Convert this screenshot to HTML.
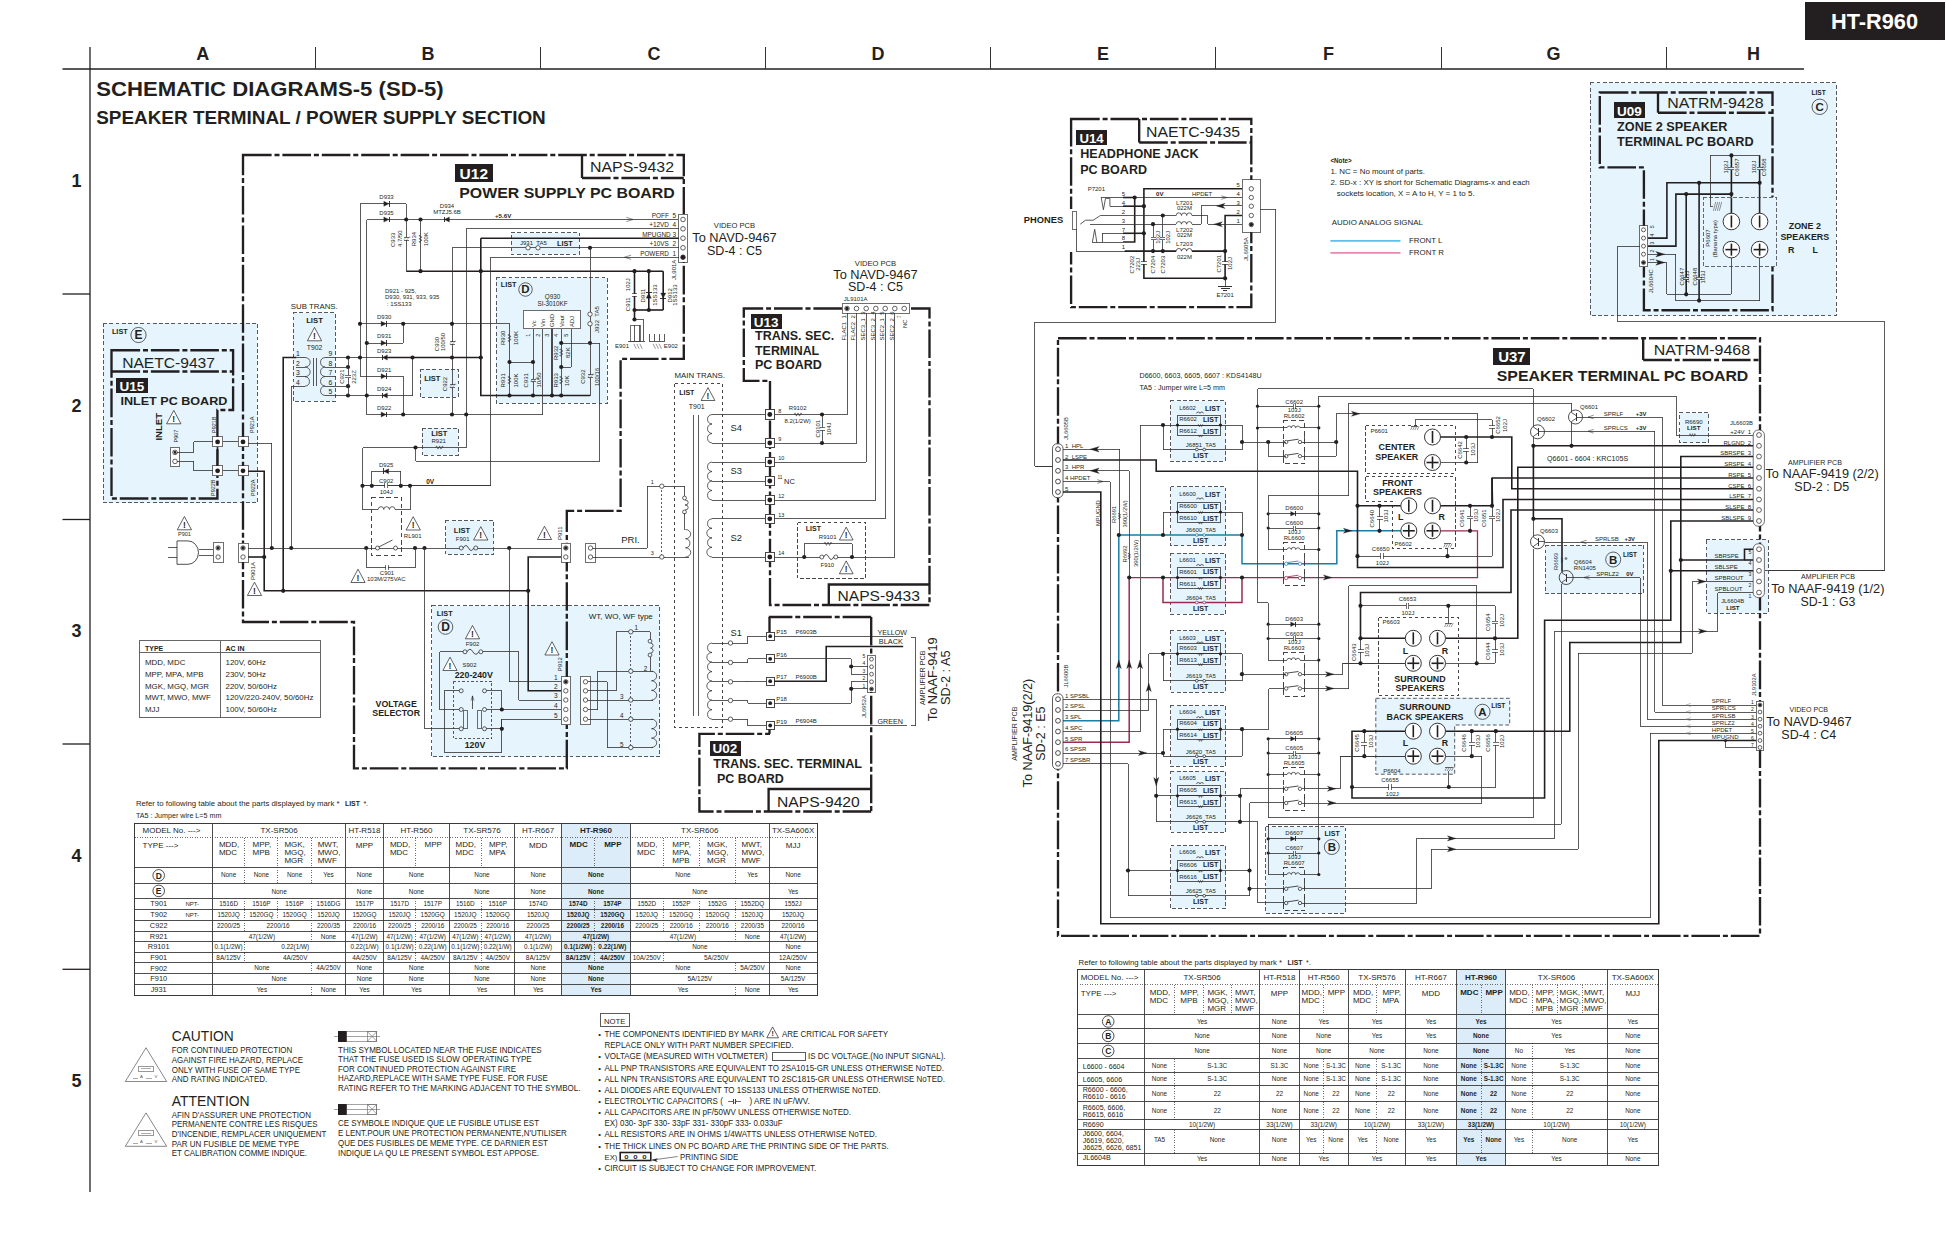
<!DOCTYPE html>
<html><head><meta charset="utf-8"><title>HT-R960 Schematic Diagrams-5</title>
<style>
html,body{margin:0;padding:0;background:#fff}
body{width:1946px;height:1260px;overflow:hidden}
svg{display:block;font-family:"Liberation Sans",Arial,Helvetica,sans-serif;fill:#231f20}
svg path{fill:none}
svg text{white-space:pre}
</style></head><body>
<svg width="1946" height="1260" viewBox="0 0 1946 1260">
<rect x="293.2" y="312.5" width="42.2" height="88.8" fill="#e5f4fd" stroke="#55595e" stroke-width="1" stroke-dasharray="3.8 2.4" shape-rendering="crispEdges"/>
<rect x="496.2" y="277.5" width="111.2" height="125.5" fill="#e5f4fd" stroke="#55595e" stroke-width="1" stroke-dasharray="3.8 2.4" shape-rendering="crispEdges"/>
<rect x="511.2" y="232.5" width="68.2" height="21.8" fill="#e5f4fd" stroke="#55595e" stroke-width="1" stroke-dasharray="3.8 2.4" shape-rendering="crispEdges"/>
<rect x="420" y="369.2" width="38.2" height="28.2" fill="#e5f4fd" stroke="#55595e" stroke-width="1" stroke-dasharray="3.8 2.4" shape-rendering="crispEdges"/>
<rect x="422" y="428.2" width="36" height="27.2" fill="#e5f4fd" stroke="#55595e" stroke-width="1" stroke-dasharray="3.8 2.4" shape-rendering="crispEdges"/>
<rect x="445.5" y="520.5" width="48.2" height="33.8" fill="#e5f4fd" stroke="#55595e" stroke-width="1" stroke-dasharray="3.8 2.4" shape-rendering="crispEdges"/>
<rect x="431.8" y="605.8" width="227.8" height="151" fill="#e5f4fd" stroke="#55595e" stroke-width="1" stroke-dasharray="3.8 2.4" shape-rendering="crispEdges"/>
<rect x="103.1" y="323.4" width="154.2" height="179.1" fill="#e5f4fd" stroke="#55595e" stroke-width="1" stroke-dasharray="3.8 2.4" shape-rendering="crispEdges"/>
<rect x="1590.3" y="82.5" width="245.7" height="233.2" fill="#e5f4fd" stroke="#55595e" stroke-width="1" stroke-dasharray="3.8 2.4" shape-rendering="crispEdges"/>
<rect x="1170.5" y="400.8" width="55" height="60.5" fill="#e5f4fd" stroke="#55595e" stroke-width="1" stroke-dasharray="3.8 2.4" shape-rendering="crispEdges"/>
<rect x="1170.5" y="486.8" width="55" height="58.8" fill="#e5f4fd" stroke="#55595e" stroke-width="1" stroke-dasharray="3.8 2.4" shape-rendering="crispEdges"/>
<rect x="1170.5" y="553.2" width="55" height="61" fill="#e5f4fd" stroke="#55595e" stroke-width="1" stroke-dasharray="3.8 2.4" shape-rendering="crispEdges"/>
<rect x="1170.5" y="630.8" width="55" height="61.2" fill="#e5f4fd" stroke="#55595e" stroke-width="1" stroke-dasharray="3.8 2.4" shape-rendering="crispEdges"/>
<rect x="1170.5" y="705.5" width="55" height="60.8" fill="#e5f4fd" stroke="#55595e" stroke-width="1" stroke-dasharray="3.8 2.4" shape-rendering="crispEdges"/>
<rect x="1170.5" y="771.2" width="55" height="61.2" fill="#e5f4fd" stroke="#55595e" stroke-width="1" stroke-dasharray="3.8 2.4" shape-rendering="crispEdges"/>
<rect x="1170.5" y="845.5" width="55" height="62.8" fill="#e5f4fd" stroke="#55595e" stroke-width="1" stroke-dasharray="3.8 2.4" shape-rendering="crispEdges"/>
<rect x="1265.5" y="826.5" width="79.5" height="86.8" fill="#e5f4fd" stroke="#55595e" stroke-width="1" stroke-dasharray="3.8 2.4" shape-rendering="crispEdges"/>
<rect x="1679.5" y="412.5" width="29.2" height="30" fill="#e5f4fd" stroke="#55595e" stroke-width="1" stroke-dasharray="3.8 2.4" shape-rendering="crispEdges"/>
<rect x="1545" y="545" width="98.8" height="48" fill="#e5f4fd" stroke="#55595e" stroke-width="1" stroke-dasharray="3.8 2.4" shape-rendering="crispEdges"/>
<rect x="1706.2" y="539.5" width="61.8" height="73.8" fill="#e5f4fd" stroke="#55595e" stroke-width="1" stroke-dasharray="3.8 2.4" shape-rendering="crispEdges"/>
<path d="M1375.8 698.3H1509.7V725H1454.7V774.2H1375.8Z" stroke="#55595e" stroke-width="1" stroke-dasharray="3.8 2.4" style="fill:#e5f4fd"/>
<path d="M62.5 69L1804 69" stroke="#231f20" stroke-width="1.3"/>
<path d="M90 47L90 1192" stroke="#231f20" stroke-width="1.3"/>
<path d="M315 47L315 69" stroke="#343132" stroke-width="1.0" shape-rendering="crispEdges"/>
<path d="M540 47L540 69" stroke="#343132" stroke-width="1.0" shape-rendering="crispEdges"/>
<path d="M765.3 47L765.3 69" stroke="#343132" stroke-width="1.0" shape-rendering="crispEdges"/>
<path d="M990.6 47L990.6 69" stroke="#343132" stroke-width="1.0" shape-rendering="crispEdges"/>
<path d="M1215.8 47L1215.8 69" stroke="#343132" stroke-width="1.0" shape-rendering="crispEdges"/>
<path d="M1441 47L1441 69" stroke="#343132" stroke-width="1.0" shape-rendering="crispEdges"/>
<path d="M1666.4 47L1666.4 69" stroke="#343132" stroke-width="1.0" shape-rendering="crispEdges"/>
<path d="M62.5 294L90 294" stroke="#231f20" stroke-width="1.3"/>
<path d="M62.5 519.5L90 519.5" stroke="#231f20" stroke-width="1.3"/>
<path d="M62.5 744L90 744" stroke="#231f20" stroke-width="1.3"/>
<path d="M62.5 969.3L90 969.3" stroke="#231f20" stroke-width="1.3"/>
<text x="202.7" y="59.8" font-size="18" font-weight="bold" text-anchor="middle">A</text>
<text x="428" y="59.8" font-size="18" font-weight="bold" text-anchor="middle">B</text>
<text x="654" y="59.8" font-size="18" font-weight="bold" text-anchor="middle">C</text>
<text x="878" y="59.8" font-size="18" font-weight="bold" text-anchor="middle">D</text>
<text x="1103" y="59.8" font-size="18" font-weight="bold" text-anchor="middle">E</text>
<text x="1328.4" y="59.8" font-size="18" font-weight="bold" text-anchor="middle">F</text>
<text x="1553.5" y="59.8" font-size="18" font-weight="bold" text-anchor="middle">G</text>
<text x="1753.6" y="59.8" font-size="18" font-weight="bold" text-anchor="middle">H</text>
<text x="76.5" y="186.5" font-size="18" font-weight="bold" text-anchor="middle">1</text>
<text x="76.5" y="411.5" font-size="18" font-weight="bold" text-anchor="middle">2</text>
<text x="76.5" y="636.9" font-size="18" font-weight="bold" text-anchor="middle">3</text>
<text x="76.5" y="862.2" font-size="18" font-weight="bold" text-anchor="middle">4</text>
<text x="76.5" y="1087" font-size="18" font-weight="bold" text-anchor="middle">5</text>
<rect x="1805" y="1.5" width="139.5" height="38.5" fill="#231f20" stroke="none" stroke-width="0.7" shape-rendering="crispEdges"/>
<text x="1874.5" y="29.4" font-size="21.5" font-weight="bold" text-anchor="middle" textLength="87" lengthAdjust="spacingAndGlyphs" fill="#fff">HT-R960</text>
<text x="96.2" y="95.9" font-size="20.5" font-weight="bold" textLength="347.5" lengthAdjust="spacingAndGlyphs">SCHEMATIC DIAGRAMS-5 (SD-5)</text>
<text x="96.2" y="123.6" font-size="18.6" font-weight="bold" textLength="449.6" lengthAdjust="spacingAndGlyphs">SPEAKER TERMINAL / POWER SUPPLY SECTION</text>
<path d="M243 155L683.8 155L683.8 358.8L620.6 358.8L620.6 510.8L566.8 510.8L566.8 768.4L354 768.4L354 622L243 622Z" stroke="#231f20" stroke-width="2.35" stroke-dasharray="28.6 2.9 5 2.9"/>
<path d="M582 155L582 178" stroke="#231f20" stroke-width="2.35"/>
<path d="M582 178L683.8 178" stroke="#231f20" stroke-width="2.35" stroke-dasharray="28.6 2.9 5 2.9"/>
<text x="590" y="172" font-size="15" textLength="84" lengthAdjust="spacingAndGlyphs">NAPS-9432</text>
<rect x="455" y="164.2" width="37.5" height="18.2" fill="#231f20" stroke="none" stroke-width="0.7" shape-rendering="crispEdges"/>
<text x="473.8" y="179.4" font-size="15.5" font-weight="bold" text-anchor="middle" fill="#fff">U12</text>
<text x="459.2" y="197.5" font-size="14.7" font-weight="bold" textLength="215.5" lengthAdjust="spacingAndGlyphs">POWER SUPPLY PC BOARD</text>
<path d="M360 376.2L360 203.8L406.2 203.8L406.2 271.2" stroke="#343132" stroke-width="0.8" shape-rendering="crispEdges"/>
<path d="M383.8 201.2L388.9 203.8L383.8 206.3Z" stroke="#231f20" stroke-width="0.3" style="fill:#231f20"/>
<path d="M389.2 200.9L389.2 206.6" stroke="#231f20" stroke-width="0.9" shape-rendering="crispEdges"/>
<text x="386.5" y="199.2" font-size="6" text-anchor="middle">D933</text>
<path d="M366.8 414.5L366.8 219.5L677.5 219.5" stroke="#343132" stroke-width="0.8" shape-rendering="crispEdges"/>
<path d="M383.8 216.9L388.9 219.5L383.8 222.1Z" stroke="#231f20" stroke-width="0.3" style="fill:#231f20"/>
<path d="M389.2 216.6L389.2 222.4" stroke="#231f20" stroke-width="0.9" shape-rendering="crispEdges"/>
<text x="386.5" y="215" font-size="6" text-anchor="middle">D935</text>
<path d="M449.4 216.9L444.3 219.5L449.4 222.1Z" stroke="#231f20" stroke-width="0.3" style="fill:#231f20"/>
<path d="M444 216.6L444 222.4" stroke="#231f20" stroke-width="0.9" shape-rendering="crispEdges"/>
<text x="447" y="208" font-size="6" text-anchor="middle">D934</text>
<text x="447" y="214.2" font-size="6" text-anchor="middle">MTZJ5.6B</text>
<text x="495" y="217.5" font-size="6.2" font-weight="bold">+5.6V</text>
<path d="M626.4 217.4L633 219.5L626.4 221.6" stroke="#231f20" stroke-width="0.5"/>
<circle cx="406.2" cy="219.5" r="2.1" fill="#231f20"/>
<circle cx="420.5" cy="219.5" r="2.1" fill="#231f20"/>
<path d="M420.5 219.5L420.5 271.2" stroke="#343132" stroke-width="0.8" shape-rendering="crispEdges"/>
<path d="M420.5 235L418.9 235.8L422.1 237.2L418.9 238.8L422.1 240.2L418.9 241.8L420.5 242.5" stroke="#343132" stroke-width="0.6"/>
<rect x="404.9" y="237.4" width="2.8" height="2.6" fill="#fff" stroke="none" stroke-width="0.7" shape-rendering="crispEdges"/>
<path d="M403.8 237.4L408.8 237.4" stroke="#343132" stroke-width="0.7" shape-rendering="crispEdges"/>
<path d="M403.8 240.1L408.8 240.1" stroke="#343132" stroke-width="0.7" shape-rendering="crispEdges"/>
<path d="M403.8 239.9L406.8 236.6" stroke="#343132" stroke-width="0.4"/>
<path d="M405.8 240.9L408.8 237.6" stroke="#343132" stroke-width="0.4"/>
<text x="408.4" y="237.6" font-size="3.5">+</text>
<text x="395" y="247" font-size="6" transform="rotate(-90 395 247)">C933</text>
<text x="401.5" y="247" font-size="6" transform="rotate(-90 401.5 247)">4.7/50</text>
<text x="416.2" y="246.2" font-size="6" transform="rotate(-90 416.2 246.2)">R934</text>
<text x="428" y="246.2" font-size="6" transform="rotate(-90 428 246.2)">100K</text>
<path d="M406.2 271.2L663.2 271.2" stroke="#231f20" stroke-width="1.6"/>
<circle cx="420.5" cy="271.2" r="2.1" fill="#231f20"/>
<circle cx="480.8" cy="271.2" r="2.1" fill="#231f20"/>
<circle cx="634.5" cy="271.2" r="2.1" fill="#231f20"/>
<circle cx="648.8" cy="271.2" r="2.1" fill="#231f20"/>
<path d="M634.5 310L663.2 310" stroke="#231f20" stroke-width="1.6"/>
<path d="M634.5 271.2L634.5 319.5" stroke="#231f20" stroke-width="1.6"/>
<path d="M648.8 271.2L648.8 310" stroke="#231f20" stroke-width="1.6"/>
<path d="M663.2 271.2L663.2 310" stroke="#231f20" stroke-width="1.6"/>
<rect x="633.1" y="293.7" width="2.8" height="2.6" fill="#fff" stroke="none" stroke-width="0.7" shape-rendering="crispEdges"/>
<path d="M632 293.7L637 293.7" stroke="#343132" stroke-width="0.7" shape-rendering="crispEdges"/>
<path d="M632 296.3L637 296.3" stroke="#343132" stroke-width="0.7" shape-rendering="crispEdges"/>
<path d="M646.2 298.2L648.8 293.1L651.3 298.2Z" stroke="#231f20" stroke-width="0.3" style="fill:#231f20"/>
<path d="M645.9 292.8L651.6 292.8" stroke="#231f20" stroke-width="0.9" shape-rendering="crispEdges"/>
<path d="M660.7 293.1L663.2 298.2L665.8 293.1Z" stroke="#231f20" stroke-width="0.3" style="fill:#231f20"/>
<path d="M660.4 298.5L666.1 298.5" stroke="#231f20" stroke-width="0.9" shape-rendering="crispEdges"/>
<circle cx="634.5" cy="310" r="2.1" fill="#231f20"/>
<circle cx="648.8" cy="310" r="2.1" fill="#231f20"/>
<circle cx="634.5" cy="319.5" r="2.1" fill="#231f20"/>
<text x="630.5" y="311.2" font-size="6" transform="rotate(-90 630.5 311.2)">C911</text>
<text x="630.5" y="291.2" font-size="6" transform="rotate(-90 630.5 291.2)">102J</text>
<text x="645" y="302.5" font-size="6" transform="rotate(-90 645 302.5)">D911</text>
<text x="657" y="305.8" font-size="6" transform="rotate(-90 657 305.8)">1SS133</text>
<text x="672" y="302.5" font-size="6" transform="rotate(-90 672 302.5)">D912</text>
<text x="677.5" y="305.8" font-size="6" transform="rotate(-90 677.5 305.8)">1SS133</text>
<text x="675.5" y="280" font-size="6" transform="rotate(-90 675.5 280)">JL901A</text>
<path d="M634.5 319.5L643.8 319.5L643.8 341.2" stroke="#343132" stroke-width="0.8" shape-rendering="crispEdges"/>
<rect x="630" y="325" width="10" height="16.2" fill="#fff" stroke="#343132" stroke-width="0.7" shape-rendering="crispEdges"/>
<path d="M634.5 325L634.5 341.2" stroke="#343132" stroke-width="0.8" shape-rendering="crispEdges"/>
<path d="M639 325L639 341.2" stroke="#343132" stroke-width="0.8" shape-rendering="crispEdges"/>
<path d="M627.5 341.2L645 341.2" stroke="#343132" stroke-width="0.8" shape-rendering="crispEdges"/>
<path d="M633.8 343.8L636.2 348.8" stroke="#343132" stroke-width="0.5"/>
<path d="M636.8 343.8L639.2 348.8" stroke="#343132" stroke-width="0.5"/>
<path d="M639.8 343.8L642.2 348.8" stroke="#343132" stroke-width="0.5"/>
<text x="615" y="348" font-size="6">E901</text>
<path d="M648.8 341.2L665 341.2" stroke="#343132" stroke-width="0.8" shape-rendering="crispEdges"/>
<path d="M649.5 333.8L649.5 341.2" stroke="#343132" stroke-width="0.8" shape-rendering="crispEdges"/>
<path d="M654.5 333.8L654.5 341.2" stroke="#343132" stroke-width="0.8" shape-rendering="crispEdges"/>
<path d="M659.5 333.8L659.5 341.2" stroke="#343132" stroke-width="0.8" shape-rendering="crispEdges"/>
<path d="M664.5 333.8L664.5 341.2" stroke="#343132" stroke-width="0.8" shape-rendering="crispEdges"/>
<path d="M653 343.8L655.5 348.8" stroke="#343132" stroke-width="0.5"/>
<path d="M656 343.8L658.5 348.8" stroke="#343132" stroke-width="0.5"/>
<path d="M659 343.8L661.5 348.8" stroke="#343132" stroke-width="0.5"/>
<text x="663.8" y="348" font-size="6">E902</text>
<rect x="678.8" y="214.2" width="8.8" height="47.8" fill="#fff" stroke="#343132" stroke-width="0.7" shape-rendering="crispEdges"/>
<circle cx="683" cy="219.5" r="2.3" fill="#fff" stroke="#231f20" stroke-width="0.7"/>
<circle cx="683" cy="228.8" r="2.3" fill="#fff" stroke="#231f20" stroke-width="0.7"/>
<circle cx="683" cy="238.2" r="2.3" fill="#fff" stroke="#231f20" stroke-width="0.7"/>
<circle cx="683" cy="247.8" r="2.3" fill="#fff" stroke="#231f20" stroke-width="0.7"/>
<circle cx="683" cy="257.2" r="2.3" fill="#fff" stroke="#231f20" stroke-width="0.7"/>
<circle cx="683" cy="257.2" r="2.2" fill="#231f20"/>
<text x="676" y="217.5" font-size="6.4" text-anchor="end">POFF  5</text>
<text x="676" y="227" font-size="6.4" text-anchor="end">+12VD  4</text>
<text x="676" y="236.5" font-size="6.4" text-anchor="end">MPUGND 3</text>
<text x="676" y="246" font-size="6.4" text-anchor="end">+10VS  2</text>
<text x="676" y="255.5" font-size="6.4" text-anchor="end">POWERD  1</text>
<path d="M678.8 228.8L466.2 228.8L466.2 447.5L362.5 447.5L362.5 485.8" stroke="#343132" stroke-width="0.8" shape-rendering="crispEdges"/>
<path d="M480.8 238.2L678.8 238.2" stroke="#231f20" stroke-width="1.6"/>
<path d="M480.8 238.2L480.8 395.5L590 395.5" stroke="#231f20" stroke-width="1.6"/>
<path d="M678.8 247.8L452 247.8L452 414.5" stroke="#343132" stroke-width="0.8" shape-rendering="crispEdges"/>
<path d="M678.8 257.2L490.8 257.2L490.8 485.8L362.5 485.8" stroke="#343132" stroke-width="0.8" shape-rendering="crispEdges"/>
<path d="M631.1 255.2L624.5 257.2L631.1 259.4" stroke="#231f20" stroke-width="0.5"/>
<circle cx="528" cy="247.8" r="2.2" fill="#fff" stroke="#231f20" stroke-width="0.7"/>
<circle cx="538" cy="247.8" r="2.2" fill="#fff" stroke="#231f20" stroke-width="0.7"/>
<text x="520" y="244.5" font-size="6">J931  TA5</text>
<text x="557" y="246" font-size="7.3" font-weight="bold">LIST</text>
<circle cx="590" cy="247.8" r="2.1" fill="#231f20"/>
<path d="M590 247.8L590 395.5" stroke="#343132" stroke-width="0.8" shape-rendering="crispEdges"/>
<circle cx="590" cy="314.2" r="2.2" fill="#fff" stroke="#231f20" stroke-width="0.7"/>
<circle cx="590" cy="323.8" r="2.2" fill="#fff" stroke="#231f20" stroke-width="0.7"/>
<circle cx="590" cy="343" r="2.1" fill="#231f20"/>
<text x="598.8" y="333" font-size="6" transform="rotate(-90 598.8 333)">J932  TA5</text>
<path d="M561.2 343L599.5 343L599.5 461.2L415.5 461.2L415.5 447.5" stroke="#343132" stroke-width="0.8" shape-rendering="crispEdges"/>
<rect x="523.2" y="310.5" width="57.2" height="18.2" fill="#fff" stroke="#343132" stroke-width="0.7" shape-rendering="crispEdges"/>
<text x="552.5" y="299.2" font-size="6.3" text-anchor="middle">Q930</text>
<text x="552.5" y="306.2" font-size="6.3" text-anchor="middle">SI-3010KF</text>
<text x="535.5" y="327" font-size="5.8" transform="rotate(-90 535.5 327)">Vc</text>
<text x="544.8" y="327" font-size="5.8" transform="rotate(-90 544.8 327)">Vin</text>
<text x="554.2" y="327" font-size="5.8" transform="rotate(-90 554.2 327)">GND</text>
<text x="563.5" y="327" font-size="5.8" transform="rotate(-90 563.5 327)">Vout</text>
<text x="573.5" y="327" font-size="5.8" transform="rotate(-90 573.5 327)">ADJ</text>
<text x="530" y="336.8" font-size="5.5" transform="rotate(-90 530 336.8)">1</text>
<text x="540" y="336.8" font-size="5.5" transform="rotate(-90 540 336.8)">2</text>
<text x="549.5" y="336.8" font-size="5.5" transform="rotate(-90 549.5 336.8)">3</text>
<text x="558.2" y="336.8" font-size="5.5" transform="rotate(-90 558.2 336.8)">4</text>
<text x="568" y="336.8" font-size="5.5" transform="rotate(-90 568 336.8)">5</text>
<text x="500.8" y="286.8" font-size="7.2" font-weight="bold">LIST</text>
<circle cx="525.5" cy="289.5" r="6.75" fill="none" stroke="#231f20" stroke-width="0.7"/>
<text x="525.5" y="293.2" font-size="11.5" font-weight="bold" text-anchor="middle">D</text>
<path d="M533 328.8L533 395.5" stroke="#343132" stroke-width="0.8" shape-rendering="crispEdges"/>
<path d="M542.5 328.8L542.5 414.5" stroke="#343132" stroke-width="0.8" shape-rendering="crispEdges"/>
<path d="M552 328.8L552 395.5" stroke="#231f20" stroke-width="1.6"/>
<path d="M561.2 328.8L561.2 395.5" stroke="#343132" stroke-width="0.8" shape-rendering="crispEdges"/>
<path d="M571.2 328.8L571.2 367L561.2 367" stroke="#343132" stroke-width="0.8" shape-rendering="crispEdges"/>
<circle cx="561.2" cy="343" r="2.1" fill="#231f20"/>
<circle cx="561.2" cy="367" r="2.1" fill="#231f20"/>
<path d="M561.2 348.8L559.6 349.5L562.9 351L559.6 352.5L562.9 354L559.6 355.5L561.2 356.2" stroke="#343132" stroke-width="0.6"/>
<path d="M561.2 376.2L559.6 377L562.9 378.5L559.6 380L562.9 381.5L559.6 383L561.2 383.8" stroke="#343132" stroke-width="0.6"/>
<text x="557.5" y="360" font-size="6" transform="rotate(-90 557.5 360)">R932</text>
<text x="569.5" y="358" font-size="6" transform="rotate(-90 569.5 358)">82K</text>
<text x="557.5" y="387.5" font-size="6" transform="rotate(-90 557.5 387.5)">R933</text>
<text x="569.5" y="386.2" font-size="6" transform="rotate(-90 569.5 386.2)">10K</text>
<text x="585" y="383.8" font-size="6" transform="rotate(-90 585 383.8)">C932</text>
<text x="598.8" y="386.2" font-size="6" transform="rotate(-90 598.8 386.2)">100/16</text>
<rect x="588.6" y="374.9" width="2.8" height="2.6" fill="#e5f4fd" stroke="none" stroke-width="0.7" shape-rendering="crispEdges"/>
<path d="M587.5 374.9L592.5 374.9" stroke="#343132" stroke-width="0.7" shape-rendering="crispEdges"/>
<path d="M587.5 377.6L592.5 377.6" stroke="#343132" stroke-width="0.7" shape-rendering="crispEdges"/>
<path d="M587.5 377.4L590.5 374.1" stroke="#343132" stroke-width="0.4"/>
<path d="M589.5 378.4L592.5 375.1" stroke="#343132" stroke-width="0.4"/>
<text x="592.2" y="375.1" font-size="3.5">+</text>
<path d="M403.2 323.8L509.5 323.8L509.5 395.5" stroke="#343132" stroke-width="0.8" shape-rendering="crispEdges"/>
<path d="M509.5 362L533 362" stroke="#343132" stroke-width="0.8" shape-rendering="crispEdges"/>
<circle cx="509.5" cy="362" r="2.1" fill="#231f20"/>
<circle cx="533" cy="362" r="2.1" fill="#231f20"/>
<path d="M509.5 334.2L507.9 335L511.1 336.5L507.9 338L511.1 339.5L507.9 341L509.5 341.8" stroke="#343132" stroke-width="0.6"/>
<path d="M509.5 376.2L507.9 377L511.1 378.5L507.9 380L511.1 381.5L507.9 383L509.5 383.8" stroke="#343132" stroke-width="0.6"/>
<rect x="531.6" y="379.2" width="2.8" height="2.6" fill="#e5f4fd" stroke="none" stroke-width="0.7" shape-rendering="crispEdges"/>
<path d="M530.5 379.2L535.5 379.2" stroke="#343132" stroke-width="0.7" shape-rendering="crispEdges"/>
<path d="M530.5 381.8L535.5 381.8" stroke="#343132" stroke-width="0.7" shape-rendering="crispEdges"/>
<path d="M530.5 381.7L533.5 378.3" stroke="#343132" stroke-width="0.4"/>
<path d="M532.5 382.7L535.5 379.3" stroke="#343132" stroke-width="0.4"/>
<text x="535.2" y="379.3" font-size="3.5">+</text>
<text x="505" y="345" font-size="6" transform="rotate(-90 505 345)">R930</text>
<text x="517.5" y="345" font-size="6" transform="rotate(-90 517.5 345)">100K</text>
<text x="505" y="387.5" font-size="6" transform="rotate(-90 505 387.5)">R931</text>
<text x="517.5" y="387.5" font-size="6" transform="rotate(-90 517.5 387.5)">100K</text>
<text x="528.2" y="387.5" font-size="6" transform="rotate(-90 528.2 387.5)">C931</text>
<text x="541.2" y="387.5" font-size="6" transform="rotate(-90 541.2 387.5)">10/50</text>
<circle cx="509.5" cy="395.5" r="2.1" fill="#231f20"/>
<circle cx="533" cy="395.5" r="2.1" fill="#231f20"/>
<circle cx="552" cy="395.5" r="2.1" fill="#231f20"/>
<circle cx="561.2" cy="395.5" r="2.1" fill="#231f20"/>
<circle cx="480.8" cy="357.5" r="2.1" fill="#231f20"/>
<path d="M360 323.8L403.2 323.8" stroke="#343132" stroke-width="0.8" shape-rendering="crispEdges"/>
<path d="M381.1 321.2L386.2 323.8L381.1 326.3Z" stroke="#231f20" stroke-width="0.3" style="fill:#231f20"/>
<path d="M386.5 320.9L386.5 326.6" stroke="#231f20" stroke-width="0.9" shape-rendering="crispEdges"/>
<text x="384.2" y="319.2" font-size="6" text-anchor="middle">D930</text>
<path d="M366.8 343L403.2 343L403.2 323.8" stroke="#343132" stroke-width="0.8" shape-rendering="crispEdges"/>
<path d="M381.1 340.4L386.2 343L381.1 345.6Z" stroke="#231f20" stroke-width="0.3" style="fill:#231f20"/>
<path d="M386.5 340.1L386.5 345.9" stroke="#231f20" stroke-width="0.9" shape-rendering="crispEdges"/>
<text x="384.2" y="338.2" font-size="6" text-anchor="middle">D931</text>
<path d="M336.2 357.5L387.5 357.5" stroke="#343132" stroke-width="0.8" shape-rendering="crispEdges"/>
<path d="M387.5 357.5L480.8 357.5" stroke="#231f20" stroke-width="1.6"/>
<path d="M387.4 354.9L382.3 357.5L387.4 360.1Z" stroke="#231f20" stroke-width="0.3" style="fill:#231f20"/>
<path d="M382 354.6L382 360.4" stroke="#231f20" stroke-width="0.9" shape-rendering="crispEdges"/>
<text x="384.2" y="352.8" font-size="6" text-anchor="middle">D923</text>
<path d="M360 376.2L403.2 376.2L403.2 414.5" stroke="#343132" stroke-width="0.8" shape-rendering="crispEdges"/>
<path d="M381.1 373.7L386.2 376.2L381.1 378.8Z" stroke="#231f20" stroke-width="0.3" style="fill:#231f20"/>
<path d="M386.5 373.4L386.5 379.1" stroke="#231f20" stroke-width="0.9" shape-rendering="crispEdges"/>
<text x="384.2" y="371.8" font-size="6" text-anchor="middle">D921</text>
<path d="M336.2 395.5L412.5 395.5L412.5 357.5" stroke="#343132" stroke-width="0.8" shape-rendering="crispEdges"/>
<path d="M387.4 392.9L382.3 395.5L387.4 398.1Z" stroke="#231f20" stroke-width="0.3" style="fill:#231f20"/>
<path d="M382 392.6L382 398.4" stroke="#231f20" stroke-width="0.9" shape-rendering="crispEdges"/>
<text x="384.2" y="390.8" font-size="6" text-anchor="middle">D924</text>
<path d="M366.8 414.5L542.5 414.5" stroke="#343132" stroke-width="0.8" shape-rendering="crispEdges"/>
<path d="M381.1 411.9L386.2 414.5L381.1 417.1Z" stroke="#231f20" stroke-width="0.3" style="fill:#231f20"/>
<path d="M386.5 411.6L386.5 417.4" stroke="#231f20" stroke-width="0.9" shape-rendering="crispEdges"/>
<text x="384.2" y="410" font-size="6" text-anchor="middle">D922</text>
<circle cx="360" cy="323.8" r="2.1" fill="#231f20"/>
<circle cx="403.2" cy="323.8" r="2.1" fill="#231f20"/>
<circle cx="452" cy="323.8" r="2.1" fill="#231f20"/>
<circle cx="366.8" cy="343" r="2.1" fill="#231f20"/>
<circle cx="348" cy="357.5" r="2.1" fill="#231f20"/>
<circle cx="360" cy="357.5" r="2.1" fill="#231f20"/>
<circle cx="412.5" cy="357.5" r="2.1" fill="#231f20"/>
<circle cx="452" cy="357.5" r="2.1" fill="#231f20"/>
<circle cx="348" cy="395.5" r="2.1" fill="#231f20"/>
<circle cx="366.8" cy="395.5" r="2.1" fill="#231f20"/>
<circle cx="403.2" cy="414.5" r="2.1" fill="#231f20"/>
<circle cx="452" cy="414.5" r="2.1" fill="#231f20"/>
<circle cx="466.2" cy="414.5" r="2.1" fill="#231f20"/>
<circle cx="348" cy="367" r="2.1" fill="#231f20"/>
<circle cx="348" cy="386.2" r="2.1" fill="#231f20"/>
<path d="M348 357.5L348 395.5" stroke="#343132" stroke-width="0.8" shape-rendering="crispEdges"/>
<rect x="346.6" y="375.2" width="2.8" height="2.6" fill="#fff" stroke="none" stroke-width="0.7" shape-rendering="crispEdges"/>
<path d="M345 375.2L351 375.2" stroke="#343132" stroke-width="0.7" shape-rendering="crispEdges"/>
<path d="M345 377.8L351 377.8" stroke="#343132" stroke-width="0.7" shape-rendering="crispEdges"/>
<text x="344.5" y="383.8" font-size="6" transform="rotate(-90 344.5 383.8)">C921</text>
<text x="356.2" y="383.8" font-size="6" transform="rotate(-90 356.2 383.8)">223Z</text>
<rect x="450.6" y="341.7" width="2.8" height="2.6" fill="#fff" stroke="none" stroke-width="0.7" shape-rendering="crispEdges"/>
<path d="M449.5 341.7L454.5 341.7" stroke="#343132" stroke-width="0.7" shape-rendering="crispEdges"/>
<path d="M449.5 344.3L454.5 344.3" stroke="#343132" stroke-width="0.7" shape-rendering="crispEdges"/>
<path d="M449.5 344.2L452.5 340.8" stroke="#343132" stroke-width="0.4"/>
<path d="M451.5 345.2L454.5 341.8" stroke="#343132" stroke-width="0.4"/>
<text x="454.2" y="341.8" font-size="3.5">+</text>
<text x="438.8" y="351.2" font-size="6" transform="rotate(-90 438.8 351.2)">C930</text>
<text x="445.5" y="351.2" font-size="6" transform="rotate(-90 445.5 351.2)">100/50</text>
<text x="385" y="292.8" font-size="6">D921 - 925,</text>
<text x="385" y="299.2" font-size="6">D930, 931, 933, 935</text>
<text x="386.8" y="305.5" font-size="6">: 1SS133</text>
<text x="424.2" y="380.8" font-size="7.5" font-weight="bold">LIST</text>
<rect x="450.6" y="384.9" width="2.8" height="2.6" fill="#e5f4fd" stroke="none" stroke-width="0.7" shape-rendering="crispEdges"/>
<path d="M449.5 384.9L454.5 384.9" stroke="#343132" stroke-width="0.7" shape-rendering="crispEdges"/>
<path d="M449.5 387.6L454.5 387.6" stroke="#343132" stroke-width="0.7" shape-rendering="crispEdges"/>
<path d="M449.5 387.4L452.5 384.1" stroke="#343132" stroke-width="0.4"/>
<path d="M451.5 388.4L454.5 385.1" stroke="#343132" stroke-width="0.4"/>
<text x="454.2" y="385.1" font-size="3.5">+</text>
<text x="447" y="391.2" font-size="6" transform="rotate(-90 447 391.2)">C922</text>
<text x="431.2" y="436.2" font-size="7.5" font-weight="bold">LIST</text>
<text x="431.5" y="442.5" font-size="6">R921</text>
<path d="M435.8 447.5L436.5 445.9L438 449.1L439.5 445.9L441 449.1L442.5 445.9L443.2 447.5" stroke="#343132" stroke-width="0.6"/>
<circle cx="415.5" cy="447.5" r="2.1" fill="#231f20"/>
<text x="290.8" y="308.8" font-size="7.6" textLength="47" lengthAdjust="spacingAndGlyphs">SUB TRANS.</text>
<text x="314.5" y="322.5" font-size="7.7" font-weight="bold" text-anchor="middle">LIST</text>
<path d="M314.5 327.4L321.6 340.8L307.4 340.8Z" stroke="#231f20" stroke-width="0.7" style="fill:#fff"/>
<text x="314.5" y="338.9" font-size="8.549999999999999" font-weight="bold" text-anchor="middle">!</text>
<text x="314.5" y="349.5" font-size="6.8" text-anchor="middle">T902</text>
<text x="296" y="356.3" font-size="6.8">1</text>
<text x="296" y="365.8" font-size="6.8">2</text>
<text x="296" y="375.1" font-size="6.8">3</text>
<text x="296" y="385.1" font-size="6.8">4</text>
<text x="328.5" y="356.3" font-size="6.8">9</text>
<text x="328.5" y="365.8" font-size="6.8">8</text>
<text x="328.5" y="375.1" font-size="6.8">7</text>
<text x="328.5" y="385.1" font-size="6.8">6</text>
<text x="328.5" y="394.3" font-size="6.8">5</text>
<path d="M305 357.5A5.2 4.8 0 0 1 305 367.1A5.2 4.8 0 0 1 305 376.7A5.2 4.8 0 0 1 305 386.2" stroke="#231f20" stroke-width="0.7"/>
<path d="M296.2 357.5L305 357.5" stroke="#343132" stroke-width="0.8" shape-rendering="crispEdges"/>
<path d="M296.2 386.2L305 386.2" stroke="#343132" stroke-width="0.8" shape-rendering="crispEdges"/>
<path d="M296.2 367L305 367" stroke="#343132" stroke-width="0.8" shape-rendering="crispEdges"/>
<path d="M296.2 376.2L305 376.2" stroke="#343132" stroke-width="0.8" shape-rendering="crispEdges"/>
<path d="M325 357.5A5.2 4.8 0 0 0 325 367A5.2 4.8 0 0 0 325 376.5A5.2 4.8 0 0 0 325 386A5.2 4.8 0 0 0 325 395.5" stroke="#231f20" stroke-width="0.7"/>
<path d="M325 357.5L336.2 357.5" stroke="#343132" stroke-width="0.8" shape-rendering="crispEdges"/>
<path d="M325 367L348 367" stroke="#343132" stroke-width="0.8" shape-rendering="crispEdges"/>
<path d="M325 376.2L336.2 376.2" stroke="#343132" stroke-width="0.8" shape-rendering="crispEdges"/>
<path d="M325 386.2L348 386.2" stroke="#343132" stroke-width="0.8" shape-rendering="crispEdges"/>
<path d="M325 395.5L336.2 395.5" stroke="#343132" stroke-width="0.8" shape-rendering="crispEdges"/>
<path d="M313.8 357.5L313.8 386.2" stroke="#343132" stroke-width="0.8" shape-rendering="crispEdges"/>
<path d="M316.2 357.5L316.2 386.2" stroke="#343132" stroke-width="0.8" shape-rendering="crispEdges"/>
<path d="M296.2 357.5L283.2 357.5L283.2 590.8" stroke="#231f20" stroke-width="1.6"/>
<path d="M296.2 386.2L291.2 386.2L291.2 548" stroke="#343132" stroke-width="0.8" shape-rendering="crispEdges"/>
<path d="M243 471.2L264.2 471.2L264.2 590.8L528.2 590.8L528.2 557L565 557" stroke="#231f20" stroke-width="1.6"/>
<path d="M528.2 590.8L528.2 690.8L565 690.8" stroke="#231f20" stroke-width="1.6"/>
<circle cx="283.2" cy="590.8" r="2.1" fill="#231f20"/>
<circle cx="528.2" cy="590.8" r="2.1" fill="#231f20"/>
<circle cx="264.2" cy="557" r="2.1" fill="#231f20"/>
<path d="M243 557L264.2 557" stroke="#231f20" stroke-width="1.6"/>
<path d="M243 443.1L271.8 443.1L271.8 548" stroke="#343132" stroke-width="0.8" shape-rendering="crispEdges"/>
<path d="M243 548L565 548" stroke="#343132" stroke-width="0.8" shape-rendering="crispEdges"/>
<circle cx="271.8" cy="548" r="2.1" fill="#231f20"/>
<circle cx="291.2" cy="548" r="2.1" fill="#231f20"/>
<circle cx="366.2" cy="548" r="2.1" fill="#231f20"/>
<circle cx="415" cy="548" r="2.1" fill="#231f20"/>
<circle cx="424.5" cy="548" r="2.1" fill="#231f20"/>
<circle cx="509.2" cy="548" r="2.1" fill="#231f20"/>
<rect x="238.8" y="543.2" width="9.2" height="18.8" fill="#fff" stroke="#343132" stroke-width="0.7" shape-rendering="crispEdges"/>
<circle cx="243" cy="548" r="2.2" fill="#fff" stroke="#231f20" stroke-width="0.7"/>
<circle cx="243" cy="548" r="1.7" fill="#231f20"/>
<circle cx="243" cy="557" r="2.2" fill="#fff" stroke="#231f20" stroke-width="0.7"/>
<text x="254.5" y="580" font-size="6" transform="rotate(-90 254.5 580)">P901A</text>
<path d="M254.5 582.2L261.6 595.5L247.4 595.5Z" stroke="#231f20" stroke-width="0.7" style="fill:#fff"/>
<text x="254.5" y="593.6" font-size="8.549999999999999" font-weight="bold" text-anchor="middle">!</text>
<path d="M362.5 485.8L490.8 485.8" stroke="#343132" stroke-width="0.8" shape-rendering="crispEdges"/>
<circle cx="362.5" cy="485.8" r="2.1" fill="#231f20"/>
<circle cx="371.8" cy="485.8" r="2.1" fill="#231f20"/>
<circle cx="400.8" cy="485.8" r="2.1" fill="#231f20"/>
<circle cx="410" cy="485.8" r="2.1" fill="#231f20"/>
<text x="426.2" y="483.8" font-size="6.5" font-weight="bold">0V</text>
<path d="M371.8 485.8L371.8 471.2L400.8 471.2L400.8 485.8" stroke="#343132" stroke-width="0.8" shape-rendering="crispEdges"/>
<path d="M388.7 468.7L383.6 471.2L388.7 473.8Z" stroke="#231f20" stroke-width="0.3" style="fill:#231f20"/>
<path d="M383.3 468.4L383.3 474.1" stroke="#231f20" stroke-width="0.9" shape-rendering="crispEdges"/>
<text x="386.2" y="466.8" font-size="6" text-anchor="middle">D925</text>
<text x="386.2" y="482.5" font-size="6" text-anchor="middle">C902</text>
<text x="386.2" y="493.8" font-size="6" text-anchor="middle">104J</text>
<rect x="384.9" y="484.4" width="2.6" height="2.8" fill="#fff" stroke="none" stroke-width="0.7" shape-rendering="crispEdges"/>
<path d="M384.9 483.2L384.9 488.2" stroke="#343132" stroke-width="0.7" shape-rendering="crispEdges"/>
<path d="M387.6 483.2L387.6 488.2" stroke="#343132" stroke-width="0.7" shape-rendering="crispEdges"/>
<path d="M362.5 485.8L362.5 509.5L378.2 509.5" stroke="#343132" stroke-width="0.8" shape-rendering="crispEdges"/>
<path d="M395 509.5L410 509.5L410 485.8" stroke="#343132" stroke-width="0.8" shape-rendering="crispEdges"/>
<path d="M378.2 509.5A2.8 2.8 0 0 1 383.8 509.5A2.8 2.8 0 0 1 389.4 509.5A2.8 2.8 0 0 1 395 509.5" stroke="#231f20" stroke-width="0.7"/>
<rect x="371.8" y="497" width="30" height="58.5" fill="none" stroke="#343132" stroke-width="0.9" stroke-dasharray="4.5 2.8" shape-rendering="crispEdges"/>
<circle cx="377.5" cy="548" r="2" fill="#fff" stroke="#231f20" stroke-width="0.7"/>
<circle cx="395.5" cy="548" r="2" fill="#fff" stroke="#231f20" stroke-width="0.7"/>
<path d="M378.8 547L392.5 540" stroke="#343132" stroke-width="0.8"/>
<path d="M413.2 516.7L420.4 530L406.1 530Z" stroke="#231f20" stroke-width="0.7" style="fill:#fff"/>
<text x="413.2" y="528.1" font-size="8.549999999999999" font-weight="bold" text-anchor="middle">!</text>
<text x="403.8" y="537.5" font-size="6">RL901</text>
<path d="M366.2 548L366.2 567L415.5 567L415.5 548" stroke="#343132" stroke-width="0.8" shape-rendering="crispEdges"/>
<rect x="385.7" y="565.6" width="2.6" height="2.8" fill="#fff" stroke="none" stroke-width="0.7" shape-rendering="crispEdges"/>
<path d="M385.7 564.5L385.7 569.5" stroke="#343132" stroke-width="0.7" shape-rendering="crispEdges"/>
<path d="M388.3 564.5L388.3 569.5" stroke="#343132" stroke-width="0.7" shape-rendering="crispEdges"/>
<text x="387" y="575" font-size="6" text-anchor="middle">C901</text>
<text x="367" y="581.2" font-size="6">103M/275VAC</text>
<path d="M358 569.2L365.1 582.5L350.9 582.5Z" stroke="#231f20" stroke-width="0.7" style="fill:#fff"/>
<text x="358" y="580.6" font-size="8.549999999999999" font-weight="bold" text-anchor="middle">!</text>
<text x="453.8" y="532.5" font-size="7.5" font-weight="bold">LIST</text>
<text x="455.8" y="540.8" font-size="6">F901</text>
<path d="M480.8 526.7L487.9 540L473.6 540Z" stroke="#231f20" stroke-width="0.7" style="fill:#fff"/>
<text x="480.8" y="538.1" font-size="8.549999999999999" font-weight="bold" text-anchor="middle">!</text>
<rect x="461.2" y="547" width="14.5" height="2" fill="#e5f4fd" stroke="none" stroke-width="0.7" shape-rendering="crispEdges"/>
<circle cx="461.2" cy="548" r="2" fill="#e5f4fd" stroke="#231f20" stroke-width="0.7"/>
<circle cx="475.8" cy="548" r="2" fill="#e5f4fd" stroke="#231f20" stroke-width="0.7"/>
<path d="M463.2 548Q465.9 543 468.5 548T473.8 548" stroke="#231f20" stroke-width="0.8"/>
<path d="M424.5 548L424.5 728.8L461.2 728.8" stroke="#343132" stroke-width="0.8" shape-rendering="crispEdges"/>
<path d="M509.2 548L509.2 681.8L565 681.8" stroke="#343132" stroke-width="0.8" shape-rendering="crispEdges"/>
<rect x="561.2" y="543.2" width="9.2" height="18.8" fill="#fff" stroke="#343132" stroke-width="0.7" shape-rendering="crispEdges"/>
<circle cx="565.8" cy="548" r="2.2" fill="#fff" stroke="#231f20" stroke-width="0.7"/>
<circle cx="565.8" cy="548" r="1.7" fill="#231f20"/>
<circle cx="565.8" cy="557" r="2.2" fill="#fff" stroke="#231f20" stroke-width="0.7"/>
<path d="M544.5 526.2L551.6 539.5L537.4 539.5Z" stroke="#231f20" stroke-width="0.7" style="fill:#fff"/>
<text x="544.5" y="537.6" font-size="8.549999999999999" font-weight="bold" text-anchor="middle">!</text>
<text x="561.8" y="540" font-size="6" transform="rotate(-90 561.8 540)">P911</text>
<rect x="585.5" y="543.2" width="10" height="18.8" fill="#fff" stroke="#343132" stroke-width="0.7" shape-rendering="crispEdges"/>
<circle cx="590.5" cy="548" r="2.2" fill="#fff" stroke="#231f20" stroke-width="0.7"/>
<circle cx="590.5" cy="557" r="2.2" fill="#fff" stroke="#231f20" stroke-width="0.7"/>
<path d="M592.5 548L647 548L647 486.2L684.5 486.2L684.5 496.2" stroke="#343132" stroke-width="0.8" shape-rendering="crispEdges"/>
<path d="M592.5 557L688.8 557" stroke="#343132" stroke-width="0.8" shape-rendering="crispEdges"/>
<text x="621.2" y="543" font-size="9.5">PRI.</text>
<path d="M661.8 486.2L661.8 557" stroke="#343132" stroke-width="0.8" stroke-dasharray="2 2" shape-rendering="crispEdges"/>
<circle cx="661.8" cy="486.2" r="2.2" fill="#fff" stroke="#231f20" stroke-width="0.7"/>
<circle cx="661.8" cy="557" r="2.2" fill="#fff" stroke="#231f20" stroke-width="0.7"/>
<text x="650.8" y="483.8" font-size="5.5">1</text>
<text x="650.8" y="555" font-size="5.5">3</text>
<path d="M685 500A3.2 2.5 0 0 1 685 505A3.2 2.5 0 0 1 685 510" stroke="#231f20" stroke-width="0.7"/>
<circle cx="684.5" cy="498" r="1.9" fill="#fff" stroke="#231f20" stroke-width="0.7"/>
<circle cx="684.5" cy="512" r="1.9" fill="#fff" stroke="#231f20" stroke-width="0.7"/>
<path d="M685.5 529.5A5.2 4.6 0 0 1 685.5 538.7A5.2 4.6 0 0 1 685.5 547.8A5.2 4.6 0 0 1 685.5 557" stroke="#231f20" stroke-width="0.7"/>
<path d="M684.5 513L684.5 529.5" stroke="#343132" stroke-width="0.8" shape-rendering="crispEdges"/>
<text x="436.8" y="616.2" font-size="7.3" font-weight="bold">LIST</text>
<circle cx="445.5" cy="627" r="7.3" fill="none" stroke="#231f20" stroke-width="0.7"/>
<text x="445.5" y="631.2" font-size="12" font-weight="bold" text-anchor="middle">D</text>
<text x="588.8" y="618.8" font-size="7.5" textLength="64" lengthAdjust="spacingAndGlyphs">WT, WO, WF type</text>
<path d="M472.5 625.5L479.6 638.8L465.4 638.8Z" stroke="#231f20" stroke-width="0.7" style="fill:#fff"/>
<text x="472.5" y="636.9" font-size="8.549999999999999" font-weight="bold" text-anchor="middle">!</text>
<text x="472.5" y="646.2" font-size="6" text-anchor="middle">F902</text>
<path d="M465 651.8L439.5 651.8L439.5 709.5L461.2 709.5" stroke="#343132" stroke-width="0.8" shape-rendering="crispEdges"/>
<path d="M480.8 651.8L518.8 651.8L518.8 700L565 700" stroke="#343132" stroke-width="0.8" shape-rendering="crispEdges"/>
<rect x="465" y="650.8" width="15.8" height="2" fill="#e5f4fd" stroke="none" stroke-width="0.7" shape-rendering="crispEdges"/>
<circle cx="465" cy="651.8" r="2" fill="#e5f4fd" stroke="#231f20" stroke-width="0.7"/>
<circle cx="480.8" cy="651.8" r="2" fill="#e5f4fd" stroke="#231f20" stroke-width="0.7"/>
<path d="M467 651.8Q469.9 646.8 472.9 651.8T478.8 651.8" stroke="#231f20" stroke-width="0.8"/>
<path d="M450 657.2L457.1 670.5L442.9 670.5Z" stroke="#231f20" stroke-width="0.7" style="fill:#fff"/>
<text x="450" y="668.6" font-size="8.549999999999999" font-weight="bold" text-anchor="middle">!</text>
<text x="462.5" y="667" font-size="6">S902</text>
<text x="473.8" y="678.2" font-size="8.8" font-weight="bold" text-anchor="middle">220-240V</text>
<text x="475" y="747.5" font-size="8.8" font-weight="bold" text-anchor="middle">120V</text>
<rect x="453.2" y="681.2" width="38.5" height="57.5" fill="none" stroke="#343132" stroke-width="0.8" stroke-dasharray="2.5 2" shape-rendering="crispEdges"/>
<path d="M461.2 690.8L444.2 690.8L444.2 752L501.8 752L501.8 719.2L565 719.2" stroke="#343132" stroke-width="0.8" shape-rendering="crispEdges"/>
<path d="M484.5 690.8L501.8 690.8L501.8 709.5L565 709.5" stroke="#343132" stroke-width="0.8" shape-rendering="crispEdges"/>
<path d="M484.5 709.5L501.8 709.5" stroke="#343132" stroke-width="0.8" shape-rendering="crispEdges"/>
<path d="M484.5 728.8L501.8 728.8" stroke="#343132" stroke-width="0.8" shape-rendering="crispEdges"/>
<path d="M501.8 728.8L501.8 719.2" stroke="#343132" stroke-width="0.8" shape-rendering="crispEdges"/>
<circle cx="501.8" cy="709.5" r="2.1" fill="#231f20"/>
<circle cx="501.8" cy="728.8" r="2.1" fill="#231f20"/>
<circle cx="461.2" cy="690.8" r="2" fill="#e5f4fd" stroke="#231f20" stroke-width="0.7"/>
<circle cx="461.2" cy="709.5" r="2" fill="#e5f4fd" stroke="#231f20" stroke-width="0.7"/>
<circle cx="461.2" cy="728.8" r="2" fill="#e5f4fd" stroke="#231f20" stroke-width="0.7"/>
<circle cx="484.5" cy="690.8" r="2" fill="#e5f4fd" stroke="#231f20" stroke-width="0.7"/>
<circle cx="484.5" cy="709.5" r="2" fill="#e5f4fd" stroke="#231f20" stroke-width="0.7"/>
<circle cx="484.5" cy="728.8" r="2" fill="#e5f4fd" stroke="#231f20" stroke-width="0.7"/>
<path d="M472.5 708.8L472.5 696.2" stroke="#343132" stroke-width="0.8" shape-rendering="crispEdges"/>
<path d="M471 700.6L472.5 695.8L474 700.6" stroke="#231f20" stroke-width="0.5"/>
<rect x="463.8" y="710.5" width="3.8" height="17.8" fill="#e5f4fd" stroke="#343132" stroke-width="0.7" shape-rendering="crispEdges"/>
<rect x="477.5" y="710.5" width="3.8" height="17.8" fill="#e5f4fd" stroke="#343132" stroke-width="0.7" shape-rendering="crispEdges"/>
<rect x="561.2" y="676.8" width="9.2" height="47.8" fill="#fff" stroke="#343132" stroke-width="0.7" shape-rendering="crispEdges"/>
<rect x="580.8" y="676.8" width="9.2" height="47.8" fill="#fff" stroke="#343132" stroke-width="0.7" shape-rendering="crispEdges"/>
<circle cx="565.8" cy="681.8" r="2.2" fill="#fff" stroke="#231f20" stroke-width="0.7"/>
<circle cx="585.5" cy="681.8" r="2.2" fill="#fff" stroke="#231f20" stroke-width="0.7"/>
<text x="554" y="680" font-size="6.5">1</text>
<circle cx="565.8" cy="690.8" r="2.2" fill="#fff" stroke="#231f20" stroke-width="0.7"/>
<circle cx="585.5" cy="690.8" r="2.2" fill="#fff" stroke="#231f20" stroke-width="0.7"/>
<text x="554" y="689" font-size="6.5">2</text>
<circle cx="565.8" cy="700" r="2.2" fill="#fff" stroke="#231f20" stroke-width="0.7"/>
<circle cx="585.5" cy="700" r="2.2" fill="#fff" stroke="#231f20" stroke-width="0.7"/>
<text x="554" y="698.2" font-size="6.5">3</text>
<circle cx="565.8" cy="709.5" r="2.2" fill="#fff" stroke="#231f20" stroke-width="0.7"/>
<circle cx="585.5" cy="709.5" r="2.2" fill="#fff" stroke="#231f20" stroke-width="0.7"/>
<text x="554" y="707.8" font-size="6.5">4</text>
<circle cx="565.8" cy="719.2" r="2.2" fill="#fff" stroke="#231f20" stroke-width="0.7"/>
<circle cx="585.5" cy="719.2" r="2.2" fill="#fff" stroke="#231f20" stroke-width="0.7"/>
<text x="554" y="717.5" font-size="6.5">5</text>
<circle cx="565.8" cy="681.8" r="1.7" fill="#231f20"/>
<text x="561.8" y="671.2" font-size="6" transform="rotate(-90 561.8 671.2)">P912</text>
<path d="M552 641.7L559.1 655L544.9 655Z" stroke="#231f20" stroke-width="0.7" style="fill:#fff"/>
<text x="552" y="653.1" font-size="8.549999999999999" font-weight="bold" text-anchor="middle">!</text>
<path d="M587.5 681.8L607 681.8L607 747.5L630.8 747.5" stroke="#343132" stroke-width="0.8" shape-rendering="crispEdges"/>
<path d="M587.5 690.8L616.2 690.8L616.2 631.8L650 631.8L650 640" stroke="#343132" stroke-width="0.8" shape-rendering="crispEdges"/>
<path d="M587.5 700L652.5 700" stroke="#343132" stroke-width="0.8" shape-rendering="crispEdges"/>
<path d="M587.5 709.5L597.5 709.5L597.5 671.2L652.5 671.2" stroke="#343132" stroke-width="0.8" shape-rendering="crispEdges"/>
<path d="M587.5 719.2L652.5 719.2" stroke="#343132" stroke-width="0.8" shape-rendering="crispEdges"/>
<path d="M630.8 747.5L652.5 747.5" stroke="#343132" stroke-width="0.8" shape-rendering="crispEdges"/>
<path d="M630.8 631.8L630.8 747.5" stroke="#343132" stroke-width="0.8" stroke-dasharray="2 2" shape-rendering="crispEdges"/>
<circle cx="630.8" cy="631.8" r="2.2" fill="#e5f4fd" stroke="#231f20" stroke-width="0.7"/>
<circle cx="630.8" cy="671.2" r="2.2" fill="#e5f4fd" stroke="#231f20" stroke-width="0.7"/>
<circle cx="630.8" cy="700" r="2.2" fill="#e5f4fd" stroke="#231f20" stroke-width="0.7"/>
<circle cx="630.8" cy="719.2" r="2.2" fill="#e5f4fd" stroke="#231f20" stroke-width="0.7"/>
<circle cx="630.8" cy="747.5" r="2.2" fill="#e5f4fd" stroke="#231f20" stroke-width="0.7"/>
<path d="M650.5 643A3.3 2.6 0 0 1 650.5 648.1A3.3 2.6 0 0 1 650.5 653.2" stroke="#231f20" stroke-width="0.7"/>
<path d="M650 656.5L650 671.2" stroke="#343132" stroke-width="0.8" shape-rendering="crispEdges"/>
<circle cx="650" cy="641.2" r="1.9" fill="#e5f4fd" stroke="#231f20" stroke-width="0.7"/>
<circle cx="650" cy="655" r="1.9" fill="#e5f4fd" stroke="#231f20" stroke-width="0.7"/>
<path d="M651.5 671.2A5.2 4.8 0 0 1 651.5 680.8A5.2 4.8 0 0 1 651.5 690.4A5.2 4.8 0 0 1 651.5 700" stroke="#231f20" stroke-width="0.7"/>
<path d="M651.5 719.2A5.2 4.7 0 0 1 651.5 728.7A5.2 4.7 0 0 1 651.5 738.1A5.2 4.7 0 0 1 651.5 747.5" stroke="#231f20" stroke-width="0.7"/>
<text x="634.5" y="630" font-size="6.3">1</text>
<text x="643.8" y="670.5" font-size="6.3">2</text>
<text x="620" y="698.8" font-size="6.3">3</text>
<text x="620" y="718" font-size="6.3">4</text>
<text x="620" y="746.8" font-size="6.3">5</text>
<text x="396.2" y="706.8" font-size="8.8" font-weight="bold" text-anchor="middle">VOLTAGE</text>
<text x="396.2" y="716.2" font-size="8.8" font-weight="bold" text-anchor="middle">SELECTOR</text>
<text x="111.9" y="334" font-size="7.3" font-weight="bold">LIST</text>
<circle cx="138.5" cy="335" r="7.6" fill="none" stroke="#231f20" stroke-width="0.7"/>
<text x="138.5" y="339.3" font-size="12" font-weight="bold" text-anchor="middle">E</text>
<path d="M111.5 350.2L233.1 350.2L233.1 410L217.4 410L217.4 498.5L111.5 498.5Z" stroke="#231f20" stroke-width="2.35" stroke-dasharray="28.6 2.9 5 2.9"/>
<path d="M111.5 371.5L233.1 371.5" stroke="#231f20" stroke-width="2.35" stroke-dasharray="28.6 2.9 5 2.9"/>
<text x="122.2" y="367.5" font-size="14.8" textLength="92.8" lengthAdjust="spacingAndGlyphs">NAETC-9437</text>
<rect x="116" y="377.8" width="31.8" height="15.4" fill="#231f20" stroke="none" stroke-width="0.7" shape-rendering="crispEdges"/>
<text x="131.9" y="390.5" font-size="13.5" font-weight="bold" text-anchor="middle" fill="#fff">U15</text>
<text x="120.4" y="405.2" font-size="11.7" font-weight="bold" textLength="107" lengthAdjust="spacingAndGlyphs">INLET PC BOARD</text>
<text x="162.5" y="440.6" font-size="9.6" font-weight="bold" transform="rotate(-90 162.5 440.6)">INLET</text>
<path d="M173.8 410.4L180.9 423.8L166.6 423.8Z" stroke="#231f20" stroke-width="0.7" style="fill:#fff"/>
<text x="173.8" y="421.9" font-size="8.549999999999999" font-weight="bold" text-anchor="middle">!</text>
<text x="177.5" y="442.5" font-size="5.5" transform="rotate(-90 177.5 442.5)">P907</text>
<text x="215.5" y="433" font-size="5.5" transform="rotate(-90 215.5 433)">P921B</text>
<text x="253.5" y="433" font-size="5.5" transform="rotate(-90 253.5 433)">P921A</text>
<text x="214.5" y="496" font-size="5.5" transform="rotate(-90 214.5 496)">P922B</text>
<text x="254.5" y="496" font-size="5.5" transform="rotate(-90 254.5 496)">P922A</text>
<rect x="170.3" y="447.7" width="9.4" height="18.3" fill="#fff" stroke="#343132" stroke-width="0.7" shape-rendering="crispEdges"/>
<circle cx="175" cy="452.4" r="2.3" fill="#fff" stroke="#231f20" stroke-width="0.7"/>
<path d="M173.4 450.8L176.6 454" stroke="#343132" stroke-width="0.8"/>
<circle cx="175" cy="452.4" r="1.3" fill="#231f20"/>
<circle cx="175" cy="461.4" r="2.3" fill="#fff" stroke="#231f20" stroke-width="0.7"/>
<path d="M177.3 452.4L193.8 452.4L193.8 441.9L243 441.9" stroke="#343132" stroke-width="0.8" shape-rendering="crispEdges"/>
<path d="M177.3 461.4L193.8 461.4L193.8 470.8L243 470.8" stroke="#343132" stroke-width="0.8" shape-rendering="crispEdges"/>
<path d="M217.5 446L217.5 466" stroke="#231f20" stroke-width="1.6"/>
<rect x="212.6" y="436.9" width="10" height="10" fill="#fff" stroke="#343132" stroke-width="0.7" shape-rendering="crispEdges"/>
<circle cx="217.6" cy="441.9" r="2.4" fill="#231f20"/>
<rect x="238" y="436.9" width="10" height="10" fill="#fff" stroke="#343132" stroke-width="0.7" shape-rendering="crispEdges"/>
<circle cx="243" cy="441.9" r="2.4" fill="#231f20"/>
<rect x="212.6" y="465.8" width="10" height="10" fill="#fff" stroke="#343132" stroke-width="0.7" shape-rendering="crispEdges"/>
<circle cx="217.6" cy="470.8" r="2.4" fill="#231f20"/>
<rect x="238" y="465.8" width="10" height="10" fill="#fff" stroke="#343132" stroke-width="0.7" shape-rendering="crispEdges"/>
<circle cx="243" cy="470.8" r="2.4" fill="#231f20"/>
<path d="M184.4 516.5L191.5 529.8L177.3 529.8Z" stroke="#231f20" stroke-width="0.7" style="fill:#fff"/>
<text x="184.4" y="527.9" font-size="8.549999999999999" font-weight="bold" text-anchor="middle">!</text>
<text x="184.4" y="536.2" font-size="5.5" text-anchor="middle">P901</text>
<path d="M168 547.9L177 547.9" stroke="#343132" stroke-width="0.8" shape-rendering="crispEdges"/>
<path d="M168 557L177 557" stroke="#343132" stroke-width="0.8" shape-rendering="crispEdges"/>
<path d="M177 540.9H188A10.5 11.7 0 0 1 188 564.3H177Z" stroke="#231f20" stroke-width="0.8" style="fill:#fff"/>
<path d="M198.5 549.5L213 549.5" stroke="#343132" stroke-width="0.8" shape-rendering="crispEdges"/>
<path d="M198.5 555.5L213 555.5" stroke="#343132" stroke-width="0.8" shape-rendering="crispEdges"/>
<rect x="213.1" y="542.9" width="10" height="19.7" fill="#fff" stroke="#343132" stroke-width="0.7" shape-rendering="crispEdges"/>
<circle cx="218.1" cy="547.9" r="2.2" fill="#fff" stroke="#231f20" stroke-width="0.7"/>
<circle cx="218.1" cy="547.9" r="1.6" fill="#231f20"/>
<circle cx="218.1" cy="557" r="2.2" fill="#fff" stroke="#231f20" stroke-width="0.7"/>
<text x="734.5" y="227.5" font-size="7.6" text-anchor="middle">VIDEO PCB</text>
<text x="734.5" y="242" font-size="12.5" text-anchor="middle" textLength="84.5" lengthAdjust="spacingAndGlyphs">To NAVD-9467</text>
<text x="734.5" y="254.5" font-size="12.5" text-anchor="middle" textLength="55" lengthAdjust="spacingAndGlyphs">SD-4 : C5</text>
<text x="875.5" y="266.2" font-size="7.6" text-anchor="middle">VIDEO PCB</text>
<text x="875.5" y="278.8" font-size="12.5" text-anchor="middle" textLength="84.5" lengthAdjust="spacingAndGlyphs">To NAVD-9467</text>
<text x="875.5" y="291.2" font-size="12.5" text-anchor="middle" textLength="55" lengthAdjust="spacingAndGlyphs">SD-4 : C5</text>
<text x="843.8" y="300.8" font-size="6">JL9101A</text>
<path d="M842 308.5L743.8 308.5L743.8 380.8L770 380.8L770 605L929.5 605L929.5 308.5L909.5 308.5" stroke="#231f20" stroke-width="2.35" stroke-dasharray="28.6 2.9 5 2.9"/>
<path d="M828.8 605L828.8 584.5L929.5 584.5" stroke="#231f20" stroke-width="2.35"/>
<text x="837.5" y="600.5" font-size="15" textLength="82.5" lengthAdjust="spacingAndGlyphs">NAPS-9433</text>
<rect x="750.8" y="313.8" width="31" height="15.5" fill="#231f20" stroke="none" stroke-width="0.7" shape-rendering="crispEdges"/>
<text x="766.2" y="326.6" font-size="13.5" font-weight="bold" text-anchor="middle" fill="#fff">U13</text>
<text x="755" y="340" font-size="12.9" font-weight="bold" textLength="79.2" lengthAdjust="spacingAndGlyphs">TRANS. SEC.</text>
<text x="755" y="354.5" font-size="12.9" font-weight="bold" textLength="64.2" lengthAdjust="spacingAndGlyphs">TERMINAL</text>
<text x="755" y="368.8" font-size="12.9" font-weight="bold" textLength="66.8" lengthAdjust="spacingAndGlyphs">PC BOARD</text>
<rect x="842" y="303.8" width="67.5" height="9.2" fill="#fff" stroke="#343132" stroke-width="0.7" shape-rendering="crispEdges"/>
<circle cx="847" cy="308.5" r="2.3" fill="#fff" stroke="#231f20" stroke-width="0.7"/>
<circle cx="856.5" cy="308.5" r="2.3" fill="#fff" stroke="#231f20" stroke-width="0.7"/>
<circle cx="866.2" cy="308.5" r="2.3" fill="#fff" stroke="#231f20" stroke-width="0.7"/>
<circle cx="875.8" cy="308.5" r="2.3" fill="#fff" stroke="#231f20" stroke-width="0.7"/>
<circle cx="885.2" cy="308.5" r="2.3" fill="#fff" stroke="#231f20" stroke-width="0.7"/>
<circle cx="894.8" cy="308.5" r="2.3" fill="#fff" stroke="#231f20" stroke-width="0.7"/>
<circle cx="904.2" cy="308.5" r="2.3" fill="#fff" stroke="#231f20" stroke-width="0.7"/>
<circle cx="847" cy="308.5" r="1.7" fill="#231f20"/>
<text x="845.8" y="340.5" font-size="6" transform="rotate(-90 845.8 340.5)">FLAC1  1</text>
<text x="855.3" y="340.5" font-size="6" transform="rotate(-90 855.3 340.5)">FLAC2  2</text>
<text x="865" y="340.5" font-size="6" transform="rotate(-90 865 340.5)">SEC3_1  3</text>
<text x="874.5" y="340.5" font-size="6" transform="rotate(-90 874.5 340.5)">SEC3_2  4</text>
<text x="884" y="340.5" font-size="6" transform="rotate(-90 884 340.5)">SEC2_1  5</text>
<text x="893.5" y="340.5" font-size="6" transform="rotate(-90 893.5 340.5)">SEC2_2  6</text>
<text x="907" y="328" font-size="6" transform="rotate(-90 907 328)">NC</text>
<text x="901" y="318" font-size="4.5" transform="rotate(-90 901 318)">7</text>
<path d="M847 313L847 414.5L774.5 414.5" stroke="#343132" stroke-width="0.8" shape-rendering="crispEdges"/>
<path d="M856.5 313L856.5 443L774.5 443" stroke="#343132" stroke-width="0.8" shape-rendering="crispEdges"/>
<path d="M866.2 313L866.2 462L774.5 462" stroke="#343132" stroke-width="0.8" shape-rendering="crispEdges"/>
<path d="M875.8 313L875.8 500L774.5 500" stroke="#343132" stroke-width="0.8" shape-rendering="crispEdges"/>
<path d="M885.2 313L885.2 518.8L774.5 518.8" stroke="#343132" stroke-width="0.8" shape-rendering="crispEdges"/>
<path d="M894.8 313L894.8 557L774.5 557" stroke="#343132" stroke-width="0.8" shape-rendering="crispEdges"/>
<rect x="765" y="409.8" width="9.5" height="9.5" fill="#fff" stroke="#343132" stroke-width="0.9" shape-rendering="crispEdges"/>
<circle cx="769.8" cy="414.5" r="2.4" fill="#231f20"/>
<text x="778.2" y="412.5" font-size="5.5">8</text>
<rect x="765" y="438.2" width="9.5" height="9.5" fill="#fff" stroke="#343132" stroke-width="0.9" shape-rendering="crispEdges"/>
<circle cx="769.8" cy="443" r="2.4" fill="#231f20"/>
<text x="778.2" y="441" font-size="5.5">9</text>
<rect x="765" y="457.2" width="9.5" height="9.5" fill="#fff" stroke="#343132" stroke-width="0.9" shape-rendering="crispEdges"/>
<circle cx="769.8" cy="462" r="2.4" fill="#231f20"/>
<text x="778.2" y="460" font-size="5.5">10</text>
<rect x="765" y="476.2" width="9.5" height="9.5" fill="#fff" stroke="#343132" stroke-width="0.9" shape-rendering="crispEdges"/>
<circle cx="769.8" cy="481" r="2.4" fill="#231f20"/>
<rect x="765" y="495.2" width="9.5" height="9.5" fill="#fff" stroke="#343132" stroke-width="0.9" shape-rendering="crispEdges"/>
<circle cx="769.8" cy="500" r="2.4" fill="#231f20"/>
<text x="778.2" y="498" font-size="5.5">12</text>
<rect x="765" y="514" width="9.5" height="9.5" fill="#fff" stroke="#343132" stroke-width="0.9" shape-rendering="crispEdges"/>
<circle cx="769.8" cy="518.8" r="2.4" fill="#231f20"/>
<text x="778.2" y="516.8" font-size="5.5">13</text>
<rect x="765" y="552.2" width="9.5" height="9.5" fill="#fff" stroke="#343132" stroke-width="0.9" shape-rendering="crispEdges"/>
<circle cx="769.8" cy="557" r="2.4" fill="#231f20"/>
<text x="778.2" y="555" font-size="5.5">14</text>
<text x="777.5" y="479" font-size="4.8">11</text>
<text x="784" y="483.5" font-size="7.5">NC</text>
<path d="M794.2 414.5L795 412.9L796.5 416.1L798 412.9L799.5 416.1L801 412.9L801.8 414.5" stroke="#343132" stroke-width="0.6"/>
<text x="788.8" y="410" font-size="6">R9102</text>
<text x="784.5" y="423" font-size="6">8.2(1/2W)</text>
<path d="M822 414.5L822 443" stroke="#343132" stroke-width="0.8" shape-rendering="crispEdges"/>
<circle cx="822" cy="414.5" r="2.1" fill="#231f20"/>
<circle cx="822" cy="443" r="2.1" fill="#231f20"/>
<rect x="820.6" y="427.4" width="2.8" height="2.6" fill="#fff" stroke="none" stroke-width="0.7" shape-rendering="crispEdges"/>
<path d="M819.5 427.4L824.5 427.4" stroke="#343132" stroke-width="0.7" shape-rendering="crispEdges"/>
<path d="M819.5 430.1L824.5 430.1" stroke="#343132" stroke-width="0.7" shape-rendering="crispEdges"/>
<text x="819.5" y="437.5" font-size="6" transform="rotate(-90 819.5 437.5)">C9101</text>
<text x="831" y="435.5" font-size="6" transform="rotate(-90 831 435.5)">104J</text>
<rect x="797.5" y="522.5" width="68.2" height="55.8" fill="none" stroke="#343132" stroke-width="0.9" stroke-dasharray="3.6 2.4" shape-rendering="crispEdges"/>
<text x="805.8" y="530.8" font-size="7" font-weight="bold">LIST</text>
<text x="818.8" y="538.8" font-size="6">R9101</text>
<path d="M846.2 527.1L853.1 540L839.4 540Z" stroke="#231f20" stroke-width="0.7" style="fill:#fff"/>
<text x="846.2" y="538.2" font-size="8.280000000000001" font-weight="bold" text-anchor="middle">!</text>
<path d="M846.2 560.9L853.1 573.8L839.4 573.8Z" stroke="#231f20" stroke-width="0.7" style="fill:#fff"/>
<text x="846.2" y="571.9" font-size="8.280000000000001" font-weight="bold" text-anchor="middle">!</text>
<path d="M804.2 557L804.2 543.8L852 543.8L852 557" stroke="#343132" stroke-width="0.8" shape-rendering="crispEdges"/>
<path d="M824.2 543.8L825 542.1L826.5 545.4L828 542.1L829.5 545.4L831 542.1L831.8 543.8" stroke="#343132" stroke-width="0.6"/>
<circle cx="804.2" cy="557" r="2.1" fill="#231f20"/>
<circle cx="852" cy="557" r="2.1" fill="#231f20"/>
<rect x="821.8" y="556" width="14" height="2" fill="#fff" stroke="none" stroke-width="0.7" shape-rendering="crispEdges"/>
<circle cx="821.8" cy="557" r="2" fill="#fff" stroke="#231f20" stroke-width="0.7"/>
<circle cx="835.8" cy="557" r="2" fill="#fff" stroke="#231f20" stroke-width="0.7"/>
<path d="M823.7 557Q826.2 552 828.7 557T833.7 557" stroke="#231f20" stroke-width="0.8"/>
<text x="820.5" y="567" font-size="6">F910</text>
<text x="674.5" y="378" font-size="7.2" textLength="50.5" lengthAdjust="spacingAndGlyphs">MAIN TRANS.</text>
<rect x="674.5" y="383.8" width="48" height="343.8" fill="none" stroke="#343132" stroke-width="0.9" stroke-dasharray="3.6 2.4" shape-rendering="crispEdges"/>
<text x="679.2" y="394.5" font-size="7" font-weight="bold">LIST</text>
<path d="M708 387.6L714.9 400.5L701.1 400.5Z" stroke="#231f20" stroke-width="0.7" style="fill:#fff"/>
<text x="708" y="398.7" font-size="8.280000000000001" font-weight="bold" text-anchor="middle">!</text>
<text x="688.8" y="408.8" font-size="7">T901</text>
<path d="M693.8 415L693.8 716.2" stroke="#343132" stroke-width="0.8" shape-rendering="crispEdges"/>
<path d="M698 415L698 716.2" stroke="#343132" stroke-width="0.8" shape-rendering="crispEdges"/>
<path d="M712 414.5A5.2 4.8 0 0 0 712 424A5.2 4.8 0 0 0 712 433.5A5.2 4.8 0 0 0 712 443" stroke="#231f20" stroke-width="0.7"/>
<path d="M712 414.5L765 414.5" stroke="#343132" stroke-width="0.8" shape-rendering="crispEdges"/>
<path d="M712 443L765 443" stroke="#343132" stroke-width="0.8" shape-rendering="crispEdges"/>
<path d="M712 462A5.2 4.8 0 0 0 712 471.5A5.2 4.8 0 0 0 712 481A5.2 4.8 0 0 0 712 490.5A5.2 4.8 0 0 0 712 500" stroke="#231f20" stroke-width="0.7"/>
<path d="M712 462L765 462" stroke="#343132" stroke-width="0.8" shape-rendering="crispEdges"/>
<path d="M712 481L765 481" stroke="#343132" stroke-width="0.8" shape-rendering="crispEdges"/>
<path d="M712 500L765 500" stroke="#343132" stroke-width="0.8" shape-rendering="crispEdges"/>
<path d="M712 518.8A5.2 4.8 0 0 0 712 528.3A5.2 4.8 0 0 0 712 537.9A5.2 4.8 0 0 0 712 547.4A5.2 4.8 0 0 0 712 557" stroke="#231f20" stroke-width="0.7"/>
<path d="M712 518.8L765 518.8" stroke="#343132" stroke-width="0.8" shape-rendering="crispEdges"/>
<path d="M712 557L765 557" stroke="#343132" stroke-width="0.8" shape-rendering="crispEdges"/>
<text x="730.5" y="430.8" font-size="9.3">S4</text>
<text x="730.5" y="473.8" font-size="9.3">S3</text>
<text x="730.5" y="541" font-size="9.3">S2</text>
<text x="730.5" y="636.2" font-size="9.3">S1</text>
<path d="M712 643A5.2 4.8 0 0 0 712 652.5A5.2 4.8 0 0 0 712 662.1A5.2 4.8 0 0 0 712 671.6A5.2 4.8 0 0 0 712 681.1A5.2 4.8 0 0 0 712 690.7A5.2 4.8 0 0 0 712 700.2A5.2 4.8 0 0 0 712 709.7A5.2 4.8 0 0 0 712 719.2" stroke="#231f20" stroke-width="0.7"/>
<path d="M712 643L747.5 643L747.5 636.2L766.5 636.2" stroke="#343132" stroke-width="0.8" shape-rendering="crispEdges"/>
<circle cx="730.5" cy="643" r="2.2" fill="#fff" stroke="#231f20" stroke-width="0.7"/>
<path d="M712 662.5L747.5 662.5L747.5 658.8L766.5 658.8" stroke="#343132" stroke-width="0.8" shape-rendering="crispEdges"/>
<circle cx="730.5" cy="662.5" r="2.2" fill="#fff" stroke="#231f20" stroke-width="0.7"/>
<path d="M712 681.8L747.5 681.8L747.5 681.2L766.5 681.2" stroke="#343132" stroke-width="0.8" shape-rendering="crispEdges"/>
<circle cx="730.5" cy="681.8" r="2.2" fill="#fff" stroke="#231f20" stroke-width="0.7"/>
<path d="M712 700.5L747.5 700.5L747.5 703.2L766.5 703.2" stroke="#343132" stroke-width="0.8" shape-rendering="crispEdges"/>
<circle cx="730.5" cy="700.5" r="2.2" fill="#fff" stroke="#231f20" stroke-width="0.7"/>
<path d="M712 719.2L747.5 719.2L747.5 725.5L766.5 725.5" stroke="#343132" stroke-width="0.8" shape-rendering="crispEdges"/>
<circle cx="730.5" cy="719.2" r="2.2" fill="#fff" stroke="#231f20" stroke-width="0.7"/>
<rect x="766.2" y="632.2" width="8" height="8" fill="#fff" stroke="#343132" stroke-width="0.9" shape-rendering="crispEdges"/>
<circle cx="770.2" cy="636.2" r="1.9" fill="#231f20"/>
<text x="776.2" y="634.4" font-size="6">P15</text>
<rect x="766.2" y="654.8" width="8" height="8" fill="#fff" stroke="#343132" stroke-width="0.9" shape-rendering="crispEdges"/>
<circle cx="770.2" cy="658.8" r="1.9" fill="#231f20"/>
<text x="776.2" y="656.9" font-size="6">P16</text>
<rect x="766.2" y="677.2" width="8" height="8" fill="#fff" stroke="#343132" stroke-width="0.9" shape-rendering="crispEdges"/>
<circle cx="770.2" cy="681.2" r="1.9" fill="#231f20"/>
<text x="776.2" y="679.4" font-size="6">P17</text>
<rect x="766.2" y="699.2" width="8" height="8" fill="#fff" stroke="#343132" stroke-width="0.9" shape-rendering="crispEdges"/>
<circle cx="770.2" cy="703.2" r="1.9" fill="#231f20"/>
<text x="776.2" y="701.4" font-size="6">P18</text>
<rect x="766.2" y="721.5" width="8" height="8" fill="#fff" stroke="#343132" stroke-width="0.9" shape-rendering="crispEdges"/>
<circle cx="770.2" cy="725.5" r="1.9" fill="#231f20"/>
<text x="776.2" y="723.6" font-size="6">P19</text>
<text x="795.5" y="634.4" font-size="6">P6903B</text>
<text x="795.5" y="678.9" font-size="6">P6900B</text>
<text x="795.5" y="723.1" font-size="6">P6904B</text>
<path d="M774.2 636.2L903.2 636.2" stroke="#343132" stroke-width="0.8" shape-rendering="crispEdges"/>
<path d="M774.2 725.5L906.5 725.5" stroke="#343132" stroke-width="0.8" shape-rendering="crispEdges"/>
<path d="M774.2 681.2L826.2 681.2L826.2 646.5L903.2 646.5" stroke="#231f20" stroke-width="1.6"/>
<path d="M774.2 658.8L851.2 658.8L851.2 674.2L868 674.2" stroke="#343132" stroke-width="0.8" shape-rendering="crispEdges"/>
<path d="M851.2 666.5L868 666.5" stroke="#343132" stroke-width="0.8" shape-rendering="crispEdges"/>
<circle cx="851.2" cy="666.5" r="2.1" fill="#231f20"/>
<path d="M774.2 703.2L851.2 703.2L851.2 681.8L868 681.8" stroke="#343132" stroke-width="0.8" shape-rendering="crispEdges"/>
<path d="M851.2 688.8L868 688.8" stroke="#343132" stroke-width="0.8" shape-rendering="crispEdges"/>
<circle cx="851.2" cy="688.8" r="2.1" fill="#231f20"/>
<path d="M871.2 617L768.8 617" stroke="#231f20" stroke-width="2.35" stroke-dasharray="28.6 2.9 5 2.9"/>
<path d="M871.2 617L871.2 811.5" stroke="#231f20" stroke-width="2.35" stroke-dasharray="28.6 2.9 5 2.9"/>
<path d="M871.2 811.5L699.4 811.5L699.4 733.8L770 733.8" stroke="#231f20" stroke-width="2.35" stroke-dasharray="28.6 2.9 5 2.9"/>
<path d="M769.5 617L769.5 632" stroke="#231f20" stroke-width="2.35"/>
<path d="M769.5 729.5L769.5 733.8" stroke="#231f20" stroke-width="2.35"/>
<path d="M768.6 811.5L768.6 789L871.2 789" stroke="#231f20" stroke-width="2.35"/>
<text x="777" y="806.8" font-size="15" textLength="82.8" lengthAdjust="spacingAndGlyphs">NAPS-9420</text>
<rect x="709.5" y="740.5" width="31" height="15.2" fill="#231f20" stroke="none" stroke-width="0.7" shape-rendering="crispEdges"/>
<text x="725" y="753.2" font-size="13.5" font-weight="bold" text-anchor="middle" fill="#fff">U02</text>
<text x="713.2" y="768" font-size="12.9" font-weight="bold" textLength="148.8" lengthAdjust="spacingAndGlyphs">TRANS. SEC. TERMINAL</text>
<text x="717" y="783.4" font-size="12.9" font-weight="bold" textLength="66.8" lengthAdjust="spacingAndGlyphs">PC BOARD</text>
<rect x="867.5" y="655.5" width="7.5" height="36.5" fill="#fff" stroke="#343132" stroke-width="0.7" shape-rendering="crispEdges"/>
<circle cx="871.5" cy="659.2" r="1.9" fill="#fff" stroke="#231f20" stroke-width="0.7"/>
<text x="862.5" y="657.8" font-size="5">5</text>
<circle cx="871.5" cy="666.8" r="1.9" fill="#fff" stroke="#231f20" stroke-width="0.7"/>
<text x="862.5" y="665.2" font-size="5">4</text>
<circle cx="871.5" cy="674.2" r="1.9" fill="#fff" stroke="#231f20" stroke-width="0.7"/>
<text x="862.5" y="672.8" font-size="5">3</text>
<circle cx="871.5" cy="681.8" r="1.9" fill="#fff" stroke="#231f20" stroke-width="0.7"/>
<text x="862.5" y="680.2" font-size="5">2</text>
<circle cx="871.5" cy="689" r="1.9" fill="#fff" stroke="#231f20" stroke-width="0.7"/>
<text x="862.5" y="687.5" font-size="5">1</text>
<circle cx="871.5" cy="689" r="1.5" fill="#231f20"/>
<text x="866" y="718" font-size="5.8" transform="rotate(-90 866 718)">JL6952A</text>
<text x="877.5" y="635" font-size="7.2" textLength="29.5" lengthAdjust="spacingAndGlyphs">YELLOW</text>
<text x="878.8" y="643.9" font-size="7.2" textLength="24" lengthAdjust="spacingAndGlyphs">BLACK</text>
<text x="877.5" y="723.8" font-size="7.2" textLength="25.5" lengthAdjust="spacingAndGlyphs">GREEN</text>
<path d="M911.2 637.5L915.8 637.5L915.8 725.5L911.2 725.5" stroke="#343132" stroke-width="0.8" shape-rendering="crispEdges"/>
<text x="925" y="705" font-size="7.1" transform="rotate(-90 925 705)" textLength="54.5" lengthAdjust="spacingAndGlyphs">AMPLIFIER PCB</text>
<text x="937.5" y="721.2" font-size="12.5" transform="rotate(-90 937.5 721.2)" textLength="83.8" lengthAdjust="spacingAndGlyphs">To NAAF-9419</text>
<text x="950" y="705" font-size="12.5" transform="rotate(-90 950 705)" textLength="54.5" lengthAdjust="spacingAndGlyphs">SD-2 : A5</text>
<path d="M1071.1 119L1251.3 119L1251.3 307.1L1071.1 307.1Z" stroke="#231f20" stroke-width="2.35" stroke-dasharray="28.6 2.9 5 2.9"/>
<rect x="1069" y="209" width="4.4" height="43" fill="#fff" stroke="none" stroke-width="0.7" shape-rendering="crispEdges"/>
<path d="M1139.2 119L1139.2 142.5" stroke="#231f20" stroke-width="2.35"/>
<path d="M1139.2 142.5L1251.3 142.5" stroke="#231f20" stroke-width="2.35" stroke-dasharray="28.6 2.9 5 2.9"/>
<text x="1146" y="137" font-size="14.8" textLength="94" lengthAdjust="spacingAndGlyphs">NAETC-9435</text>
<rect x="1076.2" y="130" width="30.5" height="15.1" fill="#231f20" stroke="none" stroke-width="0.7" shape-rendering="crispEdges"/>
<text x="1091.5" y="142.5" font-size="13.2" font-weight="bold" text-anchor="middle" fill="#fff">U14</text>
<text x="1080.2" y="157.9" font-size="12.2" font-weight="bold" textLength="118.4" lengthAdjust="spacingAndGlyphs">HEADPHONE JACK</text>
<text x="1080.2" y="173.6" font-size="12.2" font-weight="bold" textLength="66.8" lengthAdjust="spacingAndGlyphs">PC BOARD</text>
<text x="1023.8" y="223.3" font-size="9" font-weight="bold" textLength="39.3" lengthAdjust="spacingAndGlyphs">PHONES</text>
<rect x="1072.4" y="211" width="3.8" height="18.3" fill="#fff" stroke="#343132" stroke-width="0.7" shape-rendering="crispEdges"/>
<text x="1087.7" y="191.4" font-size="6">P7201</text>
<path d="M1251.3 188.8L1143.9 188.8L1143.9 278.3L1225.1 278.3" stroke="#231f20" stroke-width="1.6"/>
<path d="M1251.3 215.5L1225.1 215.5L1225.1 278.3" stroke="#231f20" stroke-width="1.6"/>
<path d="M1225.1 278.3L1225.1 286.5" stroke="#343132" stroke-width="0.8" shape-rendering="crispEdges"/>
<path d="M1218.1 286.5L1232.1 286.5" stroke="#343132" stroke-width="1" shape-rendering="crispEdges"/>
<path d="M1220.6 288.3L1229.6 288.3" stroke="#343132" stroke-width="1" shape-rendering="crispEdges"/>
<path d="M1222.8 290.1L1227.3 290.1" stroke="#343132" stroke-width="1" shape-rendering="crispEdges"/>
<text x="1225.1" y="297" font-size="6" text-anchor="middle">E7201</text>
<path d="M1101.2 197.5L1123 197.5" stroke="#343132" stroke-width="0.8" shape-rendering="crispEdges"/>
<path d="M1123 197.5L1134.7 197.5" stroke="#231f20" stroke-width="1.6"/>
<path d="M1134.7 197.5L1251.3 197.5" stroke="#343132" stroke-width="0.8" shape-rendering="crispEdges"/>
<path d="M1134.7 197.5L1134.7 242L1123 242" stroke="#231f20" stroke-width="1.6"/>
<path d="M1123 242L1092.4 242" stroke="#343132" stroke-width="0.8" shape-rendering="crispEdges"/>
<path d="M1109.9 206.2L1123 206.2" stroke="#343132" stroke-width="0.8" shape-rendering="crispEdges"/>
<path d="M1123 206.2L1143.9 206.2" stroke="#231f20" stroke-width="1.6"/>
<path d="M1102 233.3L1123 233.3" stroke="#343132" stroke-width="0.8" shape-rendering="crispEdges"/>
<path d="M1123 233.3L1143.9 233.3" stroke="#231f20" stroke-width="1.6"/>
<path d="M1101.2 197.5L1103.4 209.7L1105.5 198.4L1109.9 198.4L1109.9 206.2" stroke="#343132" stroke-width="0.8"/>
<path d="M1092.4 242L1094.7 229.3L1096.8 242" stroke="#343132" stroke-width="0.8"/>
<path d="M1102 233.3L1102 242" stroke="#343132" stroke-width="0.8" shape-rendering="crispEdges"/>
<path d="M1080.2 224.2L1085.5 220.2L1093.3 220.2L1100.3 215.5L1176.2 215.5" stroke="#343132" stroke-width="0.8"/>
<path d="M1089.8 224.2L1176.2 224.2" stroke="#343132" stroke-width="0.8" shape-rendering="crispEdges"/>
<path d="M1076.2 229.3L1076.2 251.1L1124.7 251.1" stroke="#343132" stroke-width="0.8" shape-rendering="crispEdges"/>
<path d="M1124.7 251.1L1176.2 251.1" stroke="#231f20" stroke-width="1.6"/>
<path d="M1191.9 251.1L1225.1 251.1" stroke="#231f20" stroke-width="1.6"/>
<path d="M1176.2 215.5A2.6 2.6 0 0 1 1181.5 215.5A2.6 2.6 0 0 1 1186.7 215.5A2.6 2.6 0 0 1 1191.9 215.5" stroke="#231f20" stroke-width="0.7"/>
<path d="M1176.2 224.2A2.6 2.6 0 0 1 1181.5 224.2A2.6 2.6 0 0 1 1186.7 224.2A2.6 2.6 0 0 1 1191.9 224.2" stroke="#231f20" stroke-width="0.7"/>
<path d="M1176.2 251.1A2.6 2.6 0 0 1 1181.5 251.1A2.6 2.6 0 0 1 1186.7 251.1A2.6 2.6 0 0 1 1191.9 251.1" stroke="#231f20" stroke-width="0.7"/>
<path d="M1191.9 215.5L1207.6 215.5L1207.6 224.2L1251.3 224.2" stroke="#343132" stroke-width="0.8" shape-rendering="crispEdges"/>
<path d="M1191.9 224.2L1201 224.2L1201 205.9L1251.3 205.9" stroke="#343132" stroke-width="0.8" shape-rendering="crispEdges"/>
<path d="M1216.4 205.9L1225 203.3L1222.8 205.9L1225 208.5Z" stroke="#231f20" stroke-width="0.3" style="fill:#231f20"/>
<path d="M1213.8 224.2L1222.4 221.7L1220.2 224.2L1222.4 226.8Z" stroke="#231f20" stroke-width="0.3" style="fill:#231f20"/>
<path d="M1221.3 195.8L1226.8 197.5L1221.3 199.3" stroke="#231f20" stroke-width="0.5"/>
<path d="M1153 224.2L1153 251.1" stroke="#343132" stroke-width="0.8" shape-rendering="crispEdges"/>
<path d="M1162.8 215.5L1162.8 251.1" stroke="#343132" stroke-width="0.8" shape-rendering="crispEdges"/>
<rect x="1151.6" y="237.2" width="2.8" height="2.6" fill="#fff" stroke="none" stroke-width="0.7" shape-rendering="crispEdges"/>
<path d="M1150.5 237.2L1155.5 237.2" stroke="#343132" stroke-width="0.7" shape-rendering="crispEdges"/>
<path d="M1150.5 239.8L1155.5 239.8" stroke="#343132" stroke-width="0.7" shape-rendering="crispEdges"/>
<rect x="1161.4" y="237.2" width="2.8" height="2.6" fill="#fff" stroke="none" stroke-width="0.7" shape-rendering="crispEdges"/>
<path d="M1160.3 237.2L1165.3 237.2" stroke="#343132" stroke-width="0.7" shape-rendering="crispEdges"/>
<path d="M1160.3 239.8L1165.3 239.8" stroke="#343132" stroke-width="0.7" shape-rendering="crispEdges"/>
<rect x="1142.5" y="261.7" width="2.8" height="2.6" fill="#fff" stroke="none" stroke-width="0.7" shape-rendering="crispEdges"/>
<path d="M1140.9 261.7L1146.9 261.7" stroke="#343132" stroke-width="0.7" shape-rendering="crispEdges"/>
<path d="M1140.9 264.3L1146.9 264.3" stroke="#343132" stroke-width="0.7" shape-rendering="crispEdges"/>
<rect x="1223.7" y="261.7" width="2.8" height="2.6" fill="#fff" stroke="none" stroke-width="0.7" shape-rendering="crispEdges"/>
<path d="M1222.1 261.7L1228.1 261.7" stroke="#343132" stroke-width="0.7" shape-rendering="crispEdges"/>
<path d="M1222.1 264.3L1228.1 264.3" stroke="#343132" stroke-width="0.7" shape-rendering="crispEdges"/>
<circle cx="1134.7" cy="197.5" r="2.1" fill="#231f20"/>
<circle cx="1143.9" cy="206.2" r="2.1" fill="#231f20"/>
<circle cx="1143.9" cy="233.3" r="2.1" fill="#231f20"/>
<circle cx="1162.8" cy="215.5" r="2.1" fill="#231f20"/>
<circle cx="1153" cy="224.2" r="2.1" fill="#231f20"/>
<circle cx="1153" cy="251.1" r="2.1" fill="#231f20"/>
<circle cx="1162.8" cy="251.1" r="2.1" fill="#231f20"/>
<circle cx="1225.1" cy="251.1" r="2.1" fill="#231f20"/>
<circle cx="1225.1" cy="278.3" r="2.1" fill="#231f20"/>
<text x="1121.8" y="195.8" font-size="6">5</text>
<text x="1121.8" y="204.5" font-size="6">4</text>
<text x="1121.8" y="213.7" font-size="6">2</text>
<text x="1121.8" y="222.5" font-size="6">3</text>
<text x="1121.8" y="231.5" font-size="6">7</text>
<text x="1121.8" y="240.3" font-size="6">8</text>
<text x="1121.8" y="249.4" font-size="6">1</text>
<text x="1156.1" y="196.1" font-size="6" font-weight="bold">0V</text>
<text x="1191.9" y="196.1" font-size="6">HPDET</text>
<text x="1184.4" y="205.4" font-size="6" text-anchor="middle">L7201</text>
<text x="1184.4" y="210.3" font-size="6" text-anchor="middle">022M</text>
<text x="1184.4" y="231.5" font-size="6" text-anchor="middle">L7202</text>
<text x="1184.4" y="236.8" font-size="6" text-anchor="middle">022M</text>
<text x="1184.4" y="246.4" font-size="6" text-anchor="middle">L7203</text>
<text x="1184.4" y="258.6" font-size="6" text-anchor="middle">022M</text>
<text x="1133.8" y="273.4" font-size="6" transform="rotate(-90 1133.8 273.4)">C7202</text>
<text x="1140.4" y="270.8" font-size="6" transform="rotate(-90 1140.4 270.8)">223J</text>
<text x="1155.3" y="273.4" font-size="6" transform="rotate(-90 1155.3 273.4)">C7204</text>
<text x="1165.4" y="273.4" font-size="6" transform="rotate(-90 1165.4 273.4)">C7203</text>
<text x="1159.6" y="243.8" font-size="6" transform="rotate(-90 1159.6 243.8)">102J</text>
<text x="1169.6" y="243.8" font-size="6" transform="rotate(-90 1169.6 243.8)">102J</text>
<text x="1221.1" y="272.6" font-size="6" transform="rotate(-90 1221.1 272.6)">C7201</text>
<text x="1231.7" y="270" font-size="6" transform="rotate(-90 1231.7 270)">102J</text>
<text x="1247.8" y="260.9" font-size="6" transform="rotate(-90 1247.8 260.9)">JL6605A</text>
<rect x="1242.2" y="179.7" width="18.2" height="52.7" fill="#fff" stroke="#343132" stroke-width="0.7" shape-rendering="crispEdges"/>
<circle cx="1251.3" cy="188.8" r="2.2" fill="#fff" stroke="#231f20" stroke-width="0.7"/>
<text x="1236.4" y="187" font-size="6">5</text>
<circle cx="1251.3" cy="197.5" r="2.2" fill="#fff" stroke="#231f20" stroke-width="0.7"/>
<text x="1236.4" y="195.8" font-size="6">4</text>
<circle cx="1251.3" cy="206.2" r="2.2" fill="#fff" stroke="#231f20" stroke-width="0.7"/>
<text x="1236.4" y="204.5" font-size="6">3</text>
<circle cx="1251.3" cy="215.5" r="2.2" fill="#fff" stroke="#231f20" stroke-width="0.7"/>
<text x="1236.4" y="213.7" font-size="6">2</text>
<circle cx="1251.3" cy="224.6" r="2.2" fill="#fff" stroke="#231f20" stroke-width="0.7"/>
<text x="1236.4" y="222.8" font-size="6">1</text>
<circle cx="1251.3" cy="224.6" r="1.8" fill="#231f20"/>
<path d="M1260.4 209.4L1275.7 209.4L1275.7 322.4L1034.5 322.4L1034.5 466.2L1055 466.2" stroke="#343132" stroke-width="0.8" shape-rendering="crispEdges"/>
<path d="M1599.8 92.5L1772.5 92.5L1772.5 310.2L1643.9 310.2L1643.9 167.3L1599.8 167.3Z" stroke="#231f20" stroke-width="2.35" stroke-dasharray="28.6 2.9 5 2.9"/>
<path d="M1658 92.5L1658 112.7" stroke="#231f20" stroke-width="2.35" stroke-dasharray="28.6 2.9 5 2.9"/>
<path d="M1658 112.7L1772.5 112.7" stroke="#231f20" stroke-width="2.35" stroke-dasharray="28.6 2.9 5 2.9"/>
<text x="1667.3" y="107.7" font-size="14.8" textLength="96.3" lengthAdjust="spacingAndGlyphs">NATRM-9428</text>
<rect x="1613.7" y="102.2" width="31.2" height="16.1" fill="#231f20" stroke="none" stroke-width="0.7" shape-rendering="crispEdges"/>
<text x="1629.3" y="115.6" font-size="13.5" font-weight="bold" text-anchor="middle" fill="#fff">U09</text>
<text x="1617.1" y="130.6" font-size="11.9" font-weight="bold" textLength="110.3" lengthAdjust="spacingAndGlyphs">ZONE 2 SPEAKER</text>
<text x="1617.1" y="146.4" font-size="11.9" font-weight="bold" textLength="136.5" lengthAdjust="spacingAndGlyphs">TERMINAL PC BOARD</text>
<text x="1811.5" y="95.4" font-size="6.6" font-weight="bold">LIST</text>
<circle cx="1819.7" cy="106.8" r="7.7" fill="none" stroke="#231f20" stroke-width="0.7"/>
<text x="1819.7" y="110.8" font-size="11.5" font-weight="bold" text-anchor="middle">C</text>
<text x="1804.8" y="228.8" font-size="8.9" font-weight="bold" text-anchor="middle">ZONE 2</text>
<text x="1804.8" y="239.7" font-size="8.9" font-weight="bold" text-anchor="middle">SPEAKERS</text>
<text x="1791.3" y="253" font-size="8.9" font-weight="bold" text-anchor="middle">R</text>
<text x="1815.2" y="253" font-size="8.9" font-weight="bold" text-anchor="middle">L</text>
<path d="M1647.5 238.1L1666.9 238.1L1666.9 182.8L1759.6 182.8L1759.6 221.5" stroke="#231f20" stroke-width="1.6"/>
<path d="M1647.5 246.1L1675.9 246.1L1675.9 194.1L1731.4 194.1L1731.4 221.5" stroke="#231f20" stroke-width="1.6"/>
<path d="M1731.4 155.4L1731.4 194.1" stroke="#231f20" stroke-width="1.6"/>
<path d="M1759.6 155.4L1759.6 182.8" stroke="#231f20" stroke-width="1.6"/>
<path d="M1759.6 155.4L1710.4 155.4L1710.4 206" stroke="#343132" stroke-width="0.8" shape-rendering="crispEdges"/>
<path d="M1686.2 194.1L1686.2 294.3" stroke="#231f20" stroke-width="1.6"/>
<path d="M1699.1 182.8L1699.1 300.6" stroke="#231f20" stroke-width="1.6"/>
<path d="M1647.5 254.2L1675.9 254.2L1675.9 300.6L1759.6 300.6L1759.6 249.6" stroke="#343132" stroke-width="0.8" shape-rendering="crispEdges"/>
<path d="M1647.5 262.5L1666.9 262.5L1666.9 294.3L1731.4 294.3L1731.4 249.6" stroke="#343132" stroke-width="0.8" shape-rendering="crispEdges"/>
<path d="M1664.9 254.2L1655.8 251.5L1658.1 254.2L1655.8 256.9Z" stroke="#231f20" stroke-width="0.3" style="fill:#231f20"/>
<path d="M1664.9 262.5L1655.8 259.8L1658.1 262.5L1655.8 265.3Z" stroke="#231f20" stroke-width="0.3" style="fill:#231f20"/>
<rect x="1730" y="167" width="2.8" height="2.6" fill="#e5f4fd" stroke="none" stroke-width="0.7" shape-rendering="crispEdges"/>
<path d="M1728.4 167L1734.4 167" stroke="#343132" stroke-width="0.7" shape-rendering="crispEdges"/>
<path d="M1728.4 169.6L1734.4 169.6" stroke="#343132" stroke-width="0.7" shape-rendering="crispEdges"/>
<rect x="1758.2" y="167" width="2.8" height="2.6" fill="#e5f4fd" stroke="none" stroke-width="0.7" shape-rendering="crispEdges"/>
<path d="M1756.6 167L1762.6 167" stroke="#343132" stroke-width="0.7" shape-rendering="crispEdges"/>
<path d="M1756.6 169.6L1762.6 169.6" stroke="#343132" stroke-width="0.7" shape-rendering="crispEdges"/>
<rect x="1684.8" y="277.1" width="2.8" height="2.6" fill="#e5f4fd" stroke="none" stroke-width="0.7" shape-rendering="crispEdges"/>
<path d="M1683.2 277.1L1689.2 277.1" stroke="#343132" stroke-width="0.7" shape-rendering="crispEdges"/>
<path d="M1683.2 279.7L1689.2 279.7" stroke="#343132" stroke-width="0.7" shape-rendering="crispEdges"/>
<rect x="1697.7" y="277.1" width="2.8" height="2.6" fill="#e5f4fd" stroke="none" stroke-width="0.7" shape-rendering="crispEdges"/>
<path d="M1696.1 277.1L1702.1 277.1" stroke="#343132" stroke-width="0.7" shape-rendering="crispEdges"/>
<path d="M1696.1 279.7L1702.1 279.7" stroke="#343132" stroke-width="0.7" shape-rendering="crispEdges"/>
<circle cx="1731.4" cy="155.4" r="2.1" fill="#231f20"/>
<circle cx="1699.1" cy="182.8" r="2.1" fill="#231f20"/>
<circle cx="1759.6" cy="182.8" r="2.1" fill="#231f20"/>
<circle cx="1686.2" cy="194.1" r="2.1" fill="#231f20"/>
<circle cx="1731.4" cy="194.1" r="2.1" fill="#231f20"/>
<circle cx="1686.2" cy="294.3" r="2.1" fill="#231f20"/>
<circle cx="1699.1" cy="300.6" r="2.1" fill="#231f20"/>
<rect x="1703.4" y="197.4" width="73.1" height="69.1" fill="#e5f4fd" stroke="#55595e" stroke-width="0.9" stroke-dasharray="3.6 2.4" shape-rendering="crispEdges"/>
<path d="M1710.4 194.1L1710.4 206" stroke="#343132" stroke-width="0.8" shape-rendering="crispEdges"/>
<path d="M1710.4 206L1713.4 206" stroke="#343132" stroke-width="0.8" shape-rendering="crispEdges"/>
<path d="M1713.4 210.9L1715.7 202" stroke="#343132" stroke-width="0.5"/>
<path d="M1715.3 210.9L1717.7 202" stroke="#343132" stroke-width="0.5"/>
<path d="M1717.3 210.9L1719.7 202" stroke="#343132" stroke-width="0.5"/>
<path d="M1719.3 210.9L1721.7 202" stroke="#343132" stroke-width="0.5"/>
<path d="M1731.4 197.4L1731.4 213.9" stroke="#231f20" stroke-width="1.6"/>
<path d="M1759.6 197.4L1759.6 213.9" stroke="#231f20" stroke-width="1.6"/>
<path d="M1731.4 257.6L1731.4 266.5" stroke="#343132" stroke-width="0.8" shape-rendering="crispEdges"/>
<path d="M1759.6 257.6L1759.6 266.5" stroke="#343132" stroke-width="0.8" shape-rendering="crispEdges"/>
<circle cx="1731.4" cy="221.5" r="8.3" fill="#fff" stroke="#231f20" stroke-width="0.9"/>
<path d="M1731.4 215.5L1731.4 227.5" stroke="#231f20" stroke-width="1.6"/>
<circle cx="1731.4" cy="249.6" r="8.3" fill="#fff" stroke="#231f20" stroke-width="0.9"/>
<path d="M1731.4 243.6L1731.4 255.6" stroke="#231f20" stroke-width="1.6"/>
<path d="M1725.4 249.6L1737.4 249.6" stroke="#231f20" stroke-width="1.6"/>
<circle cx="1759.6" cy="221.5" r="8.3" fill="#fff" stroke="#231f20" stroke-width="0.9"/>
<path d="M1759.6 215.5L1759.6 227.5" stroke="#231f20" stroke-width="1.6"/>
<circle cx="1759.6" cy="249.6" r="8.3" fill="#fff" stroke="#231f20" stroke-width="0.9"/>
<path d="M1759.6 243.6L1759.6 255.6" stroke="#231f20" stroke-width="1.6"/>
<path d="M1753.6 249.6L1765.6 249.6" stroke="#231f20" stroke-width="1.6"/>
<rect x="1639.5" y="225.8" width="8" height="40.7" fill="#fff" stroke="#343132" stroke-width="0.7" shape-rendering="crispEdges"/>
<circle cx="1643.5" cy="229.8" r="2" fill="#fff" stroke="#231f20" stroke-width="0.7"/>
<text x="1653.8" y="228.2" font-size="5.2" transform="rotate(-90 1653.8 228.2)">5</text>
<circle cx="1643.5" cy="238.1" r="2" fill="#fff" stroke="#231f20" stroke-width="0.7"/>
<text x="1653.8" y="236.5" font-size="5.2" transform="rotate(-90 1653.8 236.5)">4</text>
<circle cx="1643.5" cy="246.1" r="2" fill="#fff" stroke="#231f20" stroke-width="0.7"/>
<text x="1653.8" y="244.5" font-size="5.2" transform="rotate(-90 1653.8 244.5)">3</text>
<circle cx="1643.5" cy="254.2" r="2" fill="#fff" stroke="#231f20" stroke-width="0.7"/>
<text x="1653.8" y="252.6" font-size="5.2" transform="rotate(-90 1653.8 252.6)">2</text>
<circle cx="1643.5" cy="262.5" r="2" fill="#fff" stroke="#231f20" stroke-width="0.7"/>
<text x="1653.8" y="260.9" font-size="5.2" transform="rotate(-90 1653.8 260.9)">1</text>
<circle cx="1643.5" cy="262.5" r="1.6" fill="#231f20"/>
<text x="1727.8" y="173.6" font-size="6" transform="rotate(-90 1727.8 173.6)">102J</text>
<text x="1738.8" y="176.2" font-size="6" transform="rotate(-90 1738.8 176.2)">C6657</text>
<text x="1755.6" y="173.6" font-size="6" transform="rotate(-90 1755.6 173.6)">102J</text>
<text x="1766.5" y="176.2" font-size="6" transform="rotate(-90 1766.5 176.2)">C6658</text>
<text x="1710.4" y="246.7" font-size="6" transform="rotate(-90 1710.4 246.7)">P6607</text>
<text x="1717.3" y="257.6" font-size="6" transform="rotate(-90 1717.3 257.6)">(Banana type)</text>
<text x="1683.6" y="285.4" font-size="6" transform="rotate(-90 1683.6 285.4)">C6647</text>
<text x="1689.1" y="283.4" font-size="6" transform="rotate(-90 1689.1 283.4)">103J</text>
<text x="1697.1" y="285.4" font-size="6" transform="rotate(-90 1697.1 285.4)">C6648</text>
<text x="1705" y="283.4" font-size="6" transform="rotate(-90 1705 283.4)">103J</text>
<text x="1653.4" y="293.3" font-size="6" transform="rotate(-90 1653.4 293.3)">JL6604C</text>
<path d="M1639.5 246.1L1617.7 246.1L1617.7 321.7L1884.5 321.7L1884.5 570.3L1768 570.3" stroke="#343132" stroke-width="0.8" shape-rendering="crispEdges"/>
<path d="M1058 338.2L1760 338.2L1760 935.8L1058 935.8Z" stroke="#231f20" stroke-width="2.35" stroke-dasharray="28.6 2.9 5 2.9"/>
<path d="M1643.2 338.2L1643.2 360" stroke="#231f20" stroke-width="2.35"/>
<path d="M1643.2 360L1760 360" stroke="#231f20" stroke-width="2.35" stroke-dasharray="28.6 2.9 5 2.9"/>
<text x="1653.8" y="355" font-size="14.8" textLength="96.2" lengthAdjust="spacingAndGlyphs">NATRM-9468</text>
<rect x="1493.2" y="348" width="37.2" height="17" fill="#231f20" stroke="none" stroke-width="0.7" shape-rendering="crispEdges"/>
<text x="1511.9" y="362.1" font-size="15" font-weight="bold" text-anchor="middle" fill="#fff">U37</text>
<text x="1496.8" y="381.2" font-size="14.7" font-weight="bold" textLength="251.5" lengthAdjust="spacingAndGlyphs">SPEAKER TERMINAL PC BOARD</text>
<text x="1139.5" y="378" font-size="6.3" textLength="122.2" lengthAdjust="spacingAndGlyphs">D6600, 6603, 6605, 6607 : KDS4148U</text>
<text x="1139.5" y="389.5" font-size="6.3" textLength="85.5" lengthAdjust="spacingAndGlyphs">TA5 : Jumper wire L=5 mm</text>
<path d="M1140 731.5L1140 425L1242 425L1242 449.5L1163 449.5L1163 425" stroke="#343132" stroke-width="0.8" shape-rendering="crispEdges"/>
<circle cx="1163" cy="425" r="2.1" fill="#231f20"/>
<circle cx="1242" cy="442" r="2.1" fill="#231f20"/>
<path d="M1163 535L1163 512L1242 512L1242 535" stroke="#343132" stroke-width="0.8" shape-rendering="crispEdges"/>
<path d="M1058 720.8L1118.8 720.8L1118.8 535L1242 535L1242 563.8L1336.8 563.8L1336.8 530.8L1400.8 530.8" stroke="#1b7ea8" stroke-width="1.5"/>
<path d="M1119.5 449.2L1119.5 535" stroke="#343132" stroke-width="0.8" shape-rendering="crispEdges"/>
<circle cx="1118.8" cy="535" r="2.1" fill="#231f20"/>
<circle cx="1163" cy="535" r="2.1" fill="#231f20"/>
<circle cx="1242" cy="535" r="2.1" fill="#231f20"/>
<path d="M1058 742.2L1129.2 742.2L1129.2 577.5" stroke="#9c2a52" stroke-width="1.5"/>
<path d="M1129.2 577.5L1477.5 577.5L1477.5 530.8L1440.5 530.8" stroke="#9c2a52" stroke-width="1.25"/>
<path d="M1163 577.5L1163 602.5L1242 602.5L1242 577.5" stroke="#9c2a52" stroke-width="1.5"/>
<path d="M1129.2 470.8L1129.2 577.5" stroke="#343132" stroke-width="0.8" shape-rendering="crispEdges"/>
<circle cx="1129.2" cy="577.5" r="2.1" fill="#231f20"/>
<circle cx="1163" cy="577.5" r="2.1" fill="#231f20"/>
<circle cx="1242" cy="577.5" r="2.1" fill="#231f20"/>
<path d="M1058 710L1148.8 710L1148.8 653.8L1242 653.8L1242 680.8L1163 680.8L1163 653.8" stroke="#343132" stroke-width="0.8" shape-rendering="crispEdges"/>
<circle cx="1163" cy="653.8" r="2.1" fill="#231f20"/>
<circle cx="1242" cy="674.2" r="2.1" fill="#231f20"/>
<path d="M1058 753L1163 753" stroke="#343132" stroke-width="0.8" shape-rendering="crispEdges"/>
<path d="M1163 756.2L1163 729.2L1268.8 729.2L1268.8 688.8L1286 688.8" stroke="#343132" stroke-width="0.8" shape-rendering="crispEdges"/>
<path d="M1163 756.2L1242 756.2L1242 729.2" stroke="#343132" stroke-width="0.8" shape-rendering="crispEdges"/>
<circle cx="1163" cy="753" r="2.1" fill="#231f20"/>
<circle cx="1242" cy="729.2" r="2.1" fill="#231f20"/>
<path d="M1058 699.2L1156.2 699.2L1156.2 821.8L1257.5 821.8L1257.5 902.5L1286 902.5" stroke="#343132" stroke-width="0.8" shape-rendering="crispEdges"/>
<path d="M1156.2 795.8L1240 795.8L1240 788.6L1286 788.6" stroke="#343132" stroke-width="0.8" shape-rendering="crispEdges"/>
<path d="M1240 795.8L1240 821.8" stroke="#343132" stroke-width="0.8" shape-rendering="crispEdges"/>
<circle cx="1156.2" cy="795.8" r="2.1" fill="#231f20"/>
<circle cx="1240" cy="795.8" r="2.1" fill="#231f20"/>
<circle cx="1240" cy="821.8" r="2.1" fill="#231f20"/>
<path d="M1058 763.8L1128 763.8L1128 895.8L1249.5 895.8L1249.5 802.8L1286 802.8" stroke="#343132" stroke-width="0.8" shape-rendering="crispEdges"/>
<path d="M1128 870.5L1249.5 870.5" stroke="#343132" stroke-width="0.8" shape-rendering="crispEdges"/>
<circle cx="1128" cy="870.5" r="2.1" fill="#231f20"/>
<circle cx="1249.5" cy="870.5" r="2.1" fill="#231f20"/>
<circle cx="1249.5" cy="888.8" r="2.1" fill="#231f20"/>
<path d="M1249.5 888.8L1286 888.8" stroke="#343132" stroke-width="0.8" shape-rendering="crispEdges"/>
<text x="1179.2" y="409.6" font-size="6">L6602</text>
<text x="1205" y="410.5" font-size="7" font-weight="bold">LIST</text>
<path d="M1196.5 413.4A1.8 1.8 0 0 1 1200 413.4A1.8 1.8 0 0 1 1203.5 413.4" stroke="#231f20" stroke-width="0.7"/>
<rect x="1177.5" y="415" width="43" height="10" fill="none" stroke="#343132" stroke-width="0.8" shape-rendering="crispEdges"/>
<rect x="1177.5" y="425" width="43" height="10.5" fill="none" stroke="#343132" stroke-width="0.8" shape-rendering="crispEdges"/>
<text x="1179.2" y="421.1" font-size="6">R6602</text>
<text x="1203" y="421.9" font-size="7" font-weight="bold">LIST</text>
<text x="1179.2" y="433" font-size="6">R6612</text>
<text x="1203" y="433.7" font-size="7" font-weight="bold">LIST</text>
<path d="M1197.9 425.6L1198.4 424.5L1199.5 426.7L1200.5 424.5L1201.5 426.7L1202.6 424.5L1203.1 425.6" stroke="#343132" stroke-width="0.6"/>
<path d="M1197.9 436L1198.4 434.9L1199.5 437.1L1200.5 434.9L1201.5 437.1L1202.6 434.9L1203.1 436" stroke="#343132" stroke-width="0.6"/>
<text x="1185.8" y="446.9" font-size="6">J6851  TA5</text>
<text x="1193" y="457.5" font-size="7" font-weight="bold">LIST</text>
<circle cx="1177.5" cy="425" r="1.6" fill="#231f20"/>
<circle cx="1220.5" cy="425" r="1.6" fill="#231f20"/>
<text x="1179.2" y="495.6" font-size="6">L6600</text>
<text x="1205" y="496.5" font-size="7" font-weight="bold">LIST</text>
<path d="M1196.5 499.4A1.8 1.8 0 0 1 1200 499.4A1.8 1.8 0 0 1 1203.5 499.4" stroke="#231f20" stroke-width="0.7"/>
<rect x="1177.5" y="502" width="43" height="10" fill="none" stroke="#343132" stroke-width="0.8" shape-rendering="crispEdges"/>
<rect x="1177.5" y="512" width="43" height="10.5" fill="none" stroke="#343132" stroke-width="0.8" shape-rendering="crispEdges"/>
<text x="1179.2" y="508.1" font-size="6">R6600</text>
<text x="1203" y="508.9" font-size="7" font-weight="bold">LIST</text>
<text x="1179.2" y="520" font-size="6">R6610</text>
<text x="1203" y="520.7" font-size="7" font-weight="bold">LIST</text>
<path d="M1197.9 512.6L1198.4 511.5L1199.5 513.7L1200.5 511.5L1201.5 513.7L1202.6 511.5L1203.1 512.6" stroke="#343132" stroke-width="0.6"/>
<path d="M1197.9 523L1198.4 521.9L1199.5 524.1L1200.5 521.9L1201.5 524.1L1202.6 521.9L1203.1 523" stroke="#343132" stroke-width="0.6"/>
<text x="1185.8" y="532.4" font-size="6">J6600  TA5</text>
<text x="1193" y="543" font-size="7" font-weight="bold">LIST</text>
<circle cx="1177.5" cy="512" r="1.6" fill="#231f20"/>
<circle cx="1220.5" cy="512" r="1.6" fill="#231f20"/>
<text x="1179.2" y="562.1" font-size="6">L6601</text>
<text x="1205" y="563" font-size="7" font-weight="bold">LIST</text>
<path d="M1196.5 565.9A1.8 1.8 0 0 1 1200 565.9A1.8 1.8 0 0 1 1203.5 565.9" stroke="#231f20" stroke-width="0.7"/>
<rect x="1177.5" y="567.5" width="43" height="10" fill="none" stroke="#343132" stroke-width="0.8" shape-rendering="crispEdges"/>
<rect x="1177.5" y="577.5" width="43" height="10.5" fill="none" stroke="#343132" stroke-width="0.8" shape-rendering="crispEdges"/>
<text x="1179.2" y="573.6" font-size="6">R6601</text>
<text x="1203" y="574.4" font-size="7" font-weight="bold">LIST</text>
<text x="1179.2" y="585.5" font-size="6">R6611</text>
<text x="1203" y="586.2" font-size="7" font-weight="bold">LIST</text>
<path d="M1197.9 578.1L1198.4 577L1199.5 579.2L1200.5 577L1201.5 579.2L1202.6 577L1203.1 578.1" stroke="#343132" stroke-width="0.6"/>
<path d="M1197.9 588.5L1198.4 587.4L1199.5 589.6L1200.5 587.4L1201.5 589.6L1202.6 587.4L1203.1 588.5" stroke="#343132" stroke-width="0.6"/>
<text x="1185.8" y="599.9" font-size="6">J6604  TA5</text>
<text x="1193" y="610.5" font-size="7" font-weight="bold">LIST</text>
<circle cx="1177.5" cy="577.5" r="1.6" fill="#231f20"/>
<circle cx="1220.5" cy="577.5" r="1.6" fill="#231f20"/>
<text x="1179.2" y="639.6" font-size="6">L6603</text>
<text x="1205" y="640.5" font-size="7" font-weight="bold">LIST</text>
<path d="M1196.5 643.4A1.8 1.8 0 0 1 1200 643.4A1.8 1.8 0 0 1 1203.5 643.4" stroke="#231f20" stroke-width="0.7"/>
<rect x="1177.5" y="643.8" width="43" height="10" fill="none" stroke="#343132" stroke-width="0.8" shape-rendering="crispEdges"/>
<rect x="1177.5" y="653.8" width="43" height="10.5" fill="none" stroke="#343132" stroke-width="0.8" shape-rendering="crispEdges"/>
<text x="1179.2" y="649.9" font-size="6">R6603</text>
<text x="1203" y="650.6" font-size="7" font-weight="bold">LIST</text>
<text x="1179.2" y="661.8" font-size="6">R6613</text>
<text x="1203" y="662.5" font-size="7" font-weight="bold">LIST</text>
<path d="M1197.9 654.4L1198.4 653.2L1199.5 655.5L1200.5 653.2L1201.5 655.5L1202.6 653.2L1203.1 654.4" stroke="#343132" stroke-width="0.6"/>
<path d="M1197.9 664.8L1198.4 663.6L1199.5 665.9L1200.5 663.6L1201.5 665.9L1202.6 663.6L1203.1 664.8" stroke="#343132" stroke-width="0.6"/>
<text x="1185.8" y="678.1" font-size="6">J6619  TA5</text>
<text x="1193" y="688.8" font-size="7" font-weight="bold">LIST</text>
<circle cx="1177.5" cy="653.8" r="1.6" fill="#231f20"/>
<circle cx="1220.5" cy="653.8" r="1.6" fill="#231f20"/>
<text x="1179.2" y="714.4" font-size="6">L6604</text>
<text x="1205" y="715.2" font-size="7" font-weight="bold">LIST</text>
<path d="M1196.5 718.1A1.8 1.8 0 0 1 1200 718.1A1.8 1.8 0 0 1 1203.5 718.1" stroke="#231f20" stroke-width="0.7"/>
<rect x="1177.5" y="719.2" width="43" height="10" fill="none" stroke="#343132" stroke-width="0.8" shape-rendering="crispEdges"/>
<rect x="1177.5" y="729.2" width="43" height="10.5" fill="none" stroke="#343132" stroke-width="0.8" shape-rendering="crispEdges"/>
<text x="1179.2" y="725.4" font-size="6">R6604</text>
<text x="1203" y="726.1" font-size="7" font-weight="bold">LIST</text>
<text x="1179.2" y="737.2" font-size="6">R6614</text>
<text x="1203" y="738" font-size="7" font-weight="bold">LIST</text>
<path d="M1197.9 729.9L1198.4 728.7L1199.5 731L1200.5 728.7L1201.5 731L1202.6 728.7L1203.1 729.9" stroke="#343132" stroke-width="0.6"/>
<path d="M1197.9 740.2L1198.4 739.1L1199.5 741.4L1200.5 739.1L1201.5 741.4L1202.6 739.1L1203.1 740.2" stroke="#343132" stroke-width="0.6"/>
<text x="1185.8" y="753.6" font-size="6">J6620  TA5</text>
<text x="1193" y="764.2" font-size="7" font-weight="bold">LIST</text>
<circle cx="1177.5" cy="729.2" r="1.6" fill="#231f20"/>
<circle cx="1220.5" cy="729.2" r="1.6" fill="#231f20"/>
<text x="1179.2" y="780.1" font-size="6">L6605</text>
<text x="1205" y="781" font-size="7" font-weight="bold">LIST</text>
<path d="M1196.5 783.9A1.8 1.8 0 0 1 1200 783.9A1.8 1.8 0 0 1 1203.5 783.9" stroke="#231f20" stroke-width="0.7"/>
<rect x="1177.5" y="785.8" width="43" height="10" fill="none" stroke="#343132" stroke-width="0.8" shape-rendering="crispEdges"/>
<rect x="1177.5" y="795.8" width="43" height="10.5" fill="none" stroke="#343132" stroke-width="0.8" shape-rendering="crispEdges"/>
<text x="1179.2" y="791.9" font-size="6">R6605</text>
<text x="1203" y="792.6" font-size="7" font-weight="bold">LIST</text>
<text x="1179.2" y="803.8" font-size="6">R6615</text>
<text x="1203" y="804.5" font-size="7" font-weight="bold">LIST</text>
<path d="M1197.9 796.4L1198.4 795.2L1199.5 797.5L1200.5 795.2L1201.5 797.5L1202.6 795.2L1203.1 796.4" stroke="#343132" stroke-width="0.6"/>
<path d="M1197.9 806.8L1198.4 805.6L1199.5 807.9L1200.5 805.6L1201.5 807.9L1202.6 805.6L1203.1 806.8" stroke="#343132" stroke-width="0.6"/>
<text x="1185.8" y="819.1" font-size="6">J6626  TA5</text>
<text x="1193" y="829.8" font-size="7" font-weight="bold">LIST</text>
<circle cx="1177.5" cy="795.8" r="1.6" fill="#231f20"/>
<circle cx="1220.5" cy="795.8" r="1.6" fill="#231f20"/>
<text x="1179.2" y="854.4" font-size="6">L6606</text>
<text x="1205" y="855.2" font-size="7" font-weight="bold">LIST</text>
<path d="M1196.5 858.1A1.8 1.8 0 0 1 1200 858.1A1.8 1.8 0 0 1 1203.5 858.1" stroke="#231f20" stroke-width="0.7"/>
<rect x="1177.5" y="860.5" width="43" height="10" fill="none" stroke="#343132" stroke-width="0.8" shape-rendering="crispEdges"/>
<rect x="1177.5" y="870.5" width="43" height="10.5" fill="none" stroke="#343132" stroke-width="0.8" shape-rendering="crispEdges"/>
<text x="1179.2" y="866.6" font-size="6">R6606</text>
<text x="1203" y="867.4" font-size="7" font-weight="bold">LIST</text>
<text x="1179.2" y="878.5" font-size="6">R6616</text>
<text x="1203" y="879.2" font-size="7" font-weight="bold">LIST</text>
<path d="M1197.9 871.1L1198.4 870L1199.5 872.2L1200.5 870L1201.5 872.2L1202.6 870L1203.1 871.1" stroke="#343132" stroke-width="0.6"/>
<path d="M1197.9 881.5L1198.4 880.4L1199.5 882.6L1200.5 880.4L1201.5 882.6L1202.6 880.4L1203.1 881.5" stroke="#343132" stroke-width="0.6"/>
<text x="1185.8" y="893.1" font-size="6">J6625  TA5</text>
<text x="1193" y="903.8" font-size="7" font-weight="bold">LIST</text>
<circle cx="1177.5" cy="870.5" r="1.6" fill="#231f20"/>
<circle cx="1220.5" cy="870.5" r="1.6" fill="#231f20"/>
<circle cx="1196.8" cy="449.5" r="1.4" fill="#e5f4fd" stroke="#231f20" stroke-width="0.7"/>
<circle cx="1204.2" cy="449.5" r="1.4" fill="#e5f4fd" stroke="#231f20" stroke-width="0.7"/>
<circle cx="1196.8" cy="535" r="1.4" fill="#e5f4fd" stroke="#1b7ea8" stroke-width="0.7"/>
<circle cx="1204.2" cy="535" r="1.4" fill="#e5f4fd" stroke="#1b7ea8" stroke-width="0.7"/>
<circle cx="1196.8" cy="602.5" r="1.4" fill="#e5f4fd" stroke="#9c2a52" stroke-width="0.7"/>
<circle cx="1204.2" cy="602.5" r="1.4" fill="#e5f4fd" stroke="#9c2a52" stroke-width="0.7"/>
<circle cx="1196.8" cy="680.8" r="1.4" fill="#e5f4fd" stroke="#231f20" stroke-width="0.7"/>
<circle cx="1204.2" cy="680.8" r="1.4" fill="#e5f4fd" stroke="#231f20" stroke-width="0.7"/>
<circle cx="1196.8" cy="756.2" r="1.4" fill="#e5f4fd" stroke="#231f20" stroke-width="0.7"/>
<circle cx="1204.2" cy="756.2" r="1.4" fill="#e5f4fd" stroke="#231f20" stroke-width="0.7"/>
<circle cx="1196.8" cy="821.8" r="1.4" fill="#e5f4fd" stroke="#231f20" stroke-width="0.7"/>
<circle cx="1204.2" cy="821.8" r="1.4" fill="#e5f4fd" stroke="#231f20" stroke-width="0.7"/>
<circle cx="1196.8" cy="895.8" r="1.4" fill="#e5f4fd" stroke="#231f20" stroke-width="0.7"/>
<circle cx="1204.2" cy="895.8" r="1.4" fill="#e5f4fd" stroke="#231f20" stroke-width="0.7"/>
<path d="M1118.8 660L1116.2 668.6L1118.8 666.4L1121.3 668.6Z" stroke="#231f20" stroke-width="0.3" style="fill:#231f20"/>
<path d="M1129.2 660L1126.7 668.6L1129.2 666.4L1131.8 668.6Z" stroke="#231f20" stroke-width="0.3" style="fill:#231f20"/>
<path d="M1140 660L1137.4 668.6L1140 666.4L1142.6 668.6Z" stroke="#231f20" stroke-width="0.3" style="fill:#231f20"/>
<path d="M1148.8 683L1146.2 691.6L1148.8 689.4L1151.3 691.6Z" stroke="#231f20" stroke-width="0.3" style="fill:#231f20"/>
<path d="M1156.2 786L1153.7 777.4L1156.2 779.6L1158.8 777.4Z" stroke="#231f20" stroke-width="0.3" style="fill:#231f20"/>
<path d="M1147 753L1138.4 750.4L1140.6 753L1138.4 755.6Z" stroke="#231f20" stroke-width="0.3" style="fill:#231f20"/>
<path d="M1034.5 466.2L1053 466.2" stroke="#343132" stroke-width="0.8" shape-rendering="crispEdges"/>
<rect x="1052.5" y="443.8" width="10.5" height="53.8" fill="#fff" stroke="#343132" stroke-width="0.8" rx="4.5"/>
<circle cx="1058" cy="449.2" r="2.4" fill="#fff" stroke="#231f20" stroke-width="0.8"/>
<circle cx="1058" cy="460" r="2.4" fill="#fff" stroke="#231f20" stroke-width="0.8"/>
<circle cx="1058" cy="470.8" r="2.4" fill="#fff" stroke="#231f20" stroke-width="0.8"/>
<circle cx="1058" cy="481.5" r="2.4" fill="#fff" stroke="#231f20" stroke-width="0.8"/>
<circle cx="1058" cy="492" r="2.4" fill="#fff" stroke="#231f20" stroke-width="0.8"/>
<text x="1065" y="447.9" font-size="6">1  HPL</text>
<text x="1065" y="458.6" font-size="6">2  LSPE</text>
<text x="1065" y="469.4" font-size="6">3  HPR</text>
<text x="1065" y="480.1" font-size="6">4 HPDET</text>
<text x="1065" y="490.6" font-size="6">5</text>
<text x="1067.5" y="440" font-size="5.8" transform="rotate(-90 1067.5 440)">JL6605B</text>
<path d="M1063 449.2L1119.5 449.2" stroke="#343132" stroke-width="0.8" shape-rendering="crispEdges"/>
<path d="M1090 449.2L1099.2 446.5L1096.8 449.2L1099.2 452Z" stroke="#231f20" stroke-width="0.3" style="fill:#231f20"/>
<path d="M1063 470.8L1129.2 470.8" stroke="#343132" stroke-width="0.8" shape-rendering="crispEdges"/>
<path d="M1090 470.8L1099.2 468L1096.8 470.8L1099.2 473.5Z" stroke="#231f20" stroke-width="0.3" style="fill:#231f20"/>
<path d="M1063 481.5L1110 481.5L1110 917.5L1650 917.5L1650 733.2L1756 733.2" stroke="#343132" stroke-width="0.8" shape-rendering="crispEdges"/>
<path d="M1097.3 479.7L1103 481.5L1097.3 483.3" stroke="#231f20" stroke-width="0.5"/>
<path d="M1063 492L1100.8 492L1100.8 923.8L1658.8 923.8L1658.8 740.5L1756 740.5" stroke="#231f20" stroke-width="1.6"/>
<path d="M1063 460L1156.2 460L1156.2 471.2L1357.5 471.2L1357.5 567.5L1503 567.5L1503 499.5L1756 499.5" stroke="#231f20" stroke-width="1.6"/>
<path d="M1119.5 513L1118.2 513.6L1120.8 514.8L1118.2 516L1120.8 517.2L1118.2 518.4L1119.5 519" stroke="#343132" stroke-width="0.6"/>
<path d="M1129.2 553L1128 553.6L1130.5 554.8L1128 556L1130.5 557.2L1128 558.4L1129.2 559" stroke="#343132" stroke-width="0.6"/>
<text x="1100" y="526" font-size="5.8" transform="rotate(-90 1100 526)">MPUGND</text>
<text x="1116" y="523" font-size="5.8" transform="rotate(-90 1116 523)">R6691</text>
<text x="1126.6" y="527.5" font-size="5.8" transform="rotate(-90 1126.6 527.5)">390(1/2W)</text>
<text x="1127" y="562.5" font-size="5.8" transform="rotate(-90 1127 562.5)">R6692</text>
<text x="1138.3" y="567" font-size="5.8" transform="rotate(-90 1138.3 567)">390(1/2W)</text>
<rect x="1052.5" y="693.8" width="10.5" height="75.5" fill="#fff" stroke="#343132" stroke-width="0.8" rx="4.5"/>
<circle cx="1058" cy="699.2" r="2.4" fill="#fff" stroke="#231f20" stroke-width="0.8"/>
<circle cx="1058" cy="710" r="2.4" fill="#fff" stroke="#231f20" stroke-width="0.8"/>
<circle cx="1058" cy="720.8" r="2.4" fill="#fff" stroke="#231f20" stroke-width="0.8"/>
<circle cx="1058" cy="731.5" r="2.4" fill="#fff" stroke="#231f20" stroke-width="0.8"/>
<circle cx="1058" cy="742.2" r="2.4" fill="#fff" stroke="#231f20" stroke-width="0.8"/>
<circle cx="1058" cy="753" r="2.4" fill="#fff" stroke="#231f20" stroke-width="0.8"/>
<circle cx="1058" cy="763.8" r="2.4" fill="#fff" stroke="#231f20" stroke-width="0.8"/>
<text x="1065" y="697.6" font-size="6">1 SPSBL</text>
<text x="1065" y="708.4" font-size="6">2 SPSL</text>
<text x="1065" y="719.1" font-size="6">3 SPL</text>
<text x="1065" y="729.9" font-size="6">4 SPC</text>
<text x="1065" y="740.6" font-size="6">5 SPR</text>
<text x="1065" y="751.4" font-size="6">6 SPSR</text>
<text x="1065" y="762.1" font-size="6">7 SPSBR</text>
<text x="1067.5" y="687.5" font-size="5.8" transform="rotate(-90 1067.5 687.5)">JL6600B</text>
<path d="M1063 731.5L1140 731.5" stroke="#343132" stroke-width="0.8" shape-rendering="crispEdges"/>
<text x="1016.7" y="760.7" font-size="7.1" transform="rotate(-90 1016.7 760.7)" textLength="54.1" lengthAdjust="spacingAndGlyphs">AMPLIFIER PCB</text>
<text x="1031.8" y="787.4" font-size="12.5" transform="rotate(-90 1031.8 787.4)" textLength="108.5" lengthAdjust="spacingAndGlyphs">To NAAF-9419(2/2)</text>
<text x="1044.8" y="760.7" font-size="12.5" transform="rotate(-90 1044.8 760.7)" textLength="54.1" lengthAdjust="spacingAndGlyphs">SD-2 : E5</text>
<path d="M1257.5 388.8L1257.5 602.5" stroke="#343132" stroke-width="0.8" shape-rendering="crispEdges"/>
<path d="M1257.5 602.5L1268.2 602.5" stroke="#343132" stroke-width="0.8" shape-rendering="crispEdges"/>
<path d="M1318.8 396.2L1318.8 874.5" stroke="#343132" stroke-width="0.8" shape-rendering="crispEdges"/>
<path d="M1257.5 406.2L1318.8 406.2" stroke="#343132" stroke-width="0.8" shape-rendering="crispEdges"/>
<rect x="1293" y="404.9" width="2.6" height="2.8" fill="#fff" stroke="none" stroke-width="0.7" shape-rendering="crispEdges"/>
<path d="M1293 403.8L1293 408.8" stroke="#343132" stroke-width="0.7" shape-rendering="crispEdges"/>
<path d="M1295.5 403.8L1295.5 408.8" stroke="#343132" stroke-width="0.7" shape-rendering="crispEdges"/>
<circle cx="1257.5" cy="406.2" r="1.6" fill="#231f20"/>
<circle cx="1318.8" cy="406.2" r="1.6" fill="#231f20"/>
<text x="1294.2" y="403.6" font-size="6" text-anchor="middle">C6602</text>
<text x="1294.2" y="412.1" font-size="6" text-anchor="middle">103J</text>
<text x="1294.2" y="418.1" font-size="6" text-anchor="middle">RL6602</text>
<path d="M1257.5 427.8L1287 427.8" stroke="#343132" stroke-width="0.8" shape-rendering="crispEdges"/>
<path d="M1300 427.8L1318.8 427.8" stroke="#343132" stroke-width="0.8" shape-rendering="crispEdges"/>
<path d="M1287 427.8A2.2 2.2 0 0 1 1291.3 427.8A2.2 2.2 0 0 1 1295.7 427.8A2.2 2.2 0 0 1 1300 427.8" stroke="#231f20" stroke-width="0.7"/>
<circle cx="1318.8" cy="427.8" r="1.6" fill="#231f20"/>
<rect x="1283" y="420.2" width="21.5" height="43.7" fill="none" stroke="#343132" stroke-width="0.9" stroke-dasharray="5 3" shape-rendering="crispEdges"/>
<circle cx="1286.2" cy="442" r="1.7" fill="#fff" stroke="#231f20" stroke-width="0.7"/>
<circle cx="1300" cy="442" r="1.7" fill="#fff" stroke="#231f20" stroke-width="0.7"/>
<path d="M1287.5 440.8L1298.5 439.2" stroke="#231f20" stroke-width="0.8"/>
<path d="M1283 439.5L1283 444.5" stroke="#343132" stroke-width="0.8" shape-rendering="crispEdges"/>
<path d="M1304.5 436L1304.5 441" stroke="#343132" stroke-width="0.8" shape-rendering="crispEdges"/>
<circle cx="1286.2" cy="456.2" r="1.7" fill="#fff" stroke="#231f20" stroke-width="0.7"/>
<circle cx="1300" cy="456.2" r="1.7" fill="#fff" stroke="#231f20" stroke-width="0.7"/>
<path d="M1287.5 455L1298.5 453.4" stroke="#231f20" stroke-width="0.8"/>
<path d="M1283 453.7L1283 458.7" stroke="#343132" stroke-width="0.8" shape-rendering="crispEdges"/>
<path d="M1304.5 450.2L1304.5 455.2" stroke="#343132" stroke-width="0.8" shape-rendering="crispEdges"/>
<circle cx="1257.5" cy="428" r="1.6" fill="#231f20"/>
<path d="M1242 442L1286 442" stroke="#343132" stroke-width="0.8" shape-rendering="crispEdges"/>
<circle cx="1268.2" cy="442" r="2.1" fill="#231f20"/>
<path d="M1268.2 442L1268.2 456.2L1286 456.2" stroke="#343132" stroke-width="0.8" shape-rendering="crispEdges"/>
<path d="M1301.5 442L1336.2 442L1336.2 413.8L1477.5 413.8L1477.5 462.5L1440.5 462.5" stroke="#343132" stroke-width="0.8" shape-rendering="crispEdges"/>
<path d="M1301.5 456.2L1336.2 456.2L1336.2 442" stroke="#343132" stroke-width="0.8" shape-rendering="crispEdges"/>
<circle cx="1336.2" cy="442" r="2.1" fill="#231f20"/>
<path d="M1360 413.8L1351.4 411.2L1353.6 413.8L1351.4 416.3Z" stroke="#231f20" stroke-width="0.3" style="fill:#231f20"/>
<path d="M1268.2 513.8L1318.8 513.8" stroke="#343132" stroke-width="0.8" shape-rendering="crispEdges"/>
<path d="M1290.7 511.5L1295.2 513.8L1290.7 516Z" stroke="#231f20" stroke-width="0.3" style="fill:#231f20"/>
<path d="M1295.5 511.2L1295.5 516.3" stroke="#231f20" stroke-width="0.9" shape-rendering="crispEdges"/>
<text x="1294.2" y="510" font-size="6" text-anchor="middle">D6600</text>
<circle cx="1268.2" cy="513.8" r="1.6" fill="#231f20"/>
<circle cx="1318.8" cy="513.8" r="1.6" fill="#231f20"/>
<path d="M1268.2 528L1318.8 528" stroke="#343132" stroke-width="0.8" shape-rendering="crispEdges"/>
<rect x="1293" y="526.6" width="2.6" height="2.8" fill="#fff" stroke="none" stroke-width="0.7" shape-rendering="crispEdges"/>
<path d="M1293 525.5L1293 530.5" stroke="#343132" stroke-width="0.7" shape-rendering="crispEdges"/>
<path d="M1295.5 525.5L1295.5 530.5" stroke="#343132" stroke-width="0.7" shape-rendering="crispEdges"/>
<circle cx="1268.2" cy="528" r="1.6" fill="#231f20"/>
<circle cx="1318.8" cy="528" r="1.6" fill="#231f20"/>
<text x="1294.2" y="525.3" font-size="6" text-anchor="middle">C6600</text>
<text x="1294.2" y="533.8" font-size="6" text-anchor="middle">103J</text>
<text x="1294.2" y="539.9" font-size="6" text-anchor="middle">RL6600</text>
<path d="M1268.2 549.5L1287 549.5" stroke="#343132" stroke-width="0.8" shape-rendering="crispEdges"/>
<path d="M1300 549.5L1318.8 549.5" stroke="#343132" stroke-width="0.8" shape-rendering="crispEdges"/>
<path d="M1287 549.5A2.2 2.2 0 0 1 1291.3 549.5A2.2 2.2 0 0 1 1295.7 549.5A2.2 2.2 0 0 1 1300 549.5" stroke="#231f20" stroke-width="0.7"/>
<circle cx="1318.8" cy="549.5" r="1.6" fill="#231f20"/>
<rect x="1283" y="542" width="21.5" height="43.7" fill="none" stroke="#343132" stroke-width="0.9" stroke-dasharray="5 3" shape-rendering="crispEdges"/>
<circle cx="1286.2" cy="563.8" r="1.7" fill="#fff" stroke="#1b7ea8" stroke-width="0.7"/>
<circle cx="1300" cy="563.8" r="1.7" fill="#fff" stroke="#1b7ea8" stroke-width="0.7"/>
<path d="M1287.5 562.5L1298.5 561" stroke="#1b7ea8" stroke-width="0.8"/>
<path d="M1283 561.2L1283 566.2" stroke="#343132" stroke-width="0.8" shape-rendering="crispEdges"/>
<path d="M1304.5 557.8L1304.5 562.8" stroke="#343132" stroke-width="0.8" shape-rendering="crispEdges"/>
<circle cx="1286.2" cy="578" r="1.7" fill="#fff" stroke="#9c2a52" stroke-width="0.7"/>
<circle cx="1300" cy="578" r="1.7" fill="#fff" stroke="#9c2a52" stroke-width="0.7"/>
<path d="M1287.5 576.8L1298.5 575.2" stroke="#9c2a52" stroke-width="0.8"/>
<path d="M1283 575.5L1283 580.5" stroke="#343132" stroke-width="0.8" shape-rendering="crispEdges"/>
<path d="M1304.5 572L1304.5 577" stroke="#343132" stroke-width="0.8" shape-rendering="crispEdges"/>
<path d="M1268.2 495.8L1268.2 549.5" stroke="#343132" stroke-width="0.8" shape-rendering="crispEdges"/>
<path d="M1268.2 495.8L1348.8 495.8L1348.8 403.2L1571.5 403.2L1571.5 411" stroke="#343132" stroke-width="0.8" shape-rendering="crispEdges"/>
<path d="M1352 530.8L1343.4 528.2L1345.6 530.8L1343.4 533.3Z" stroke="#231f20" stroke-width="0.3" style="fill:#231f20"/>
<path d="M1332 577.5L1323.4 574.9L1325.6 577.5L1323.4 580.1Z" stroke="#231f20" stroke-width="0.3" style="fill:#231f20"/>
<path d="M1268.2 624.2L1318.8 624.2" stroke="#343132" stroke-width="0.8" shape-rendering="crispEdges"/>
<path d="M1290.7 622L1295.2 624.2L1290.7 626.5Z" stroke="#231f20" stroke-width="0.3" style="fill:#231f20"/>
<path d="M1295.5 621.7L1295.5 626.8" stroke="#231f20" stroke-width="0.9" shape-rendering="crispEdges"/>
<text x="1294.2" y="620.5" font-size="6" text-anchor="middle">D6603</text>
<circle cx="1268.2" cy="624.2" r="1.6" fill="#231f20"/>
<circle cx="1318.8" cy="624.2" r="1.6" fill="#231f20"/>
<path d="M1268.2 638.5L1318.8 638.5" stroke="#343132" stroke-width="0.8" shape-rendering="crispEdges"/>
<rect x="1293" y="637.1" width="2.6" height="2.8" fill="#fff" stroke="none" stroke-width="0.7" shape-rendering="crispEdges"/>
<path d="M1293 636L1293 641" stroke="#343132" stroke-width="0.7" shape-rendering="crispEdges"/>
<path d="M1295.5 636L1295.5 641" stroke="#343132" stroke-width="0.7" shape-rendering="crispEdges"/>
<circle cx="1268.2" cy="638.5" r="1.6" fill="#231f20"/>
<circle cx="1318.8" cy="638.5" r="1.6" fill="#231f20"/>
<text x="1294.2" y="635.8" font-size="6" text-anchor="middle">C6603</text>
<text x="1294.2" y="644.3" font-size="6" text-anchor="middle">103J</text>
<text x="1294.2" y="650.4" font-size="6" text-anchor="middle">RL6603</text>
<path d="M1268.2 660L1287 660" stroke="#343132" stroke-width="0.8" shape-rendering="crispEdges"/>
<path d="M1300 660L1318.8 660" stroke="#343132" stroke-width="0.8" shape-rendering="crispEdges"/>
<path d="M1287 660A2.2 2.2 0 0 1 1291.3 660A2.2 2.2 0 0 1 1295.7 660A2.2 2.2 0 0 1 1300 660" stroke="#231f20" stroke-width="0.7"/>
<circle cx="1318.8" cy="660" r="1.6" fill="#231f20"/>
<rect x="1283" y="652.5" width="21.5" height="43.7" fill="none" stroke="#343132" stroke-width="0.9" stroke-dasharray="5 3" shape-rendering="crispEdges"/>
<circle cx="1286.2" cy="674.2" r="1.7" fill="#fff" stroke="#231f20" stroke-width="0.7"/>
<circle cx="1300" cy="674.2" r="1.7" fill="#fff" stroke="#231f20" stroke-width="0.7"/>
<path d="M1287.5 673L1298.5 671.5" stroke="#231f20" stroke-width="0.8"/>
<path d="M1283 671.8L1283 676.8" stroke="#343132" stroke-width="0.8" shape-rendering="crispEdges"/>
<path d="M1304.5 668.2L1304.5 673.2" stroke="#343132" stroke-width="0.8" shape-rendering="crispEdges"/>
<circle cx="1286.2" cy="688.5" r="1.7" fill="#fff" stroke="#231f20" stroke-width="0.7"/>
<circle cx="1300" cy="688.5" r="1.7" fill="#fff" stroke="#231f20" stroke-width="0.7"/>
<path d="M1287.5 687.2L1298.5 685.7" stroke="#231f20" stroke-width="0.8"/>
<path d="M1283 686L1283 691" stroke="#343132" stroke-width="0.8" shape-rendering="crispEdges"/>
<path d="M1304.5 682.5L1304.5 687.5" stroke="#343132" stroke-width="0.8" shape-rendering="crispEdges"/>
<path d="M1268.2 602.5L1268.2 660" stroke="#343132" stroke-width="0.8" shape-rendering="crispEdges"/>
<path d="M1242 674.2L1286 674.2" stroke="#343132" stroke-width="0.8" shape-rendering="crispEdges"/>
<path d="M1301.5 674.2L1342.5 674.2L1342.5 663.3L1405.5 663.3" stroke="#343132" stroke-width="0.8" shape-rendering="crispEdges"/>
<path d="M1334 674.2L1325.4 671.7L1327.6 674.2L1325.4 676.8Z" stroke="#231f20" stroke-width="0.3" style="fill:#231f20"/>
<path d="M1301.5 688.5L1348.8 688.5L1348.8 585.8L1476.7 585.8L1476.7 663.3" stroke="#343132" stroke-width="0.8" shape-rendering="crispEdges"/>
<path d="M1334 688.5L1325.4 685.9L1327.6 688.5L1325.4 691Z" stroke="#231f20" stroke-width="0.3" style="fill:#231f20"/>
<path d="M1268.2 738.8L1318.8 738.8" stroke="#343132" stroke-width="0.8" shape-rendering="crispEdges"/>
<path d="M1290.7 736.5L1295.2 738.8L1290.7 741Z" stroke="#231f20" stroke-width="0.3" style="fill:#231f20"/>
<path d="M1295.5 736.2L1295.5 741.3" stroke="#231f20" stroke-width="0.9" shape-rendering="crispEdges"/>
<text x="1294.2" y="735" font-size="6" text-anchor="middle">D6605</text>
<circle cx="1268.2" cy="738.8" r="1.6" fill="#231f20"/>
<circle cx="1318.8" cy="738.8" r="1.6" fill="#231f20"/>
<path d="M1268.2 753L1318.8 753" stroke="#343132" stroke-width="0.8" shape-rendering="crispEdges"/>
<rect x="1293" y="751.6" width="2.6" height="2.8" fill="#fff" stroke="none" stroke-width="0.7" shape-rendering="crispEdges"/>
<path d="M1293 750.5L1293 755.5" stroke="#343132" stroke-width="0.7" shape-rendering="crispEdges"/>
<path d="M1295.5 750.5L1295.5 755.5" stroke="#343132" stroke-width="0.7" shape-rendering="crispEdges"/>
<circle cx="1268.2" cy="753" r="1.6" fill="#231f20"/>
<circle cx="1318.8" cy="753" r="1.6" fill="#231f20"/>
<text x="1294.2" y="750.3" font-size="6" text-anchor="middle">C6605</text>
<text x="1294.2" y="758.8" font-size="6" text-anchor="middle">103J</text>
<text x="1294.2" y="764.9" font-size="6" text-anchor="middle">RL6605</text>
<path d="M1268.2 774.5L1287 774.5" stroke="#343132" stroke-width="0.8" shape-rendering="crispEdges"/>
<path d="M1300 774.5L1318.8 774.5" stroke="#343132" stroke-width="0.8" shape-rendering="crispEdges"/>
<path d="M1287 774.5A2.2 2.2 0 0 1 1291.3 774.5A2.2 2.2 0 0 1 1295.7 774.5A2.2 2.2 0 0 1 1300 774.5" stroke="#231f20" stroke-width="0.7"/>
<circle cx="1318.8" cy="774.5" r="1.6" fill="#231f20"/>
<rect x="1283" y="767" width="21.5" height="43.7" fill="none" stroke="#343132" stroke-width="0.9" stroke-dasharray="5 3" shape-rendering="crispEdges"/>
<circle cx="1286.2" cy="788.8" r="1.7" fill="#fff" stroke="#231f20" stroke-width="0.7"/>
<circle cx="1300" cy="788.8" r="1.7" fill="#fff" stroke="#231f20" stroke-width="0.7"/>
<path d="M1287.5 787.5L1298.5 786" stroke="#231f20" stroke-width="0.8"/>
<path d="M1283 786.2L1283 791.2" stroke="#343132" stroke-width="0.8" shape-rendering="crispEdges"/>
<path d="M1304.5 782.8L1304.5 787.8" stroke="#343132" stroke-width="0.8" shape-rendering="crispEdges"/>
<circle cx="1286.2" cy="803" r="1.7" fill="#fff" stroke="#231f20" stroke-width="0.7"/>
<circle cx="1300" cy="803" r="1.7" fill="#fff" stroke="#231f20" stroke-width="0.7"/>
<path d="M1287.5 801.8L1298.5 800.2" stroke="#231f20" stroke-width="0.8"/>
<path d="M1283 800.5L1283 805.5" stroke="#343132" stroke-width="0.8" shape-rendering="crispEdges"/>
<path d="M1304.5 797L1304.5 802" stroke="#343132" stroke-width="0.8" shape-rendering="crispEdges"/>
<circle cx="1268.2" cy="774.5" r="1.6" fill="#231f20"/>
<path d="M1268.2 738.8L1268.2 817.5L1533.4 817.5L1533.4 548.5" stroke="#343132" stroke-width="0.8" shape-rendering="crispEdges"/>
<path d="M1301.5 788.8L1340 788.8L1340 756.2L1405.5 756.2" stroke="#343132" stroke-width="0.8" shape-rendering="crispEdges"/>
<path d="M1336 788.8L1327.4 786.2L1329.6 788.8L1327.4 791.3Z" stroke="#231f20" stroke-width="0.3" style="fill:#231f20"/>
<path d="M1301.5 803L1481.8 803L1481.8 756.2L1445.5 756.2" stroke="#343132" stroke-width="0.8" shape-rendering="crispEdges"/>
<path d="M1336 803L1327.4 800.4L1329.6 803L1327.4 805.5Z" stroke="#231f20" stroke-width="0.3" style="fill:#231f20"/>
<path d="M1268.2 838.8L1318.8 838.8" stroke="#343132" stroke-width="0.8" shape-rendering="crispEdges"/>
<path d="M1290.7 836.5L1295.2 838.8L1290.7 841Z" stroke="#231f20" stroke-width="0.3" style="fill:#231f20"/>
<path d="M1295.5 836.2L1295.5 841.3" stroke="#231f20" stroke-width="0.9" shape-rendering="crispEdges"/>
<text x="1294.2" y="835" font-size="6" text-anchor="middle">D6607</text>
<circle cx="1268.2" cy="838.8" r="1.6" fill="#231f20"/>
<circle cx="1318.8" cy="838.8" r="1.6" fill="#231f20"/>
<path d="M1268.2 853L1318.8 853" stroke="#343132" stroke-width="0.8" shape-rendering="crispEdges"/>
<rect x="1293" y="851.6" width="2.6" height="2.8" fill="#e5f4fd" stroke="none" stroke-width="0.7" shape-rendering="crispEdges"/>
<path d="M1293 850.5L1293 855.5" stroke="#343132" stroke-width="0.7" shape-rendering="crispEdges"/>
<path d="M1295.5 850.5L1295.5 855.5" stroke="#343132" stroke-width="0.7" shape-rendering="crispEdges"/>
<circle cx="1268.2" cy="853" r="1.6" fill="#231f20"/>
<circle cx="1318.8" cy="853" r="1.6" fill="#231f20"/>
<text x="1294.2" y="850.3" font-size="6" text-anchor="middle">C6607</text>
<text x="1294.2" y="858.8" font-size="6" text-anchor="middle">103J</text>
<text x="1294.2" y="864.9" font-size="6" text-anchor="middle">RL6607</text>
<path d="M1268.2 874.5L1287 874.5" stroke="#343132" stroke-width="0.8" shape-rendering="crispEdges"/>
<path d="M1300 874.5L1318.8 874.5" stroke="#343132" stroke-width="0.8" shape-rendering="crispEdges"/>
<path d="M1287 874.5A2.2 2.2 0 0 1 1291.3 874.5A2.2 2.2 0 0 1 1295.7 874.5A2.2 2.2 0 0 1 1300 874.5" stroke="#231f20" stroke-width="0.7"/>
<circle cx="1318.8" cy="874.5" r="1.6" fill="#231f20"/>
<rect x="1283" y="867" width="21.5" height="43.7" fill="none" stroke="#343132" stroke-width="0.9" stroke-dasharray="5 3" shape-rendering="crispEdges"/>
<circle cx="1286.2" cy="888.8" r="1.7" fill="#e5f4fd" stroke="#231f20" stroke-width="0.7"/>
<circle cx="1300" cy="888.8" r="1.7" fill="#e5f4fd" stroke="#231f20" stroke-width="0.7"/>
<path d="M1287.5 887.5L1298.5 886" stroke="#231f20" stroke-width="0.8"/>
<path d="M1283 886.2L1283 891.2" stroke="#343132" stroke-width="0.8" shape-rendering="crispEdges"/>
<path d="M1304.5 882.8L1304.5 887.8" stroke="#343132" stroke-width="0.8" shape-rendering="crispEdges"/>
<circle cx="1286.2" cy="903" r="1.7" fill="#e5f4fd" stroke="#231f20" stroke-width="0.7"/>
<circle cx="1300" cy="903" r="1.7" fill="#e5f4fd" stroke="#231f20" stroke-width="0.7"/>
<path d="M1287.5 901.8L1298.5 900.2" stroke="#231f20" stroke-width="0.8"/>
<path d="M1283 900.5L1283 905.5" stroke="#343132" stroke-width="0.8" shape-rendering="crispEdges"/>
<path d="M1304.5 897L1304.5 902" stroke="#343132" stroke-width="0.8" shape-rendering="crispEdges"/>
<path d="M1268.2 874.5L1268.2 824.2L1561.4 824.2L1561.4 584.3" stroke="#343132" stroke-width="0.8" shape-rendering="crispEdges"/>
<path d="M1301.5 888.8L1431 888.8L1431 849.2L1578.2 849.2L1578.2 653.2L1692 653.2L1692 581.5L1756 581.5" stroke="#343132" stroke-width="0.8" shape-rendering="crispEdges"/>
<path d="M1456 849.2L1447.4 846.6L1449.6 849.2L1447.4 851.8Z" stroke="#231f20" stroke-width="0.3" style="fill:#231f20"/>
<path d="M1301.5 903L1416.8 903L1416.8 838.4L1554.6 838.4L1554.6 631.2L1717.5 631.2L1717.5 592.5L1756 592.5" stroke="#343132" stroke-width="0.8" shape-rendering="crispEdges"/>
<path d="M1456 838.4L1447.4 835.8L1449.6 838.4L1447.4 841Z" stroke="#231f20" stroke-width="0.3" style="fill:#231f20"/>
<path d="M1706 581.5L1697.4 578.9L1699.6 581.5L1697.4 584.1Z" stroke="#231f20" stroke-width="0.3" style="fill:#231f20"/>
<path d="M1707 631.2L1698.4 628.7L1700.6 631.2L1698.4 633.8Z" stroke="#231f20" stroke-width="0.3" style="fill:#231f20"/>
<text x="1324.5" y="836.2" font-size="7" font-weight="bold">LIST</text>
<circle cx="1331.8" cy="847" r="7.5" fill="none" stroke="#231f20" stroke-width="0.7"/>
<text x="1331.8" y="851.2" font-size="11.5" font-weight="bold" text-anchor="middle">B</text>
<rect x="1365.8" y="425" width="89.2" height="48.2" fill="none" stroke="#343132" stroke-width="0.9" stroke-dasharray="3.6 2.4" shape-rendering="crispEdges"/>
<text x="1370.5" y="432.5" font-size="6">P6601</text>
<text x="1396.8" y="450" font-size="8.9" font-weight="bold" text-anchor="middle">CENTER</text>
<text x="1396.8" y="459.5" font-size="8.9" font-weight="bold" text-anchor="middle">SPEAKER</text>
<path d="M1440.5 437L1511.8 437L1511.8 488.8L1756 488.8" stroke="#231f20" stroke-width="1.6"/>
<path d="M1415 426L1415 419.5L1492 419.5L1492 437" stroke="#343132" stroke-width="0.8" shape-rendering="crispEdges"/>
<path d="M1410.5 426L1418 426" stroke="#343132" stroke-width="0.7" shape-rendering="crispEdges"/>
<path d="M1410.5 430L1412.5 426" stroke="#343132" stroke-width="0.5"/>
<path d="M1412.7 430L1414.7 426" stroke="#343132" stroke-width="0.5"/>
<path d="M1414.9 430L1416.9 426" stroke="#343132" stroke-width="0.5"/>
<path d="M1417.1 430L1419.1 426" stroke="#343132" stroke-width="0.5"/>
<rect x="1490.6" y="425.7" width="2.8" height="2.6" fill="#fff" stroke="none" stroke-width="0.7" shape-rendering="crispEdges"/>
<path d="M1489 425.7L1495 425.7" stroke="#343132" stroke-width="0.7" shape-rendering="crispEdges"/>
<path d="M1489 428.3L1495 428.3" stroke="#343132" stroke-width="0.7" shape-rendering="crispEdges"/>
<path d="M1466.2 437L1466.2 462.5" stroke="#343132" stroke-width="0.8" shape-rendering="crispEdges"/>
<rect x="1464.8" y="448.7" width="2.8" height="2.6" fill="#fff" stroke="none" stroke-width="0.7" shape-rendering="crispEdges"/>
<path d="M1463.2 448.7L1469.2 448.7" stroke="#343132" stroke-width="0.7" shape-rendering="crispEdges"/>
<path d="M1463.2 451.3L1469.2 451.3" stroke="#343132" stroke-width="0.7" shape-rendering="crispEdges"/>
<circle cx="1466.2" cy="437" r="2.1" fill="#231f20"/>
<circle cx="1492" cy="437" r="2.1" fill="#231f20"/>
<circle cx="1466.2" cy="462.5" r="2.1" fill="#231f20"/>
<circle cx="1432.5" cy="437" r="8" fill="#fff" stroke="#231f20" stroke-width="0.9"/>
<path d="M1432.5 431L1432.5 443" stroke="#231f20" stroke-width="1.6"/>
<circle cx="1432.5" cy="462.5" r="8" fill="#fff" stroke="#231f20" stroke-width="0.9"/>
<path d="M1432.5 456.5L1432.5 468.5" stroke="#231f20" stroke-width="1.6"/>
<path d="M1426.5 462.5L1438.5 462.5" stroke="#231f20" stroke-width="1.6"/>
<text x="1500" y="433.8" font-size="6" transform="rotate(-90 1500 433.8)">C6652</text>
<text x="1506.8" y="432" font-size="6" transform="rotate(-90 1506.8 432)">102J</text>
<text x="1462" y="458.8" font-size="6" transform="rotate(-90 1462 458.8)">C6642</text>
<text x="1475" y="456" font-size="6" transform="rotate(-90 1475 456)">103J</text>
<path d="M1365.8 476.2L1455 476.2L1455 548.2L1392 548.2L1392 501.2L1365.8 501.2Z" stroke="#343132" stroke-width="0.9" stroke-dasharray="3.6 2.4" shape-rendering="crispEdges"/>
<text x="1397.5" y="485.5" font-size="8.9" font-weight="bold" text-anchor="middle">FRONT</text>
<text x="1397.5" y="495" font-size="8.9" font-weight="bold" text-anchor="middle">SPEAKERS</text>
<text x="1400.8" y="520" font-size="8.9" font-weight="bold" text-anchor="middle">L</text>
<text x="1441.8" y="520" font-size="8.9" font-weight="bold" text-anchor="middle">R</text>
<text x="1394.5" y="545.5" font-size="6">P6602</text>
<path d="M1357.5 505.8L1400.8 505.8" stroke="#231f20" stroke-width="1.6"/>
<path d="M1440.5 505.8L1492 505.8L1492 477.5" stroke="#231f20" stroke-width="1.6"/>
<path d="M1492 478L1756 478" stroke="#231f20" stroke-width="1.6"/>
<path d="M1492 478L1492.5 505.8" stroke="#231f20" stroke-width="1.6"/>
<path d="M1379.5 505.8L1379.5 530.8" stroke="#343132" stroke-width="0.8" shape-rendering="crispEdges"/>
<rect x="1378.1" y="516.7" width="2.8" height="2.6" fill="#fff" stroke="none" stroke-width="0.7" shape-rendering="crispEdges"/>
<path d="M1376.5 516.7L1382.5 516.7" stroke="#343132" stroke-width="0.7" shape-rendering="crispEdges"/>
<path d="M1376.5 519.3L1382.5 519.3" stroke="#343132" stroke-width="0.7" shape-rendering="crispEdges"/>
<path d="M1470 505.8L1470 530.8" stroke="#343132" stroke-width="0.8" shape-rendering="crispEdges"/>
<rect x="1468.6" y="516.2" width="2.8" height="2.6" fill="#fff" stroke="none" stroke-width="0.7" shape-rendering="crispEdges"/>
<path d="M1467 516.2L1473 516.2" stroke="#343132" stroke-width="0.7" shape-rendering="crispEdges"/>
<path d="M1467 518.8L1473 518.8" stroke="#343132" stroke-width="0.7" shape-rendering="crispEdges"/>
<path d="M1492 505.8L1492 556.2L1357.5 556.2" stroke="#343132" stroke-width="0.8" shape-rendering="crispEdges"/>
<rect x="1490.6" y="516.2" width="2.8" height="2.6" fill="#fff" stroke="none" stroke-width="0.7" shape-rendering="crispEdges"/>
<path d="M1489 516.2L1495 516.2" stroke="#343132" stroke-width="0.7" shape-rendering="crispEdges"/>
<path d="M1489 518.8L1495 518.8" stroke="#343132" stroke-width="0.7" shape-rendering="crispEdges"/>
<rect x="1380.7" y="554.9" width="2.6" height="2.8" fill="#fff" stroke="none" stroke-width="0.7" shape-rendering="crispEdges"/>
<path d="M1380.7 553.2L1380.7 559.2" stroke="#343132" stroke-width="0.7" shape-rendering="crispEdges"/>
<path d="M1383.3 553.2L1383.3 559.2" stroke="#343132" stroke-width="0.7" shape-rendering="crispEdges"/>
<path d="M1447.5 556.2L1447.5 547.5" stroke="#343132" stroke-width="0.8" shape-rendering="crispEdges"/>
<path d="M1443.5 543.5L1451 543.5" stroke="#343132" stroke-width="0.7" shape-rendering="crispEdges"/>
<path d="M1443.5 547.5L1445.5 543.5" stroke="#343132" stroke-width="0.5"/>
<path d="M1445.7 547.5L1447.7 543.5" stroke="#343132" stroke-width="0.5"/>
<path d="M1447.9 547.5L1449.9 543.5" stroke="#343132" stroke-width="0.5"/>
<path d="M1450.1 547.5L1452.1 543.5" stroke="#343132" stroke-width="0.5"/>
<circle cx="1357.5" cy="505.8" r="2.1" fill="#231f20"/>
<circle cx="1379.5" cy="505.8" r="2.1" fill="#231f20"/>
<circle cx="1379.5" cy="530.8" r="2.1" fill="#231f20"/>
<circle cx="1470" cy="505.8" r="2.1" fill="#231f20"/>
<circle cx="1470" cy="530.8" r="2.1" fill="#231f20"/>
<circle cx="1492" cy="505.8" r="2.1" fill="#231f20"/>
<circle cx="1357.5" cy="556.2" r="2.1" fill="#231f20"/>
<circle cx="1447.5" cy="556.2" r="2.1" fill="#231f20"/>
<circle cx="1408.8" cy="505.8" r="8" fill="#fff" stroke="#231f20" stroke-width="0.9"/>
<path d="M1408.8 499.8L1408.8 511.8" stroke="#231f20" stroke-width="1.6"/>
<circle cx="1408.8" cy="530.8" r="8" fill="#fff" stroke="#231f20" stroke-width="0.9"/>
<path d="M1408.8 524.8L1408.8 536.8" stroke="#231f20" stroke-width="1.6"/>
<path d="M1402.8 530.8L1414.8 530.8" stroke="#231f20" stroke-width="1.6"/>
<circle cx="1432.5" cy="505.8" r="8" fill="#fff" stroke="#231f20" stroke-width="0.9"/>
<path d="M1432.5 499.8L1432.5 511.8" stroke="#231f20" stroke-width="1.6"/>
<circle cx="1432.5" cy="530.8" r="8" fill="#fff" stroke="#231f20" stroke-width="0.9"/>
<path d="M1432.5 524.8L1432.5 536.8" stroke="#231f20" stroke-width="1.6"/>
<path d="M1426.5 530.8L1438.5 530.8" stroke="#231f20" stroke-width="1.6"/>
<text x="1374.2" y="527.5" font-size="6" transform="rotate(-90 1374.2 527.5)">C6640</text>
<text x="1388" y="522.5" font-size="6" transform="rotate(-90 1388 522.5)">103J</text>
<text x="1464.2" y="527" font-size="6" transform="rotate(-90 1464.2 527)">C6641</text>
<text x="1478" y="522" font-size="6" transform="rotate(-90 1478 522)">103J</text>
<text x="1485.8" y="527" font-size="6" transform="rotate(-90 1485.8 527)">C6651</text>
<text x="1499.5" y="522" font-size="6" transform="rotate(-90 1499.5 522)">102J</text>
<text x="1371.8" y="550.5" font-size="6">C6650</text>
<text x="1375.8" y="565" font-size="6">102J</text>
<rect x="1378.7" y="617.5" width="80" height="77.5" fill="none" stroke="#343132" stroke-width="0.9" stroke-dasharray="3.6 2.4" shape-rendering="crispEdges"/>
<text x="1382.5" y="624.2" font-size="6">P6603</text>
<text x="1420" y="681.8" font-size="8.9" font-weight="bold" text-anchor="middle">SURROUND</text>
<text x="1420" y="690.8" font-size="8.9" font-weight="bold" text-anchor="middle">SPEAKERS</text>
<text x="1405.5" y="653.8" font-size="8.9" font-weight="bold" text-anchor="middle">L</text>
<text x="1445" y="653.8" font-size="8.9" font-weight="bold" text-anchor="middle">R</text>
<path d="M1405.5 638.3L1360.5 638.3L1360.5 592.5L1511 592.5L1511 510L1756 510" stroke="#231f20" stroke-width="1.6"/>
<path d="M1445.5 638.3L1517.8 638.3L1517.8 467.2L1756 467.2" stroke="#231f20" stroke-width="1.6"/>
<path d="M1360.5 605.8L1495 605.8L1495 663.3L1445.5 663.3" stroke="#343132" stroke-width="0.8" shape-rendering="crispEdges"/>
<rect x="1406.2" y="604.4" width="2.6" height="2.8" fill="#fff" stroke="none" stroke-width="0.7" shape-rendering="crispEdges"/>
<path d="M1406.2 602.8L1406.2 608.8" stroke="#343132" stroke-width="0.7" shape-rendering="crispEdges"/>
<path d="M1408.8 602.8L1408.8 608.8" stroke="#343132" stroke-width="0.7" shape-rendering="crispEdges"/>
<rect x="1493.6" y="621.2" width="2.8" height="2.6" fill="#fff" stroke="none" stroke-width="0.7" shape-rendering="crispEdges"/>
<path d="M1492 621.2L1498 621.2" stroke="#343132" stroke-width="0.7" shape-rendering="crispEdges"/>
<path d="M1492 623.8L1498 623.8" stroke="#343132" stroke-width="0.7" shape-rendering="crispEdges"/>
<rect x="1493.6" y="649.5" width="2.8" height="2.6" fill="#fff" stroke="none" stroke-width="0.7" shape-rendering="crispEdges"/>
<path d="M1492 649.5L1498 649.5" stroke="#343132" stroke-width="0.7" shape-rendering="crispEdges"/>
<path d="M1492 652.1L1498 652.1" stroke="#343132" stroke-width="0.7" shape-rendering="crispEdges"/>
<path d="M1360.5 638.3L1360.5 663.3" stroke="#343132" stroke-width="0.8" shape-rendering="crispEdges"/>
<rect x="1359.1" y="649.5" width="2.8" height="2.6" fill="#fff" stroke="none" stroke-width="0.7" shape-rendering="crispEdges"/>
<path d="M1357.5 649.5L1363.5 649.5" stroke="#343132" stroke-width="0.7" shape-rendering="crispEdges"/>
<path d="M1357.5 652.1L1363.5 652.1" stroke="#343132" stroke-width="0.7" shape-rendering="crispEdges"/>
<path d="M1342.5 663.3L1405.5 663.3" stroke="#343132" stroke-width="0.8" shape-rendering="crispEdges"/>
<path d="M1448.3 605.8L1448.3 623" stroke="#343132" stroke-width="0.8" shape-rendering="crispEdges"/>
<path d="M1444.5 623L1452 623" stroke="#343132" stroke-width="0.7" shape-rendering="crispEdges"/>
<path d="M1444.5 627L1446.5 623" stroke="#343132" stroke-width="0.5"/>
<path d="M1446.7 627L1448.7 623" stroke="#343132" stroke-width="0.5"/>
<path d="M1448.9 627L1450.9 623" stroke="#343132" stroke-width="0.5"/>
<path d="M1451.1 627L1453.1 623" stroke="#343132" stroke-width="0.5"/>
<circle cx="1360.5" cy="605.8" r="2.1" fill="#231f20"/>
<circle cx="1448.3" cy="605.8" r="2.1" fill="#231f20"/>
<circle cx="1360.5" cy="638.3" r="2.1" fill="#231f20"/>
<circle cx="1360.5" cy="663.3" r="2.1" fill="#231f20"/>
<circle cx="1495" cy="638.3" r="2.1" fill="#231f20"/>
<circle cx="1476.7" cy="663.3" r="2.1" fill="#231f20"/>
<circle cx="1413.3" cy="638.3" r="8" fill="#fff" stroke="#231f20" stroke-width="0.9"/>
<path d="M1413.3 632.3L1413.3 644.3" stroke="#231f20" stroke-width="1.6"/>
<circle cx="1413.3" cy="663.3" r="8" fill="#fff" stroke="#231f20" stroke-width="0.9"/>
<path d="M1413.3 657.3L1413.3 669.3" stroke="#231f20" stroke-width="1.6"/>
<path d="M1407.3 663.3L1419.3 663.3" stroke="#231f20" stroke-width="1.6"/>
<circle cx="1437.5" cy="638.3" r="8" fill="#fff" stroke="#231f20" stroke-width="0.9"/>
<path d="M1437.5 632.3L1437.5 644.3" stroke="#231f20" stroke-width="1.6"/>
<circle cx="1437.5" cy="663.3" r="8" fill="#fff" stroke="#231f20" stroke-width="0.9"/>
<path d="M1437.5 657.3L1437.5 669.3" stroke="#231f20" stroke-width="1.6"/>
<path d="M1431.5 663.3L1443.5 663.3" stroke="#231f20" stroke-width="1.6"/>
<text x="1407.5" y="600.5" font-size="6" text-anchor="middle">C6653</text>
<text x="1408" y="615" font-size="6" text-anchor="middle">102J</text>
<text x="1355.5" y="661" font-size="6" transform="rotate(-90 1355.5 661)">C6643</text>
<text x="1368.8" y="657" font-size="6" transform="rotate(-90 1368.8 657)">103J</text>
<text x="1489.5" y="631" font-size="6" transform="rotate(-90 1489.5 631)">C6654</text>
<text x="1503.8" y="627" font-size="6" transform="rotate(-90 1503.8 627)">102J</text>
<text x="1489.5" y="660" font-size="6" transform="rotate(-90 1489.5 660)">C6644</text>
<text x="1503.8" y="656" font-size="6" transform="rotate(-90 1503.8 656)">103J</text>
<text x="1425" y="710" font-size="8.9" font-weight="bold" text-anchor="middle">SURROUND</text>
<text x="1425" y="719.5" font-size="8.9" font-weight="bold" text-anchor="middle">BACK SPEAKERS</text>
<circle cx="1482.5" cy="711.8" r="7.6" fill="none" stroke="#231f20" stroke-width="0.7"/>
<text x="1482.5" y="716" font-size="11.5" font-weight="bold" text-anchor="middle">A</text>
<text x="1491.2" y="708" font-size="6.5" font-weight="bold">LIST</text>
<text x="1405.5" y="746.2" font-size="8.9" font-weight="bold" text-anchor="middle">L</text>
<text x="1445" y="746.2" font-size="8.9" font-weight="bold" text-anchor="middle">R</text>
<text x="1383.2" y="772.5" font-size="6">P6604</text>
<path d="M1405.5 731.2L1352 731.2L1352 798L1544.6 798L1544.6 620.2L1670.8 620.2L1670.8 521L1756 521" stroke="#231f20" stroke-width="1.6"/>
<path d="M1445.5 731.2L1569.8 731.2L1569.8 642.5L1680.8 642.5L1680.8 456.5L1756 456.5" stroke="#231f20" stroke-width="1.6"/>
<path d="M1670.8 570.8L1756 570.8" stroke="#231f20" stroke-width="1.6"/>
<path d="M1680.8 560L1744.5 560L1744.5 549.2L1756 549.2" stroke="#231f20" stroke-width="1.6"/>
<path d="M1744.5 560L1756 560" stroke="#231f20" stroke-width="1.6"/>
<circle cx="1670.8" cy="570.8" r="2.1" fill="#231f20"/>
<circle cx="1680.8" cy="560" r="2.1" fill="#231f20"/>
<path d="M1364.3 731.2L1364.3 756.2" stroke="#343132" stroke-width="0.8" shape-rendering="crispEdges"/>
<rect x="1362.9" y="742.4" width="2.8" height="2.6" fill="#fff" stroke="none" stroke-width="0.7" shape-rendering="crispEdges"/>
<path d="M1361.3 742.4L1367.3 742.4" stroke="#343132" stroke-width="0.7" shape-rendering="crispEdges"/>
<path d="M1361.3 745L1367.3 745" stroke="#343132" stroke-width="0.7" shape-rendering="crispEdges"/>
<path d="M1340 756.2L1405.5 756.2" stroke="#343132" stroke-width="0.8" shape-rendering="crispEdges"/>
<path d="M1471.8 731.2L1471.8 756.2" stroke="#343132" stroke-width="0.8" shape-rendering="crispEdges"/>
<rect x="1470.3" y="742.4" width="2.8" height="2.6" fill="#fff" stroke="none" stroke-width="0.7" shape-rendering="crispEdges"/>
<path d="M1468.8 742.4L1474.8 742.4" stroke="#343132" stroke-width="0.7" shape-rendering="crispEdges"/>
<path d="M1468.8 745L1474.8 745" stroke="#343132" stroke-width="0.7" shape-rendering="crispEdges"/>
<path d="M1495.8 731.2L1495.8 787L1352 787" stroke="#343132" stroke-width="0.8" shape-rendering="crispEdges"/>
<rect x="1494.3" y="742.4" width="2.8" height="2.6" fill="#fff" stroke="none" stroke-width="0.7" shape-rendering="crispEdges"/>
<path d="M1492.8 742.4L1498.8 742.4" stroke="#343132" stroke-width="0.7" shape-rendering="crispEdges"/>
<path d="M1492.8 745L1498.8 745" stroke="#343132" stroke-width="0.7" shape-rendering="crispEdges"/>
<rect x="1388.7" y="785.6" width="2.6" height="2.8" fill="#fff" stroke="none" stroke-width="0.7" shape-rendering="crispEdges"/>
<path d="M1388.7 784L1388.7 790" stroke="#343132" stroke-width="0.7" shape-rendering="crispEdges"/>
<path d="M1391.3 784L1391.3 790" stroke="#343132" stroke-width="0.7" shape-rendering="crispEdges"/>
<path d="M1448.8 787L1448.8 771" stroke="#343132" stroke-width="0.8" shape-rendering="crispEdges"/>
<path d="M1445 767L1452.5 767" stroke="#343132" stroke-width="0.7" shape-rendering="crispEdges"/>
<path d="M1445 771L1447 767" stroke="#343132" stroke-width="0.5"/>
<path d="M1447.2 771L1449.2 767" stroke="#343132" stroke-width="0.5"/>
<path d="M1449.4 771L1451.4 767" stroke="#343132" stroke-width="0.5"/>
<path d="M1451.6 771L1453.6 767" stroke="#343132" stroke-width="0.5"/>
<circle cx="1364.3" cy="731.2" r="2.1" fill="#231f20"/>
<circle cx="1364.3" cy="756.2" r="2.1" fill="#231f20"/>
<circle cx="1471.8" cy="731.2" r="2.1" fill="#231f20"/>
<circle cx="1471.8" cy="756.2" r="2.1" fill="#231f20"/>
<circle cx="1495.8" cy="731.2" r="2.1" fill="#231f20"/>
<circle cx="1352" cy="787" r="2.1" fill="#231f20"/>
<circle cx="1448.8" cy="787" r="2.1" fill="#231f20"/>
<circle cx="1413.3" cy="731.2" r="8" fill="#fff" stroke="#231f20" stroke-width="0.9"/>
<path d="M1413.3 725.2L1413.3 737.2" stroke="#231f20" stroke-width="1.6"/>
<circle cx="1413.3" cy="756.2" r="8" fill="#fff" stroke="#231f20" stroke-width="0.9"/>
<path d="M1413.3 750.2L1413.3 762.2" stroke="#231f20" stroke-width="1.6"/>
<path d="M1407.3 756.2L1419.3 756.2" stroke="#231f20" stroke-width="1.6"/>
<circle cx="1437.5" cy="731.2" r="8" fill="#fff" stroke="#231f20" stroke-width="0.9"/>
<path d="M1437.5 725.2L1437.5 737.2" stroke="#231f20" stroke-width="1.6"/>
<circle cx="1437.5" cy="756.2" r="8" fill="#fff" stroke="#231f20" stroke-width="0.9"/>
<path d="M1437.5 750.2L1437.5 762.2" stroke="#231f20" stroke-width="1.6"/>
<path d="M1431.5 756.2L1443.5 756.2" stroke="#231f20" stroke-width="1.6"/>
<text x="1381.2" y="782" font-size="6">C6655</text>
<text x="1385.8" y="796.2" font-size="6">102J</text>
<text x="1359.5" y="751.8" font-size="6" transform="rotate(-90 1359.5 751.8)">C6645</text>
<text x="1373.2" y="748" font-size="6" transform="rotate(-90 1373.2 748)">103J</text>
<text x="1466.2" y="751.8" font-size="6" transform="rotate(-90 1466.2 751.8)">C6646</text>
<text x="1480" y="748" font-size="6" transform="rotate(-90 1480 748)">103J</text>
<text x="1490" y="751.8" font-size="6" transform="rotate(-90 1490 751.8)">C6656</text>
<text x="1504.2" y="748" font-size="6" transform="rotate(-90 1504.2 748)">102J</text>
<path d="M1257.5 388.8L1533.4 388.8L1533.4 426" stroke="#343132" stroke-width="0.8" shape-rendering="crispEdges"/>
<path d="M1318.8 396.2L1676.2 396.2L1676.2 435L1756 435" stroke="#343132" stroke-width="0.8" shape-rendering="crispEdges"/>
<path d="M1571.5 423L1571.5 445.8" stroke="#343132" stroke-width="0.8" shape-rendering="crispEdges"/>
<path d="M1533.4 437.5L1533.4 445.8" stroke="#343132" stroke-width="0.8" shape-rendering="crispEdges"/>
<path d="M1533.4 445.8L1756 445.8" stroke="#231f20" stroke-width="1.6"/>
<path d="M1533.4 445.8L1533.4 518.8L1562 518.8L1562 571.5" stroke="#231f20" stroke-width="1.6"/>
<path d="M1533.4 518.8L1533.4 536" stroke="#343132" stroke-width="0.8" shape-rendering="crispEdges"/>
<circle cx="1533.4" cy="445.8" r="2.1" fill="#231f20"/>
<circle cx="1571.5" cy="445.8" r="2.1" fill="#231f20"/>
<circle cx="1533.4" cy="518.8" r="2.1" fill="#231f20"/>
<circle cx="1575.5" cy="417" r="7" fill="#fff" stroke="#231f20" stroke-width="0.8"/>
<path d="M1576 413L1576 421" stroke="#343132" stroke-width="1" shape-rendering="crispEdges"/>
<path d="M1576 417L1582.5 417" stroke="#343132" stroke-width="0.8" shape-rendering="crispEdges"/>
<path d="M1571.5 411L1571.5 412.5L1576 415.5" stroke="#343132" stroke-width="0.8"/>
<path d="M1571.5 423L1571.5 421.5L1576 418.5" stroke="#343132" stroke-width="0.8"/>
<circle cx="1537.5" cy="431.8" r="7" fill="#fff" stroke="#231f20" stroke-width="0.8"/>
<path d="M1538 427.8L1538 435.8" stroke="#343132" stroke-width="1" shape-rendering="crispEdges"/>
<path d="M1538 431.8L1544.5 431.8" stroke="#343132" stroke-width="0.8" shape-rendering="crispEdges"/>
<path d="M1533.5 425.8L1533.5 427.2L1538 430.2" stroke="#343132" stroke-width="0.8"/>
<path d="M1533.5 437.8L1533.5 436.2L1538 433.2" stroke="#343132" stroke-width="0.8"/>
<circle cx="1537.5" cy="541.8" r="7" fill="#fff" stroke="#231f20" stroke-width="0.8"/>
<path d="M1538 537.8L1538 545.8" stroke="#343132" stroke-width="1" shape-rendering="crispEdges"/>
<path d="M1538 541.8L1544.5 541.8" stroke="#343132" stroke-width="0.8" shape-rendering="crispEdges"/>
<path d="M1533.5 535.8L1533.5 537.2L1538 540.2" stroke="#343132" stroke-width="0.8"/>
<path d="M1533.5 547.8L1533.5 546.2L1538 543.2" stroke="#343132" stroke-width="0.8"/>
<circle cx="1566.2" cy="577.5" r="7" fill="#e5f4fd" stroke="#231f20" stroke-width="0.8"/>
<path d="M1566.8 573.5L1566.8 581.5" stroke="#343132" stroke-width="1" shape-rendering="crispEdges"/>
<path d="M1566.8 577.5L1573.2 577.5" stroke="#343132" stroke-width="0.8" shape-rendering="crispEdges"/>
<path d="M1562.2 571.5L1562.2 573L1566.8 576" stroke="#343132" stroke-width="0.8"/>
<path d="M1562.2 583.5L1562.2 582L1566.8 579" stroke="#343132" stroke-width="0.8"/>
<path d="M1562 557.4L1560.9 557.9L1563.1 559L1560.9 560L1563.1 561L1560.9 562.1L1562 562.6" stroke="#343132" stroke-width="0.6"/>
<circle cx="1566" cy="558.5" r="0.9" fill="#e5f4fd" stroke="#231f20" stroke-width="0.7"/>
<path d="M1582.5 417L1662 417L1662 705L1756 705" stroke="#343132" stroke-width="0.8" shape-rendering="crispEdges"/>
<path d="M1544.5 431.2L1654.5 431.2L1654.5 712L1756 712" stroke="#343132" stroke-width="0.8" shape-rendering="crispEdges"/>
<path d="M1544.5 542L1647 542L1647 719.2L1756 719.2" stroke="#343132" stroke-width="0.8" shape-rendering="crispEdges"/>
<path d="M1573.2 577.5L1640 577.5L1640 726.2L1756 726.2" stroke="#343132" stroke-width="0.8" shape-rendering="crispEdges"/>
<path d="M1593.7 415.2L1588 417L1593.7 418.8" stroke="#231f20" stroke-width="0.5"/>
<path d="M1593.7 429.4L1588 431.2L1593.7 433.1" stroke="#231f20" stroke-width="0.5"/>
<path d="M1586.7 540.2L1581 542L1586.7 543.8" stroke="#231f20" stroke-width="0.5"/>
<path d="M1589.7 575.7L1584 577.5L1589.7 579.3" stroke="#231f20" stroke-width="0.5"/>
<text x="1603.8" y="415.5" font-size="6">SPRLF</text>
<text x="1635.8" y="415.5" font-size="5.8" font-weight="bold">+3V</text>
<text x="1603.8" y="429.5" font-size="6">SPRLCS</text>
<text x="1635.8" y="429.5" font-size="5.8" font-weight="bold">+3V</text>
<text x="1595" y="540.5" font-size="6">SPRLSB</text>
<text x="1624.5" y="540.5" font-size="5.8" font-weight="bold">+3V</text>
<text x="1596.2" y="576.2" font-size="6">SPRLZ2</text>
<text x="1626.2" y="576.2" font-size="5.8" font-weight="bold">0V</text>
<text x="1580" y="408.8" font-size="6">Q6601</text>
<text x="1537" y="421.2" font-size="6">Q6602</text>
<text x="1540" y="533" font-size="6">Q6603</text>
<text x="1573.8" y="563.8" font-size="6">Q6604</text>
<text x="1573.8" y="569.5" font-size="6">RN1405</text>
<text x="1547" y="460.5" font-size="6.3" textLength="81.2" lengthAdjust="spacingAndGlyphs">Q6601 - 6604 : KRC105S</text>
<text x="1557.5" y="570" font-size="5.8" transform="rotate(-90 1557.5 570)">R6693</text>
<circle cx="1613.2" cy="559.5" r="7.5" fill="none" stroke="#231f20" stroke-width="0.7"/>
<text x="1613.2" y="563.7" font-size="11.5" font-weight="bold" text-anchor="middle">B</text>
<text x="1623" y="557" font-size="6.5" font-weight="bold">LIST</text>
<text x="1693.8" y="423.8" font-size="6" text-anchor="middle">R6690</text>
<text x="1693.8" y="430" font-size="6.2" font-weight="bold" text-anchor="middle">LIST</text>
<path d="M1689.5 435L1690.1 433.7L1691.3 436.3L1692.5 433.7L1693.7 436.3L1694.9 433.7L1695.5 435" stroke="#343132" stroke-width="0.6"/>
<rect x="1753.2" y="430" width="11.2" height="96.2" fill="#fff" stroke="#343132" stroke-width="0.7" rx="5"/>
<circle cx="1759" cy="435" r="2.4" fill="#fff" stroke="#231f20" stroke-width="0.7"/>
<text x="1751.2" y="433.8" font-size="6" text-anchor="end">+24V  1</text>
<circle cx="1759" cy="445.8" r="2.4" fill="#fff" stroke="#231f20" stroke-width="0.7"/>
<text x="1751.2" y="444.6" font-size="6" text-anchor="end">RLGND  2</text>
<circle cx="1759" cy="456.5" r="2.4" fill="#fff" stroke="#231f20" stroke-width="0.7"/>
<text x="1751.2" y="455.3" font-size="6" text-anchor="end">SBRSPE  3</text>
<circle cx="1759" cy="467.2" r="2.4" fill="#fff" stroke="#231f20" stroke-width="0.7"/>
<text x="1751.2" y="466.1" font-size="6" text-anchor="end">SRSPE  4</text>
<circle cx="1759" cy="478" r="2.4" fill="#fff" stroke="#231f20" stroke-width="0.7"/>
<text x="1751.2" y="476.8" font-size="6" text-anchor="end">RSPE  5</text>
<circle cx="1759" cy="488.8" r="2.4" fill="#fff" stroke="#231f20" stroke-width="0.7"/>
<text x="1751.2" y="487.6" font-size="6" text-anchor="end">CSPE  6</text>
<circle cx="1759" cy="499.5" r="2.4" fill="#fff" stroke="#231f20" stroke-width="0.7"/>
<text x="1751.2" y="498.3" font-size="6" text-anchor="end">LSPE  7</text>
<circle cx="1759" cy="510" r="2.4" fill="#fff" stroke="#231f20" stroke-width="0.7"/>
<text x="1751.2" y="508.8" font-size="6" text-anchor="end">SLSPE  8</text>
<circle cx="1759" cy="521" r="2.4" fill="#fff" stroke="#231f20" stroke-width="0.7"/>
<text x="1751.2" y="519.8" font-size="6" text-anchor="end">SBLSPE  9</text>
<text x="1730" y="424.5" font-size="5.8">JL6603B</text>
<text x="1815" y="465" font-size="7.1" text-anchor="middle" textLength="53.8" lengthAdjust="spacingAndGlyphs">AMPLIFIER PCB</text>
<text x="1765.5" y="478" font-size="12.5" textLength="113.2" lengthAdjust="spacingAndGlyphs">To NAAF-9419 (2/2)</text>
<text x="1821.8" y="490.8" font-size="12.5" text-anchor="middle" textLength="55" lengthAdjust="spacingAndGlyphs">SD-2 : D5</text>
<rect x="1753.2" y="543.8" width="11.2" height="53.8" fill="#fff" stroke="#343132" stroke-width="0.7" rx="5"/>
<circle cx="1759" cy="549.2" r="2.4" fill="#fff" stroke="#231f20" stroke-width="0.7"/>
<text x="1750" y="554.2" font-size="5.2" text-anchor="middle">5</text>
<circle cx="1759" cy="560" r="2.4" fill="#fff" stroke="#231f20" stroke-width="0.7"/>
<text x="1750" y="565" font-size="5.2" text-anchor="middle">4</text>
<circle cx="1759" cy="570.8" r="2.4" fill="#fff" stroke="#231f20" stroke-width="0.7"/>
<text x="1750" y="575.8" font-size="5.2" text-anchor="middle">3</text>
<circle cx="1759" cy="581.5" r="2.4" fill="#fff" stroke="#231f20" stroke-width="0.7"/>
<text x="1750" y="586.5" font-size="5.2" text-anchor="middle">2</text>
<circle cx="1759" cy="592.5" r="2.4" fill="#fff" stroke="#231f20" stroke-width="0.7"/>
<text x="1750" y="597.5" font-size="5.2" text-anchor="middle">1</text>
<text x="1714.5" y="558.2" font-size="6">SBRSPE</text>
<text x="1714.5" y="568.8" font-size="6">SBLSPE</text>
<text x="1714.5" y="580" font-size="6">SPBROUT</text>
<text x="1714.5" y="590.8" font-size="6">SPBLOUT</text>
<text x="1721.2" y="602.5" font-size="5.8">JL6604B</text>
<text x="1726.2" y="609.5" font-size="6.2" font-weight="bold">LIST</text>
<path d="M1764.5 570.8L1884.5 570.8" stroke="#343132" stroke-width="0.8" shape-rendering="crispEdges"/>
<text x="1828" y="579.2" font-size="7.1" text-anchor="middle" textLength="53.8" lengthAdjust="spacingAndGlyphs">AMPLIFIER PCB</text>
<text x="1771.2" y="593" font-size="12.5" textLength="113.2" lengthAdjust="spacingAndGlyphs">To NAAF-9419 (1/2)</text>
<text x="1828" y="605.8" font-size="12.5" text-anchor="middle" textLength="55" lengthAdjust="spacingAndGlyphs">SD-1 : G3</text>
<rect x="1756.2" y="701.2" width="7" height="49.2" fill="#fff" stroke="#343132" stroke-width="0.7" shape-rendering="crispEdges"/>
<circle cx="1760" cy="705" r="1.9" fill="#fff" stroke="#231f20" stroke-width="0.7"/>
<text x="1752.5" y="704.2" font-size="5" text-anchor="middle">1</text>
<circle cx="1760" cy="712" r="1.9" fill="#fff" stroke="#231f20" stroke-width="0.7"/>
<text x="1752.5" y="711.2" font-size="5" text-anchor="middle">2</text>
<circle cx="1760" cy="719.2" r="1.9" fill="#fff" stroke="#231f20" stroke-width="0.7"/>
<text x="1752.5" y="718.5" font-size="5" text-anchor="middle">3</text>
<circle cx="1760" cy="726.2" r="1.9" fill="#fff" stroke="#231f20" stroke-width="0.7"/>
<text x="1752.5" y="725.5" font-size="5" text-anchor="middle">4</text>
<circle cx="1760" cy="733.2" r="1.9" fill="#fff" stroke="#231f20" stroke-width="0.7"/>
<text x="1752.5" y="732.5" font-size="5" text-anchor="middle">5</text>
<circle cx="1760" cy="740.5" r="1.9" fill="#fff" stroke="#231f20" stroke-width="0.7"/>
<text x="1752.5" y="739.7" font-size="5" text-anchor="middle">6</text>
<circle cx="1760" cy="747.5" r="1.9" fill="#fff" stroke="#231f20" stroke-width="0.7"/>
<text x="1752.5" y="746.7" font-size="5" text-anchor="middle">7</text>
<circle cx="1760" cy="705" r="1.5" fill="#231f20"/>
<text x="1711.8" y="703.3" font-size="6">SPRLF</text>
<text x="1711.8" y="710.3" font-size="6">SPRLCS</text>
<text x="1711.8" y="717.5" font-size="6">SPRLSB</text>
<text x="1711.8" y="724.5" font-size="6">SPRLZ2</text>
<text x="1711.8" y="731.5" font-size="6">HPDET</text>
<text x="1711.8" y="738.8" font-size="6">MPUGND</text>
<path d="M1756 747.5L1725.5 747.5L1725.5 740.5" stroke="#343132" stroke-width="0.8" shape-rendering="crispEdges"/>
<circle cx="1725.5" cy="740.5" r="1.5" fill="#231f20"/>
<path d="M1690.8 703.5L1686 705L1690.8 706.5" stroke="#777" stroke-width="0.5"/>
<path d="M1690.8 710.5L1686 712L1690.8 713.5" stroke="#777" stroke-width="0.5"/>
<path d="M1690.8 717.7L1686 719.2L1690.8 720.8" stroke="#777" stroke-width="0.5"/>
<path d="M1690.8 724.7L1686 726.2L1690.8 727.8" stroke="#777" stroke-width="0.5"/>
<path d="M1690.8 731.7L1686 733.2L1690.8 734.8" stroke="#777" stroke-width="0.5"/>
<text x="1755.8" y="696.2" font-size="5.8" transform="rotate(-90 1755.8 696.2)">JL9102A</text>
<text x="1808.8" y="711.8" font-size="7.1" text-anchor="middle" textLength="38.5" lengthAdjust="spacingAndGlyphs">VIDEO PCB</text>
<text x="1766.2" y="726.2" font-size="12.5" textLength="85.5" lengthAdjust="spacingAndGlyphs">To NAVD-9467</text>
<text x="1808.8" y="739.2" font-size="12.5" text-anchor="middle" textLength="55" lengthAdjust="spacingAndGlyphs">SD-4 : C4</text>
<text x="135.9" y="805.8" font-size="6.9" textLength="203.6" lengthAdjust="spacingAndGlyphs">Refer to following table about the parts displayed by mark *</text>
<text x="345" y="805.8" font-size="6.9" font-weight="bold">LIST</text>
<text x="363.4" y="805.8" font-size="6.9">*.</text>
<text x="135.9" y="817.5" font-size="6.9" textLength="85.5" lengthAdjust="spacingAndGlyphs">TA5 : Jumper wire L=5 mm</text>
<rect x="561.8" y="823.1" width="68.5" height="172.2" fill="#dcedf9" stroke="none" stroke-width="0.7" shape-rendering="crispEdges"/>
<rect x="134.6" y="823.1" width="682.4" height="172.2" fill="none" stroke="#3a3a3a" stroke-width="1" shape-rendering="crispEdges"/>
<path d="M212.4 823.1L212.4 995.3" stroke="#3a3a3a" stroke-width="0.9" shape-rendering="crispEdges"/>
<path d="M345.7 823.1L345.7 995.3" stroke="#3a3a3a" stroke-width="0.9" shape-rendering="crispEdges"/>
<path d="M383.4 823.1L383.4 995.3" stroke="#3a3a3a" stroke-width="0.9" shape-rendering="crispEdges"/>
<path d="M449.6 823.1L449.6 995.3" stroke="#3a3a3a" stroke-width="0.9" shape-rendering="crispEdges"/>
<path d="M514.4 823.1L514.4 995.3" stroke="#3a3a3a" stroke-width="0.9" shape-rendering="crispEdges"/>
<path d="M561.8 823.1L561.8 995.3" stroke="#3a3a3a" stroke-width="0.9" shape-rendering="crispEdges"/>
<path d="M630.3 823.1L630.3 995.3" stroke="#3a3a3a" stroke-width="0.9" shape-rendering="crispEdges"/>
<path d="M769.2 823.1L769.2 995.3" stroke="#3a3a3a" stroke-width="0.9" shape-rendering="crispEdges"/>
<path d="M134.6 837.8L817 837.8" stroke="#343132" stroke-width="0.7" stroke-dasharray="1 1.5" shape-rendering="crispEdges"/>
<text x="142.6" y="833.2" font-size="8">MODEL No. ---&gt;</text>
<text x="279.1" y="833.2" font-size="8" text-anchor="middle">TX-SR506</text>
<text x="364.5" y="833.2" font-size="8" text-anchor="middle">HT-R518</text>
<text x="416.5" y="833.2" font-size="8" text-anchor="middle">HT-R560</text>
<text x="482" y="833.2" font-size="8" text-anchor="middle">TX-SR576</text>
<text x="538.1" y="833.2" font-size="8" text-anchor="middle">HT-R667</text>
<text x="596" y="833.2" font-size="8" font-weight="bold" text-anchor="middle">HT-R960</text>
<text x="699.8" y="833.2" font-size="8" text-anchor="middle">TX-SR606</text>
<text x="793.1" y="833.2" font-size="8" text-anchor="middle">TX-SA606X</text>
<text x="142.6" y="848.3" font-size="8">TYPE ---&gt;</text>
<text x="218.9" y="847.3" font-size="8">MDD,</text>
<text x="218.9" y="855.3" font-size="8">MDC</text>
<text x="252.6" y="847.3" font-size="8">MPP,</text>
<text x="252.6" y="855.3" font-size="8">MPB</text>
<path d="M244.8 837.8L244.8 867.4" stroke="#343132" stroke-width="0.7" stroke-dasharray="1 1.5" shape-rendering="crispEdges"/>
<text x="284.4" y="847.3" font-size="8">MGK,</text>
<text x="284.4" y="855.3" font-size="8">MGQ,</text>
<text x="284.4" y="863.3" font-size="8">MGR</text>
<path d="M277.9 837.8L277.9 867.4" stroke="#343132" stroke-width="0.7" stroke-dasharray="1 1.5" shape-rendering="crispEdges"/>
<text x="317.7" y="847.3" font-size="8">MWT,</text>
<text x="317.7" y="855.3" font-size="8">MWO,</text>
<text x="317.7" y="863.3" font-size="8">MWF</text>
<path d="M311.3 837.8L311.3 867.4" stroke="#343132" stroke-width="0.7" stroke-dasharray="1 1.5" shape-rendering="crispEdges"/>
<text x="364.5" y="848.3" font-size="8" text-anchor="middle">MPP</text>
<text x="389.9" y="847.3" font-size="8">MDD,</text>
<text x="389.9" y="855.3" font-size="8">MDC</text>
<text x="424.5" y="847.3" font-size="8">MPP</text>
<path d="M415.8 837.8L415.8 867.4" stroke="#343132" stroke-width="0.7" stroke-dasharray="1 1.5" shape-rendering="crispEdges"/>
<text x="455.6" y="847.3" font-size="8">MDD,</text>
<text x="455.6" y="855.3" font-size="8">MDC</text>
<text x="488.9" y="847.3" font-size="8">MPP,</text>
<text x="488.9" y="855.3" font-size="8">MPA</text>
<path d="M481 837.8L481 867.4" stroke="#343132" stroke-width="0.7" stroke-dasharray="1 1.5" shape-rendering="crispEdges"/>
<text x="538.1" y="848.3" font-size="8" text-anchor="middle">MDD</text>
<text x="569.5" y="847.3" font-size="8" font-weight="bold">MDC</text>
<text x="604.2" y="847.3" font-size="8" font-weight="bold">MPP</text>
<path d="M594.5 837.8L594.5 867.4" stroke="#343132" stroke-width="0.7" stroke-dasharray="1 1.5" shape-rendering="crispEdges"/>
<text x="637.1" y="847.3" font-size="8">MDD,</text>
<text x="637.1" y="855.3" font-size="8">MDC</text>
<text x="672.3" y="847.3" font-size="8">MPP,</text>
<text x="672.3" y="855.3" font-size="8">MPA,</text>
<text x="672.3" y="863.3" font-size="8">MPB</text>
<path d="M663.4 837.8L663.4 867.4" stroke="#343132" stroke-width="0.7" stroke-dasharray="1 1.5" shape-rendering="crispEdges"/>
<text x="707.1" y="847.3" font-size="8">MGK,</text>
<text x="707.1" y="855.3" font-size="8">MGQ,</text>
<text x="707.1" y="863.3" font-size="8">MGR</text>
<path d="M699.1 837.8L699.1 867.4" stroke="#343132" stroke-width="0.7" stroke-dasharray="1 1.5" shape-rendering="crispEdges"/>
<text x="741.5" y="847.3" font-size="8">MWT,</text>
<text x="741.5" y="855.3" font-size="8">MWO,</text>
<text x="741.5" y="863.3" font-size="8">MWF</text>
<path d="M735.5 837.8L735.5 867.4" stroke="#343132" stroke-width="0.7" stroke-dasharray="1 1.5" shape-rendering="crispEdges"/>
<text x="793.1" y="848.3" font-size="8" text-anchor="middle">MJJ</text>
<path d="M134.6 867.4L817 867.4" stroke="#3a3a3a" stroke-width="0.9" shape-rendering="crispEdges"/>
<path d="M134.6 883.4L817 883.4" stroke="#3a3a3a" stroke-width="0.9" shape-rendering="crispEdges"/>
<circle cx="158.7" cy="875.4" r="5.8" fill="#fff" stroke="#231f20" stroke-width="0.8"/>
<text x="158.7" y="878.6" font-size="8.5" font-weight="bold" text-anchor="middle">D</text>
<text x="228.6" y="877.1" font-size="6.4" text-anchor="middle">None</text>
<text x="261.4" y="877.1" font-size="6.4" text-anchor="middle">None</text>
<path d="M244.8 867.4L244.8 883.4" stroke="#343132" stroke-width="0.7" stroke-dasharray="1 1.5" shape-rendering="crispEdges"/>
<text x="294.6" y="877.1" font-size="6.4" text-anchor="middle">None</text>
<path d="M277.9 867.4L277.9 883.4" stroke="#343132" stroke-width="0.7" stroke-dasharray="1 1.5" shape-rendering="crispEdges"/>
<text x="328.5" y="877.1" font-size="6.4" text-anchor="middle">Yes</text>
<path d="M311.3 867.4L311.3 883.4" stroke="#343132" stroke-width="0.7" stroke-dasharray="1 1.5" shape-rendering="crispEdges"/>
<text x="364.5" y="877.1" font-size="6.4" text-anchor="middle">None</text>
<text x="416.5" y="877.1" font-size="6.4" text-anchor="middle">None</text>
<text x="482" y="877.1" font-size="6.4" text-anchor="middle">None</text>
<text x="538.1" y="877.1" font-size="6.4" text-anchor="middle">None</text>
<text x="596" y="877.1" font-size="6.4" font-weight="bold" text-anchor="middle">None</text>
<text x="682.9" y="877.1" font-size="6.4" text-anchor="middle">None</text>
<text x="752.4" y="877.1" font-size="6.4" text-anchor="middle">Yes</text>
<path d="M735.5 867.4L735.5 883.4" stroke="#343132" stroke-width="0.7" stroke-dasharray="1 1.5" shape-rendering="crispEdges"/>
<text x="793.1" y="877.1" font-size="6.4" text-anchor="middle">None</text>
<path d="M134.6 898.4L817 898.4" stroke="#3a3a3a" stroke-width="0.9" shape-rendering="crispEdges"/>
<circle cx="158.7" cy="890.9" r="5.8" fill="#fff" stroke="#231f20" stroke-width="0.8"/>
<text x="158.7" y="894.1" font-size="8.5" font-weight="bold" text-anchor="middle">E</text>
<text x="279.1" y="893.8" font-size="6.4" text-anchor="middle">None</text>
<text x="364.5" y="893.8" font-size="6.4" text-anchor="middle">None</text>
<text x="416.5" y="893.8" font-size="6.4" text-anchor="middle">None</text>
<text x="482" y="893.8" font-size="6.4" text-anchor="middle">None</text>
<text x="538.1" y="893.8" font-size="6.4" text-anchor="middle">None</text>
<text x="596" y="893.8" font-size="6.4" font-weight="bold" text-anchor="middle">None</text>
<text x="699.8" y="893.8" font-size="6.4" text-anchor="middle">None</text>
<text x="793.1" y="893.8" font-size="6.4" text-anchor="middle">Yes</text>
<path d="M134.6 909.5L817 909.5" stroke="#3a3a3a" stroke-width="0.9" shape-rendering="crispEdges"/>
<text x="158.7" y="906.1" font-size="7.4" text-anchor="middle">T901</text>
<text x="185.4" y="906.1" font-size="6">NPT-</text>
<text x="228.6" y="905.8" font-size="6.4" text-anchor="middle">1516D</text>
<text x="261.4" y="905.8" font-size="6.4" text-anchor="middle">1516P</text>
<path d="M244.8 898.4L244.8 909.5" stroke="#343132" stroke-width="0.7" stroke-dasharray="1 1.5" shape-rendering="crispEdges"/>
<text x="294.6" y="905.8" font-size="6.4" text-anchor="middle">1516P</text>
<path d="M277.9 898.4L277.9 909.5" stroke="#343132" stroke-width="0.7" stroke-dasharray="1 1.5" shape-rendering="crispEdges"/>
<text x="328.5" y="905.8" font-size="6.4" text-anchor="middle">1516DG</text>
<path d="M311.3 898.4L311.3 909.5" stroke="#343132" stroke-width="0.7" stroke-dasharray="1 1.5" shape-rendering="crispEdges"/>
<text x="364.5" y="905.8" font-size="6.4" text-anchor="middle">1517P</text>
<text x="399.6" y="905.8" font-size="6.4" text-anchor="middle">1517D</text>
<text x="432.7" y="905.8" font-size="6.4" text-anchor="middle">1517P</text>
<path d="M415.8 898.4L415.8 909.5" stroke="#343132" stroke-width="0.7" stroke-dasharray="1 1.5" shape-rendering="crispEdges"/>
<text x="465.3" y="905.8" font-size="6.4" text-anchor="middle">1516D</text>
<text x="497.7" y="905.8" font-size="6.4" text-anchor="middle">1516P</text>
<path d="M481 898.4L481 909.5" stroke="#343132" stroke-width="0.7" stroke-dasharray="1 1.5" shape-rendering="crispEdges"/>
<text x="538.1" y="905.8" font-size="6.4" text-anchor="middle">1574D</text>
<text x="578.1" y="905.8" font-size="6.4" font-weight="bold" text-anchor="middle">1574D</text>
<text x="612.4" y="905.8" font-size="6.4" font-weight="bold" text-anchor="middle">1574P</text>
<path d="M594.5 898.4L594.5 909.5" stroke="#343132" stroke-width="0.7" stroke-dasharray="1 1.5" shape-rendering="crispEdges"/>
<text x="646.8" y="905.8" font-size="6.4" text-anchor="middle">1552D</text>
<text x="681.2" y="905.8" font-size="6.4" text-anchor="middle">1552P</text>
<path d="M663.4 898.4L663.4 909.5" stroke="#343132" stroke-width="0.7" stroke-dasharray="1 1.5" shape-rendering="crispEdges"/>
<text x="717.3" y="905.8" font-size="6.4" text-anchor="middle">1552G</text>
<path d="M699.1 898.4L699.1 909.5" stroke="#343132" stroke-width="0.7" stroke-dasharray="1 1.5" shape-rendering="crispEdges"/>
<text x="752.4" y="905.8" font-size="6.4" text-anchor="middle">1552DQ</text>
<path d="M735.5 898.4L735.5 909.5" stroke="#343132" stroke-width="0.7" stroke-dasharray="1 1.5" shape-rendering="crispEdges"/>
<text x="793.1" y="905.8" font-size="6.4" text-anchor="middle">1552J</text>
<path d="M134.6 920.2L817 920.2" stroke="#3a3a3a" stroke-width="0.9" shape-rendering="crispEdges"/>
<text x="158.7" y="917.1" font-size="7.4" text-anchor="middle">T902</text>
<text x="185.4" y="917.1" font-size="6">NPT-</text>
<text x="228.6" y="916.8" font-size="6.4" text-anchor="middle">1520JQ</text>
<text x="261.4" y="916.8" font-size="6.4" text-anchor="middle">1520GQ</text>
<path d="M244.8 909.5L244.8 920.2" stroke="#343132" stroke-width="0.7" stroke-dasharray="1 1.5" shape-rendering="crispEdges"/>
<text x="294.6" y="916.8" font-size="6.4" text-anchor="middle">1520GQ</text>
<path d="M277.9 909.5L277.9 920.2" stroke="#343132" stroke-width="0.7" stroke-dasharray="1 1.5" shape-rendering="crispEdges"/>
<text x="328.5" y="916.8" font-size="6.4" text-anchor="middle">1520JQ</text>
<path d="M311.3 909.5L311.3 920.2" stroke="#343132" stroke-width="0.7" stroke-dasharray="1 1.5" shape-rendering="crispEdges"/>
<text x="364.5" y="916.8" font-size="6.4" text-anchor="middle">1520GQ</text>
<text x="399.6" y="916.8" font-size="6.4" text-anchor="middle">1520JQ</text>
<text x="432.7" y="916.8" font-size="6.4" text-anchor="middle">1520GQ</text>
<path d="M415.8 909.5L415.8 920.2" stroke="#343132" stroke-width="0.7" stroke-dasharray="1 1.5" shape-rendering="crispEdges"/>
<text x="465.3" y="916.8" font-size="6.4" text-anchor="middle">1520JQ</text>
<text x="497.7" y="916.8" font-size="6.4" text-anchor="middle">1520GQ</text>
<path d="M481 909.5L481 920.2" stroke="#343132" stroke-width="0.7" stroke-dasharray="1 1.5" shape-rendering="crispEdges"/>
<text x="538.1" y="916.8" font-size="6.4" text-anchor="middle">1520JQ</text>
<text x="578.1" y="916.8" font-size="6.4" font-weight="bold" text-anchor="middle">1520JQ</text>
<text x="612.4" y="916.8" font-size="6.4" font-weight="bold" text-anchor="middle">1520GQ</text>
<path d="M594.5 909.5L594.5 920.2" stroke="#343132" stroke-width="0.7" stroke-dasharray="1 1.5" shape-rendering="crispEdges"/>
<text x="646.8" y="916.8" font-size="6.4" text-anchor="middle">1520JQ</text>
<text x="681.2" y="916.8" font-size="6.4" text-anchor="middle">1520GQ</text>
<path d="M663.4 909.5L663.4 920.2" stroke="#343132" stroke-width="0.7" stroke-dasharray="1 1.5" shape-rendering="crispEdges"/>
<text x="717.3" y="916.8" font-size="6.4" text-anchor="middle">1520GQ</text>
<path d="M699.1 909.5L699.1 920.2" stroke="#343132" stroke-width="0.7" stroke-dasharray="1 1.5" shape-rendering="crispEdges"/>
<text x="752.4" y="916.8" font-size="6.4" text-anchor="middle">1520JQ</text>
<path d="M735.5 909.5L735.5 920.2" stroke="#343132" stroke-width="0.7" stroke-dasharray="1 1.5" shape-rendering="crispEdges"/>
<text x="793.1" y="916.8" font-size="6.4" text-anchor="middle">1520JQ</text>
<path d="M134.6 931.2L817 931.2" stroke="#3a3a3a" stroke-width="0.9" shape-rendering="crispEdges"/>
<text x="158.7" y="928.1" font-size="7.4" text-anchor="middle">C922</text>
<text x="228.6" y="927.8" font-size="6.4" text-anchor="middle">2200/25</text>
<text x="278.1" y="927.8" font-size="6.4" text-anchor="middle">2200/16</text>
<path d="M244.8 920.2L244.8 931.2" stroke="#343132" stroke-width="0.7" stroke-dasharray="1 1.5" shape-rendering="crispEdges"/>
<text x="328.5" y="927.8" font-size="6.4" text-anchor="middle">2200/35</text>
<path d="M311.3 920.2L311.3 931.2" stroke="#343132" stroke-width="0.7" stroke-dasharray="1 1.5" shape-rendering="crispEdges"/>
<text x="364.5" y="927.8" font-size="6.4" text-anchor="middle">2200/16</text>
<text x="399.6" y="927.8" font-size="6.4" text-anchor="middle">2200/25</text>
<text x="432.7" y="927.8" font-size="6.4" text-anchor="middle">2200/16</text>
<path d="M415.8 920.2L415.8 931.2" stroke="#343132" stroke-width="0.7" stroke-dasharray="1 1.5" shape-rendering="crispEdges"/>
<text x="465.3" y="927.8" font-size="6.4" text-anchor="middle">2200/25</text>
<text x="497.7" y="927.8" font-size="6.4" text-anchor="middle">2200/16</text>
<path d="M481 920.2L481 931.2" stroke="#343132" stroke-width="0.7" stroke-dasharray="1 1.5" shape-rendering="crispEdges"/>
<text x="538.1" y="927.8" font-size="6.4" text-anchor="middle">2200/25</text>
<text x="578.1" y="927.8" font-size="6.4" font-weight="bold" text-anchor="middle">2200/25</text>
<text x="612.4" y="927.8" font-size="6.4" font-weight="bold" text-anchor="middle">2200/16</text>
<path d="M594.5 920.2L594.5 931.2" stroke="#343132" stroke-width="0.7" stroke-dasharray="1 1.5" shape-rendering="crispEdges"/>
<text x="646.8" y="927.8" font-size="6.4" text-anchor="middle">2200/25</text>
<text x="681.2" y="927.8" font-size="6.4" text-anchor="middle">2200/16</text>
<path d="M663.4 920.2L663.4 931.2" stroke="#343132" stroke-width="0.7" stroke-dasharray="1 1.5" shape-rendering="crispEdges"/>
<text x="717.3" y="927.8" font-size="6.4" text-anchor="middle">2200/16</text>
<path d="M699.1 920.2L699.1 931.2" stroke="#343132" stroke-width="0.7" stroke-dasharray="1 1.5" shape-rendering="crispEdges"/>
<text x="752.4" y="927.8" font-size="6.4" text-anchor="middle">2200/35</text>
<path d="M735.5 920.2L735.5 931.2" stroke="#343132" stroke-width="0.7" stroke-dasharray="1 1.5" shape-rendering="crispEdges"/>
<text x="793.1" y="927.8" font-size="6.4" text-anchor="middle">2200/16</text>
<path d="M134.6 941.9L817 941.9" stroke="#3a3a3a" stroke-width="0.9" shape-rendering="crispEdges"/>
<text x="158.7" y="938.8" font-size="7.4" text-anchor="middle">R921</text>
<text x="261.9" y="938.5" font-size="6.4" text-anchor="middle">47(1/2W)</text>
<text x="328.5" y="938.5" font-size="6.4" text-anchor="middle">None</text>
<path d="M311.3 931.2L311.3 941.9" stroke="#343132" stroke-width="0.7" stroke-dasharray="1 1.5" shape-rendering="crispEdges"/>
<text x="364.5" y="938.5" font-size="6.4" text-anchor="middle">47(1/2W)</text>
<text x="399.6" y="938.5" font-size="6.4" text-anchor="middle">47(1/2W)</text>
<text x="432.7" y="938.5" font-size="6.4" text-anchor="middle">47(1/2W)</text>
<path d="M415.8 931.2L415.8 941.9" stroke="#343132" stroke-width="0.7" stroke-dasharray="1 1.5" shape-rendering="crispEdges"/>
<text x="465.3" y="938.5" font-size="6.4" text-anchor="middle">47(1/2W)</text>
<text x="497.7" y="938.5" font-size="6.4" text-anchor="middle">47(1/2W)</text>
<path d="M481 931.2L481 941.9" stroke="#343132" stroke-width="0.7" stroke-dasharray="1 1.5" shape-rendering="crispEdges"/>
<text x="538.1" y="938.5" font-size="6.4" text-anchor="middle">47(1/2W)</text>
<text x="596" y="938.5" font-size="6.4" font-weight="bold" text-anchor="middle">47(1/2W)</text>
<text x="682.9" y="938.5" font-size="6.4" text-anchor="middle">47(1/2W)</text>
<text x="752.4" y="938.5" font-size="6.4" text-anchor="middle">None</text>
<path d="M735.5 931.2L735.5 941.9" stroke="#343132" stroke-width="0.7" stroke-dasharray="1 1.5" shape-rendering="crispEdges"/>
<text x="793.1" y="938.5" font-size="6.4" text-anchor="middle">47(1/2W)</text>
<path d="M134.6 952.9L817 952.9" stroke="#3a3a3a" stroke-width="0.9" shape-rendering="crispEdges"/>
<text x="158.7" y="949.2" font-size="7.4" text-anchor="middle">R9101</text>
<text x="228.6" y="948.9" font-size="6.4" text-anchor="middle">0.1(1/2W)</text>
<text x="295.2" y="948.9" font-size="6.4" text-anchor="middle">0.22(1/W)</text>
<path d="M244.8 941.9L244.8 952.9" stroke="#343132" stroke-width="0.7" stroke-dasharray="1 1.5" shape-rendering="crispEdges"/>
<text x="364.5" y="948.9" font-size="6.4" text-anchor="middle">0.22(1/W)</text>
<text x="399.6" y="948.9" font-size="6.4" text-anchor="middle">0.1(1/2W)</text>
<text x="432.7" y="948.9" font-size="6.4" text-anchor="middle">0.22(1/W)</text>
<path d="M415.8 941.9L415.8 952.9" stroke="#343132" stroke-width="0.7" stroke-dasharray="1 1.5" shape-rendering="crispEdges"/>
<text x="465.3" y="948.9" font-size="6.4" text-anchor="middle">0.1(1/2W)</text>
<text x="497.7" y="948.9" font-size="6.4" text-anchor="middle">0.22(1/W)</text>
<path d="M481 941.9L481 952.9" stroke="#343132" stroke-width="0.7" stroke-dasharray="1 1.5" shape-rendering="crispEdges"/>
<text x="538.1" y="948.9" font-size="6.4" text-anchor="middle">0.1(1/2W)</text>
<text x="578.1" y="948.9" font-size="6.4" font-weight="bold" text-anchor="middle">0.1(1/2W)</text>
<text x="612.4" y="948.9" font-size="6.4" font-weight="bold" text-anchor="middle">0.22(1/W)</text>
<path d="M594.5 941.9L594.5 952.9" stroke="#343132" stroke-width="0.7" stroke-dasharray="1 1.5" shape-rendering="crispEdges"/>
<text x="699.8" y="948.9" font-size="6.4" text-anchor="middle">None</text>
<text x="793.1" y="948.9" font-size="6.4" text-anchor="middle">None</text>
<path d="M134.6 962.9L817 962.9" stroke="#3a3a3a" stroke-width="0.9" shape-rendering="crispEdges"/>
<text x="158.7" y="959.9" font-size="7.4" text-anchor="middle">F901</text>
<text x="228.6" y="959.6" font-size="6.4" text-anchor="middle">8A/125V</text>
<text x="295.2" y="959.6" font-size="6.4" text-anchor="middle">4A/250V</text>
<path d="M244.8 952.9L244.8 962.9" stroke="#343132" stroke-width="0.7" stroke-dasharray="1 1.5" shape-rendering="crispEdges"/>
<text x="364.5" y="959.6" font-size="6.4" text-anchor="middle">4A/250V</text>
<text x="399.6" y="959.6" font-size="6.4" text-anchor="middle">8A/125V</text>
<text x="432.7" y="959.6" font-size="6.4" text-anchor="middle">4A/250V</text>
<path d="M415.8 952.9L415.8 962.9" stroke="#343132" stroke-width="0.7" stroke-dasharray="1 1.5" shape-rendering="crispEdges"/>
<text x="465.3" y="959.6" font-size="6.4" text-anchor="middle">8A/125V</text>
<text x="497.7" y="959.6" font-size="6.4" text-anchor="middle">4A/250V</text>
<path d="M481 952.9L481 962.9" stroke="#343132" stroke-width="0.7" stroke-dasharray="1 1.5" shape-rendering="crispEdges"/>
<text x="538.1" y="959.6" font-size="6.4" text-anchor="middle">8A/125V</text>
<text x="578.1" y="959.6" font-size="6.4" font-weight="bold" text-anchor="middle">8A/125V</text>
<text x="612.4" y="959.6" font-size="6.4" font-weight="bold" text-anchor="middle">4A/250V</text>
<path d="M594.5 952.9L594.5 962.9" stroke="#343132" stroke-width="0.7" stroke-dasharray="1 1.5" shape-rendering="crispEdges"/>
<text x="646.8" y="959.6" font-size="6.4" text-anchor="middle">10A/250V</text>
<text x="716.3" y="959.6" font-size="6.4" text-anchor="middle">5A/250V</text>
<path d="M663.4 952.9L663.4 962.9" stroke="#343132" stroke-width="0.7" stroke-dasharray="1 1.5" shape-rendering="crispEdges"/>
<text x="793.1" y="959.6" font-size="6.4" text-anchor="middle">12A/250V</text>
<path d="M134.6 973.6L817 973.6" stroke="#3a3a3a" stroke-width="0.9" shape-rendering="crispEdges"/>
<text x="158.7" y="970.6" font-size="7.4" text-anchor="middle">F902</text>
<text x="261.9" y="970.3" font-size="6.4" text-anchor="middle">None</text>
<text x="328.5" y="970.3" font-size="6.4" text-anchor="middle">4A/250V</text>
<path d="M311.3 962.9L311.3 973.6" stroke="#343132" stroke-width="0.7" stroke-dasharray="1 1.5" shape-rendering="crispEdges"/>
<text x="364.5" y="970.3" font-size="6.4" text-anchor="middle">None</text>
<text x="416.5" y="970.3" font-size="6.4" text-anchor="middle">None</text>
<text x="482" y="970.3" font-size="6.4" text-anchor="middle">None</text>
<text x="538.1" y="970.3" font-size="6.4" text-anchor="middle">None</text>
<text x="596" y="970.3" font-size="6.4" font-weight="bold" text-anchor="middle">None</text>
<text x="682.9" y="970.3" font-size="6.4" text-anchor="middle">None</text>
<text x="752.4" y="970.3" font-size="6.4" text-anchor="middle">5A/250V</text>
<path d="M735.5 962.9L735.5 973.6" stroke="#343132" stroke-width="0.7" stroke-dasharray="1 1.5" shape-rendering="crispEdges"/>
<text x="793.1" y="970.3" font-size="6.4" text-anchor="middle">None</text>
<path d="M134.6 984.3L817 984.3" stroke="#3a3a3a" stroke-width="0.9" shape-rendering="crispEdges"/>
<text x="158.7" y="981.3" font-size="7.4" text-anchor="middle">F910</text>
<text x="279.1" y="981" font-size="6.4" text-anchor="middle">None</text>
<text x="364.5" y="981" font-size="6.4" text-anchor="middle">None</text>
<text x="416.5" y="981" font-size="6.4" text-anchor="middle">None</text>
<text x="482" y="981" font-size="6.4" text-anchor="middle">None</text>
<text x="538.1" y="981" font-size="6.4" text-anchor="middle">None</text>
<text x="596" y="981" font-size="6.4" font-weight="bold" text-anchor="middle">None</text>
<text x="699.8" y="981" font-size="6.4" text-anchor="middle">5A/125V</text>
<text x="793.1" y="981" font-size="6.4" text-anchor="middle">5A/125V</text>
<path d="M134.6 995.3L817 995.3" stroke="#3a3a3a" stroke-width="0.9" shape-rendering="crispEdges"/>
<text x="158.7" y="992.3" font-size="7.4" text-anchor="middle">J931</text>
<text x="261.9" y="992" font-size="6.4" text-anchor="middle">Yes</text>
<text x="328.5" y="992" font-size="6.4" text-anchor="middle">None</text>
<path d="M311.3 984.3L311.3 995.3" stroke="#343132" stroke-width="0.7" stroke-dasharray="1 1.5" shape-rendering="crispEdges"/>
<text x="364.5" y="992" font-size="6.4" text-anchor="middle">Yes</text>
<text x="416.5" y="992" font-size="6.4" text-anchor="middle">Yes</text>
<text x="482" y="992" font-size="6.4" text-anchor="middle">Yes</text>
<text x="538.1" y="992" font-size="6.4" text-anchor="middle">Yes</text>
<text x="596" y="992" font-size="6.4" font-weight="bold" text-anchor="middle">Yes</text>
<text x="682.9" y="992" font-size="6.4" text-anchor="middle">Yes</text>
<text x="752.4" y="992" font-size="6.4" text-anchor="middle">None</text>
<path d="M735.5 984.3L735.5 995.3" stroke="#343132" stroke-width="0.7" stroke-dasharray="1 1.5" shape-rendering="crispEdges"/>
<text x="793.1" y="992" font-size="6.4" text-anchor="middle">Yes</text>
<text x="1078.5" y="965.3" font-size="6.9" textLength="203.6" lengthAdjust="spacingAndGlyphs">Refer to following table about the parts displayed by mark *</text>
<text x="1287.6" y="965.3" font-size="6.9" font-weight="bold">LIST</text>
<text x="1306" y="965.3" font-size="6.9">*.</text>
<rect x="1456.3" y="969.6" width="49.5" height="196.1" fill="#dcedf9" stroke="none" stroke-width="0.7" shape-rendering="crispEdges"/>
<rect x="1077.2" y="969.6" width="581.2" height="196.1" fill="none" stroke="#3a3a3a" stroke-width="1" shape-rendering="crispEdges"/>
<path d="M1144.3 969.6L1144.3 1165.7" stroke="#3a3a3a" stroke-width="0.9" shape-rendering="crispEdges"/>
<path d="M1259.9 969.6L1259.9 1165.7" stroke="#3a3a3a" stroke-width="0.9" shape-rendering="crispEdges"/>
<path d="M1299 969.6L1299 1165.7" stroke="#3a3a3a" stroke-width="0.9" shape-rendering="crispEdges"/>
<path d="M1348.4 969.6L1348.4 1165.7" stroke="#3a3a3a" stroke-width="0.9" shape-rendering="crispEdges"/>
<path d="M1405.6 969.6L1405.6 1165.7" stroke="#3a3a3a" stroke-width="0.9" shape-rendering="crispEdges"/>
<path d="M1456.3 969.6L1456.3 1165.7" stroke="#3a3a3a" stroke-width="0.9" shape-rendering="crispEdges"/>
<path d="M1505.8 969.6L1505.8 1165.7" stroke="#3a3a3a" stroke-width="0.9" shape-rendering="crispEdges"/>
<path d="M1607.3 969.6L1607.3 1165.7" stroke="#3a3a3a" stroke-width="0.9" shape-rendering="crispEdges"/>
<path d="M1077.2 984.6L1658.4 984.6" stroke="#343132" stroke-width="0.7" stroke-dasharray="1 1.5" shape-rendering="crispEdges"/>
<text x="1080.7" y="980.3" font-size="8">MODEL No. ---&gt;</text>
<text x="1202.1" y="980.3" font-size="8" text-anchor="middle">TX-SR506</text>
<text x="1279.5" y="980.3" font-size="8" text-anchor="middle">HT-R518</text>
<text x="1323.7" y="980.3" font-size="8" text-anchor="middle">HT-R560</text>
<text x="1377" y="980.3" font-size="8" text-anchor="middle">TX-SR576</text>
<text x="1430.9" y="980.3" font-size="8" text-anchor="middle">HT-R667</text>
<text x="1481" y="980.3" font-size="8" font-weight="bold" text-anchor="middle">HT-R960</text>
<text x="1556.5" y="980.3" font-size="8" text-anchor="middle">TX-SR606</text>
<text x="1632.8" y="980.3" font-size="8" text-anchor="middle">TX-SA606X</text>
<text x="1080.7" y="996" font-size="8">TYPE ---&gt;</text>
<text x="1149.8" y="995" font-size="8">MDD,</text>
<text x="1149.8" y="1003" font-size="8">MDC</text>
<text x="1180.3" y="995" font-size="8">MPP,</text>
<text x="1180.3" y="1003" font-size="8">MPB</text>
<path d="M1174.7 984.6L1174.7 1014.3" stroke="#343132" stroke-width="0.7" stroke-dasharray="1 1.5" shape-rendering="crispEdges"/>
<text x="1207.4" y="995" font-size="8">MGK,</text>
<text x="1207.4" y="1003" font-size="8">MGQ,</text>
<text x="1207.4" y="1011" font-size="8">MGR</text>
<path d="M1203.4 984.6L1203.4 1014.3" stroke="#343132" stroke-width="0.7" stroke-dasharray="1 1.5" shape-rendering="crispEdges"/>
<text x="1235" y="995" font-size="8">MWT,</text>
<text x="1235" y="1003" font-size="8">MWO,</text>
<text x="1235" y="1011" font-size="8">MWF</text>
<path d="M1231.8 984.6L1231.8 1014.3" stroke="#343132" stroke-width="0.7" stroke-dasharray="1 1.5" shape-rendering="crispEdges"/>
<text x="1279.5" y="996" font-size="8" text-anchor="middle">MPP</text>
<text x="1301.5" y="995" font-size="8">MDD,</text>
<text x="1301.5" y="1003" font-size="8">MDC</text>
<text x="1327.7" y="995" font-size="8">MPP</text>
<path d="M1323.4 984.6L1323.4 1014.3" stroke="#343132" stroke-width="0.7" stroke-dasharray="1 1.5" shape-rendering="crispEdges"/>
<text x="1352.9" y="995" font-size="8">MDD,</text>
<text x="1352.9" y="1003" font-size="8">MDC</text>
<text x="1382.4" y="995" font-size="8">MPP,</text>
<text x="1382.4" y="1003" font-size="8">MPA</text>
<path d="M1376.8 984.6L1376.8 1014.3" stroke="#343132" stroke-width="0.7" stroke-dasharray="1 1.5" shape-rendering="crispEdges"/>
<text x="1430.9" y="996" font-size="8" text-anchor="middle">MDD</text>
<text x="1460.2" y="995" font-size="8" font-weight="bold">MDC</text>
<text x="1485.4" y="995" font-size="8" font-weight="bold">MPP</text>
<path d="M1481.4 984.6L1481.4 1014.3" stroke="#343132" stroke-width="0.7" stroke-dasharray="1 1.5" shape-rendering="crispEdges"/>
<text x="1509.2" y="995" font-size="8">MDD,</text>
<text x="1509.2" y="1003" font-size="8">MDC</text>
<text x="1535.7" y="995" font-size="8">MPP,</text>
<text x="1535.7" y="1003" font-size="8">MPA,</text>
<text x="1535.7" y="1011" font-size="8">MPB</text>
<path d="M1532.1 984.6L1532.1 1014.3" stroke="#343132" stroke-width="0.7" stroke-dasharray="1 1.5" shape-rendering="crispEdges"/>
<text x="1559.5" y="995" font-size="8">MGK,</text>
<text x="1559.5" y="1003" font-size="8">MGQ,</text>
<text x="1559.5" y="1011" font-size="8">MGR</text>
<path d="M1557.2 984.6L1557.2 1014.3" stroke="#343132" stroke-width="0.7" stroke-dasharray="1 1.5" shape-rendering="crispEdges"/>
<text x="1583.9" y="995" font-size="8">MWT,</text>
<text x="1583.9" y="1003" font-size="8">MWO,</text>
<text x="1583.9" y="1011" font-size="8">MWF</text>
<path d="M1582.2 984.6L1582.2 1014.3" stroke="#343132" stroke-width="0.7" stroke-dasharray="1 1.5" shape-rendering="crispEdges"/>
<text x="1632.8" y="996" font-size="8" text-anchor="middle">MJJ</text>
<path d="M1077.2 1014.3L1658.4 1014.3" stroke="#3a3a3a" stroke-width="0.9" shape-rendering="crispEdges"/>
<path d="M1077.2 1028.7L1658.4 1028.7" stroke="#3a3a3a" stroke-width="0.9" shape-rendering="crispEdges"/>
<circle cx="1108.2" cy="1021.5" r="5.8" fill="#fff" stroke="#231f20" stroke-width="0.8"/>
<text x="1108.2" y="1024.7" font-size="8.5" font-weight="bold" text-anchor="middle">A</text>
<text x="1202.1" y="1024" font-size="6.4" text-anchor="middle">Yes</text>
<text x="1279.5" y="1024" font-size="6.4" text-anchor="middle">None</text>
<text x="1323.7" y="1024" font-size="6.4" text-anchor="middle">Yes</text>
<text x="1377" y="1024" font-size="6.4" text-anchor="middle">Yes</text>
<text x="1430.9" y="1024" font-size="6.4" text-anchor="middle">Yes</text>
<text x="1481" y="1024" font-size="6.4" font-weight="bold" text-anchor="middle">Yes</text>
<text x="1556.5" y="1024" font-size="6.4" text-anchor="middle">Yes</text>
<text x="1632.8" y="1024" font-size="6.4" text-anchor="middle">Yes</text>
<path d="M1077.2 1043.1L1658.4 1043.1" stroke="#3a3a3a" stroke-width="0.9" shape-rendering="crispEdges"/>
<circle cx="1108.2" cy="1035.9" r="5.8" fill="#fff" stroke="#231f20" stroke-width="0.8"/>
<text x="1108.2" y="1039.1" font-size="8.5" font-weight="bold" text-anchor="middle">B</text>
<text x="1202.1" y="1038" font-size="6.4" text-anchor="middle">None</text>
<text x="1279.5" y="1038" font-size="6.4" text-anchor="middle">None</text>
<text x="1323.7" y="1038" font-size="6.4" text-anchor="middle">None</text>
<text x="1377" y="1038" font-size="6.4" text-anchor="middle">Yes</text>
<text x="1430.9" y="1038" font-size="6.4" text-anchor="middle">Yes</text>
<text x="1481" y="1038" font-size="6.4" font-weight="bold" text-anchor="middle">None</text>
<text x="1556.5" y="1038" font-size="6.4" text-anchor="middle">Yes</text>
<text x="1632.8" y="1038" font-size="6.4" text-anchor="middle">None</text>
<path d="M1077.2 1058.8L1658.4 1058.8" stroke="#3a3a3a" stroke-width="0.9" shape-rendering="crispEdges"/>
<circle cx="1108.2" cy="1050.9" r="5.8" fill="#fff" stroke="#231f20" stroke-width="0.8"/>
<text x="1108.2" y="1054.1" font-size="8.5" font-weight="bold" text-anchor="middle">C</text>
<text x="1202.1" y="1053" font-size="6.4" text-anchor="middle">None</text>
<text x="1279.5" y="1053" font-size="6.4" text-anchor="middle">None</text>
<text x="1323.7" y="1053" font-size="6.4" text-anchor="middle">None</text>
<text x="1377" y="1053" font-size="6.4" text-anchor="middle">None</text>
<text x="1430.9" y="1053" font-size="6.4" text-anchor="middle">None</text>
<text x="1481" y="1053" font-size="6.4" font-weight="bold" text-anchor="middle">None</text>
<text x="1518.9" y="1053" font-size="6.4" text-anchor="middle">No</text>
<text x="1569.7" y="1053" font-size="6.4" text-anchor="middle">Yes</text>
<path d="M1532.1 1043.1L1532.1 1058.8" stroke="#343132" stroke-width="0.7" stroke-dasharray="1 1.5" shape-rendering="crispEdges"/>
<text x="1632.8" y="1053" font-size="6.4" text-anchor="middle">None</text>
<path d="M1077.2 1072.8L1658.4 1072.8" stroke="#3a3a3a" stroke-width="0.9" shape-rendering="crispEdges"/>
<text x="1082.7" y="1068.8" font-size="7.1">L6600 - 6604</text>
<text x="1159.5" y="1068.4" font-size="6.4" text-anchor="middle">None</text>
<text x="1217.3" y="1068.4" font-size="6.4" text-anchor="middle">S-1.3C</text>
<path d="M1174.7 1058.8L1174.7 1072.8" stroke="#343132" stroke-width="0.7" stroke-dasharray="1 1.5" shape-rendering="crispEdges"/>
<text x="1279.5" y="1068.4" font-size="6.4" text-anchor="middle">S1.3C</text>
<text x="1311.2" y="1068.4" font-size="6.4" text-anchor="middle">None</text>
<text x="1335.9" y="1068.4" font-size="6.4" text-anchor="middle">S-1.3C</text>
<path d="M1323.4 1058.8L1323.4 1072.8" stroke="#343132" stroke-width="0.7" stroke-dasharray="1 1.5" shape-rendering="crispEdges"/>
<text x="1362.6" y="1068.4" font-size="6.4" text-anchor="middle">None</text>
<text x="1391.2" y="1068.4" font-size="6.4" text-anchor="middle">S-1.3C</text>
<path d="M1376.8 1058.8L1376.8 1072.8" stroke="#343132" stroke-width="0.7" stroke-dasharray="1 1.5" shape-rendering="crispEdges"/>
<text x="1430.9" y="1068.4" font-size="6.4" text-anchor="middle">None</text>
<text x="1468.8" y="1068.4" font-size="6.4" font-weight="bold" text-anchor="middle">None</text>
<text x="1493.6" y="1068.4" font-size="6.4" font-weight="bold" text-anchor="middle">S-1.3C</text>
<path d="M1481.4 1058.8L1481.4 1072.8" stroke="#343132" stroke-width="0.7" stroke-dasharray="1 1.5" shape-rendering="crispEdges"/>
<text x="1518.9" y="1068.4" font-size="6.4" text-anchor="middle">None</text>
<text x="1569.7" y="1068.4" font-size="6.4" text-anchor="middle">S-1.3C</text>
<path d="M1532.1 1058.8L1532.1 1072.8" stroke="#343132" stroke-width="0.7" stroke-dasharray="1 1.5" shape-rendering="crispEdges"/>
<text x="1632.8" y="1068.4" font-size="6.4" text-anchor="middle">None</text>
<path d="M1077.2 1085.5L1658.4 1085.5" stroke="#3a3a3a" stroke-width="0.9" shape-rendering="crispEdges"/>
<text x="1082.7" y="1081.5" font-size="7.1">L6605, 6606</text>
<text x="1159.5" y="1081.3" font-size="6.4" text-anchor="middle">None</text>
<text x="1217.3" y="1081.3" font-size="6.4" text-anchor="middle">S-1.3C</text>
<path d="M1174.7 1072.8L1174.7 1085.5" stroke="#343132" stroke-width="0.7" stroke-dasharray="1 1.5" shape-rendering="crispEdges"/>
<text x="1279.5" y="1081.3" font-size="6.4" text-anchor="middle">None</text>
<text x="1311.2" y="1081.3" font-size="6.4" text-anchor="middle">None</text>
<text x="1335.9" y="1081.3" font-size="6.4" text-anchor="middle">S-1.3C</text>
<path d="M1323.4 1072.8L1323.4 1085.5" stroke="#343132" stroke-width="0.7" stroke-dasharray="1 1.5" shape-rendering="crispEdges"/>
<text x="1362.6" y="1081.3" font-size="6.4" text-anchor="middle">None</text>
<text x="1391.2" y="1081.3" font-size="6.4" text-anchor="middle">S-1.3C</text>
<path d="M1376.8 1072.8L1376.8 1085.5" stroke="#343132" stroke-width="0.7" stroke-dasharray="1 1.5" shape-rendering="crispEdges"/>
<text x="1430.9" y="1081.3" font-size="6.4" text-anchor="middle">None</text>
<text x="1468.8" y="1081.3" font-size="6.4" font-weight="bold" text-anchor="middle">None</text>
<text x="1493.6" y="1081.3" font-size="6.4" font-weight="bold" text-anchor="middle">S-1.3C</text>
<path d="M1481.4 1072.8L1481.4 1085.5" stroke="#343132" stroke-width="0.7" stroke-dasharray="1 1.5" shape-rendering="crispEdges"/>
<text x="1518.9" y="1081.3" font-size="6.4" text-anchor="middle">None</text>
<text x="1569.7" y="1081.3" font-size="6.4" text-anchor="middle">S-1.3C</text>
<path d="M1532.1 1072.8L1532.1 1085.5" stroke="#343132" stroke-width="0.7" stroke-dasharray="1 1.5" shape-rendering="crispEdges"/>
<text x="1632.8" y="1081.3" font-size="6.4" text-anchor="middle">None</text>
<path d="M1077.2 1101.5L1658.4 1101.5" stroke="#3a3a3a" stroke-width="0.9" shape-rendering="crispEdges"/>
<text x="1082.7" y="1092.2" font-size="7.1">R6600 - 6606,</text>
<text x="1082.7" y="1099.2" font-size="7.1">R6610 - 6616</text>
<text x="1159.5" y="1096.2" font-size="6.4" text-anchor="middle">None</text>
<text x="1217.3" y="1096.2" font-size="6.4" text-anchor="middle">22</text>
<path d="M1174.7 1085.5L1174.7 1101.5" stroke="#343132" stroke-width="0.7" stroke-dasharray="1 1.5" shape-rendering="crispEdges"/>
<text x="1279.5" y="1096.2" font-size="6.4" text-anchor="middle">22</text>
<text x="1311.2" y="1096.2" font-size="6.4" text-anchor="middle">None</text>
<text x="1335.9" y="1096.2" font-size="6.4" text-anchor="middle">22</text>
<path d="M1323.4 1085.5L1323.4 1101.5" stroke="#343132" stroke-width="0.7" stroke-dasharray="1 1.5" shape-rendering="crispEdges"/>
<text x="1362.6" y="1096.2" font-size="6.4" text-anchor="middle">None</text>
<text x="1391.2" y="1096.2" font-size="6.4" text-anchor="middle">22</text>
<path d="M1376.8 1085.5L1376.8 1101.5" stroke="#343132" stroke-width="0.7" stroke-dasharray="1 1.5" shape-rendering="crispEdges"/>
<text x="1430.9" y="1096.2" font-size="6.4" text-anchor="middle">None</text>
<text x="1468.8" y="1096.2" font-size="6.4" font-weight="bold" text-anchor="middle">None</text>
<text x="1493.6" y="1096.2" font-size="6.4" font-weight="bold" text-anchor="middle">22</text>
<path d="M1481.4 1085.5L1481.4 1101.5" stroke="#343132" stroke-width="0.7" stroke-dasharray="1 1.5" shape-rendering="crispEdges"/>
<text x="1518.9" y="1096.2" font-size="6.4" text-anchor="middle">None</text>
<text x="1569.7" y="1096.2" font-size="6.4" text-anchor="middle">22</text>
<path d="M1532.1 1085.5L1532.1 1101.5" stroke="#343132" stroke-width="0.7" stroke-dasharray="1 1.5" shape-rendering="crispEdges"/>
<text x="1632.8" y="1096.2" font-size="6.4" text-anchor="middle">None</text>
<path d="M1077.2 1119.6L1658.4 1119.6" stroke="#3a3a3a" stroke-width="0.9" shape-rendering="crispEdges"/>
<text x="1082.7" y="1109.5" font-size="7.1">R6605, 6606,</text>
<text x="1082.7" y="1116.5" font-size="7.1">R6615, 6616</text>
<text x="1159.5" y="1112.5" font-size="6.4" text-anchor="middle">None</text>
<text x="1217.3" y="1112.5" font-size="6.4" text-anchor="middle">22</text>
<path d="M1174.7 1101.5L1174.7 1119.6" stroke="#343132" stroke-width="0.7" stroke-dasharray="1 1.5" shape-rendering="crispEdges"/>
<text x="1279.5" y="1112.5" font-size="6.4" text-anchor="middle">None</text>
<text x="1311.2" y="1112.5" font-size="6.4" text-anchor="middle">None</text>
<text x="1335.9" y="1112.5" font-size="6.4" text-anchor="middle">22</text>
<path d="M1323.4 1101.5L1323.4 1119.6" stroke="#343132" stroke-width="0.7" stroke-dasharray="1 1.5" shape-rendering="crispEdges"/>
<text x="1362.6" y="1112.5" font-size="6.4" text-anchor="middle">None</text>
<text x="1391.2" y="1112.5" font-size="6.4" text-anchor="middle">22</text>
<path d="M1376.8 1101.5L1376.8 1119.6" stroke="#343132" stroke-width="0.7" stroke-dasharray="1 1.5" shape-rendering="crispEdges"/>
<text x="1430.9" y="1112.5" font-size="6.4" text-anchor="middle">None</text>
<text x="1468.8" y="1112.5" font-size="6.4" font-weight="bold" text-anchor="middle">None</text>
<text x="1493.6" y="1112.5" font-size="6.4" font-weight="bold" text-anchor="middle">22</text>
<path d="M1481.4 1101.5L1481.4 1119.6" stroke="#343132" stroke-width="0.7" stroke-dasharray="1 1.5" shape-rendering="crispEdges"/>
<text x="1518.9" y="1112.5" font-size="6.4" text-anchor="middle">None</text>
<text x="1569.7" y="1112.5" font-size="6.4" text-anchor="middle">22</text>
<path d="M1532.1 1101.5L1532.1 1119.6" stroke="#343132" stroke-width="0.7" stroke-dasharray="1 1.5" shape-rendering="crispEdges"/>
<text x="1632.8" y="1112.5" font-size="6.4" text-anchor="middle">None</text>
<path d="M1077.2 1129.9L1658.4 1129.9" stroke="#3a3a3a" stroke-width="0.9" shape-rendering="crispEdges"/>
<text x="1082.7" y="1126.6" font-size="7.1">R6690</text>
<text x="1202.1" y="1126.6" font-size="6.4" text-anchor="middle">10(1/2W)</text>
<text x="1279.5" y="1126.6" font-size="6.4" text-anchor="middle">33(1/2W)</text>
<text x="1323.7" y="1126.6" font-size="6.4" text-anchor="middle">33(1/2W)</text>
<text x="1377" y="1126.6" font-size="6.4" text-anchor="middle">10(1/2W)</text>
<text x="1430.9" y="1126.6" font-size="6.4" text-anchor="middle">33(1/2W)</text>
<text x="1481" y="1126.6" font-size="6.4" font-weight="bold" text-anchor="middle">33(1/2W)</text>
<text x="1556.5" y="1126.6" font-size="6.4" text-anchor="middle">10(1/2W)</text>
<text x="1632.8" y="1126.6" font-size="6.4" text-anchor="middle">10(1/2W)</text>
<path d="M1077.2 1153.3L1658.4 1153.3" stroke="#3a3a3a" stroke-width="0.9" shape-rendering="crispEdges"/>
<text x="1082.7" y="1136.3" font-size="7.1">J6600, 6604,</text>
<text x="1082.7" y="1143.3" font-size="7.1">J6619, 6620,</text>
<text x="1082.7" y="1150.3" font-size="7.1">J6625, 6626, 6851</text>
<text x="1159.5" y="1141.6" font-size="6.4" text-anchor="middle">TA5</text>
<text x="1217.3" y="1141.6" font-size="6.4" text-anchor="middle">None</text>
<path d="M1174.7 1129.9L1174.7 1153.3" stroke="#343132" stroke-width="0.7" stroke-dasharray="1 1.5" shape-rendering="crispEdges"/>
<text x="1279.5" y="1141.6" font-size="6.4" text-anchor="middle">None</text>
<text x="1311.2" y="1141.6" font-size="6.4" text-anchor="middle">Yes</text>
<text x="1335.9" y="1141.6" font-size="6.4" text-anchor="middle">None</text>
<path d="M1323.4 1129.9L1323.4 1153.3" stroke="#343132" stroke-width="0.7" stroke-dasharray="1 1.5" shape-rendering="crispEdges"/>
<text x="1362.6" y="1141.6" font-size="6.4" text-anchor="middle">Yes</text>
<text x="1391.2" y="1141.6" font-size="6.4" text-anchor="middle">None</text>
<path d="M1376.8 1129.9L1376.8 1153.3" stroke="#343132" stroke-width="0.7" stroke-dasharray="1 1.5" shape-rendering="crispEdges"/>
<text x="1430.9" y="1141.6" font-size="6.4" text-anchor="middle">Yes</text>
<text x="1468.8" y="1141.6" font-size="6.4" font-weight="bold" text-anchor="middle">Yes</text>
<text x="1493.6" y="1141.6" font-size="6.4" font-weight="bold" text-anchor="middle">None</text>
<path d="M1481.4 1129.9L1481.4 1153.3" stroke="#343132" stroke-width="0.7" stroke-dasharray="1 1.5" shape-rendering="crispEdges"/>
<text x="1518.9" y="1141.6" font-size="6.4" text-anchor="middle">Yes</text>
<text x="1569.7" y="1141.6" font-size="6.4" text-anchor="middle">None</text>
<path d="M1532.1 1129.9L1532.1 1153.3" stroke="#343132" stroke-width="0.7" stroke-dasharray="1 1.5" shape-rendering="crispEdges"/>
<text x="1632.8" y="1141.6" font-size="6.4" text-anchor="middle">Yes</text>
<path d="M1077.2 1165.7L1658.4 1165.7" stroke="#3a3a3a" stroke-width="0.9" shape-rendering="crispEdges"/>
<text x="1082.7" y="1160" font-size="7.1">JL6604B</text>
<text x="1202.1" y="1161" font-size="6.4" text-anchor="middle">Yes</text>
<text x="1279.5" y="1161" font-size="6.4" text-anchor="middle">None</text>
<text x="1323.7" y="1161" font-size="6.4" text-anchor="middle">Yes</text>
<text x="1377" y="1161" font-size="6.4" text-anchor="middle">Yes</text>
<text x="1430.9" y="1161" font-size="6.4" text-anchor="middle">Yes</text>
<text x="1481" y="1161" font-size="6.4" font-weight="bold" text-anchor="middle">Yes</text>
<text x="1556.5" y="1161" font-size="6.4" text-anchor="middle">Yes</text>
<text x="1632.8" y="1161" font-size="6.4" text-anchor="middle">None</text>
<rect x="139.3" y="640.8" width="180.7" height="77.1" fill="none" stroke="#555" stroke-width="0.9" shape-rendering="crispEdges"/>
<path d="M139.3 652.8L320 652.8" stroke="#555" stroke-width="0.9" shape-rendering="crispEdges"/>
<path d="M220.4 640.8L220.4 717.9" stroke="#555" stroke-width="0.9" shape-rendering="crispEdges"/>
<text x="145" y="650.5" font-size="7" font-weight="bold">TYPE</text>
<text x="225.5" y="650.5" font-size="7" font-weight="bold">AC IN</text>
<text x="145" y="664.5" font-size="7.9">MDD, MDC</text>
<text x="225.5" y="664.5" font-size="7.9">120V, 60Hz</text>
<text x="145" y="676.5" font-size="7.9">MPP, MPA, MPB</text>
<text x="225.5" y="676.5" font-size="7.9">230V, 50Hz</text>
<text x="145" y="688.5" font-size="7.9">MGK, MGQ, MGR</text>
<text x="225.5" y="688.5" font-size="7.9">220V, 50/60Hz</text>
<text x="145" y="700.2" font-size="7.9">MWT, MWO, MWF</text>
<text x="225.5" y="700.2" font-size="7.9">120V/220-240V, 50/60Hz</text>
<text x="145" y="712.3" font-size="7.9">MJJ</text>
<text x="225.5" y="712.3" font-size="7.9">100V, 50/60Hz</text>
<text x="1330.4" y="162.7" font-size="6.3" font-weight="bold">&lt;Note&gt;</text>
<text x="1330.4" y="173.7" font-size="6.6" textLength="94.5" lengthAdjust="spacingAndGlyphs">1. NC = No mount of parts.</text>
<text x="1330.4" y="184.7" font-size="6.6" textLength="199.4" lengthAdjust="spacingAndGlyphs">2. SD-x : XY is short for Schematic Diagrams-x and each</text>
<text x="1336.7" y="195.7" font-size="6.6" textLength="138" lengthAdjust="spacingAndGlyphs">sockets location, X = A to H, Y = 1 to 5.</text>
<text x="1331.7" y="224.8" font-size="6.6" textLength="91.3" lengthAdjust="spacingAndGlyphs">AUDIO ANALOG SIGNAL</text>
<path d="M1330.4 240.8L1400.5 240.8" stroke="#5bc0e8" stroke-width="1.8"/>
<path d="M1330.4 252.8L1400.5 252.8" stroke="#e888b0" stroke-width="1.8"/>
<text x="1409" y="243.2" font-size="6.6" textLength="33.5" lengthAdjust="spacingAndGlyphs">FRONT L</text>
<text x="1409" y="255.2" font-size="6.6" textLength="35" lengthAdjust="spacingAndGlyphs">FRONT R</text>
<text x="171.7" y="1041" font-size="13.8" textLength="62" lengthAdjust="spacingAndGlyphs">CAUTION</text>
<text x="171.7" y="1053.1" font-size="8.2" textLength="120.6" lengthAdjust="spacingAndGlyphs">FOR CONTINUED PROTECTION</text>
<text x="171.7" y="1062.8" font-size="8.2" textLength="131.3" lengthAdjust="spacingAndGlyphs">AGAINST FIRE HAZARD, REPLACE</text>
<text x="171.7" y="1072.5" font-size="8.2" textLength="128.3" lengthAdjust="spacingAndGlyphs">ONLY WITH FUSE OF SAME TYPE</text>
<text x="171.7" y="1082.1" font-size="8.2" textLength="95.5" lengthAdjust="spacingAndGlyphs">AND RATING INDICATED.</text>
<text x="171.7" y="1106.2" font-size="13.8" textLength="78" lengthAdjust="spacingAndGlyphs">ATTENTION</text>
<text x="171.7" y="1117.6" font-size="8.2" textLength="139.3" lengthAdjust="spacingAndGlyphs">AFIN D'ASSURER UNE PROTECTION</text>
<text x="171.7" y="1127.2" font-size="8.2" textLength="145.9" lengthAdjust="spacingAndGlyphs">PERMANENTE CONTRE LES RISQUES</text>
<text x="171.7" y="1136.9" font-size="8.2" textLength="154.6" lengthAdjust="spacingAndGlyphs">D'INCENDIE, REMPLACER UNIQUEMENT</text>
<text x="171.7" y="1146.6" font-size="8.2" textLength="127.3" lengthAdjust="spacingAndGlyphs">PAR UN FUSIBLE DE MEME TYPE</text>
<text x="171.7" y="1156.3" font-size="8.2" textLength="135.3" lengthAdjust="spacingAndGlyphs">ET CALIBRATION COMME INDIQUE.</text>
<path d="M146 1047.7L166.7 1081.5L125.3 1081.5Z" stroke="#555" stroke-width="0.7"/>
<rect x="138.6" y="1066" width="15" height="5" fill="none" stroke="#555" stroke-width="0.6" shape-rendering="crispEdges"/>
<path d="M141 1068.5L151 1068.5" stroke="#555" stroke-width="0.5" shape-rendering="crispEdges"/>
<text x="141.5" y="1078.1" font-size="4.2" text-anchor="middle" fill="#555">A</text>
<text x="156" y="1078.1" font-size="4.2" text-anchor="middle" fill="#555">V</text>
<path d="M133 1078.9L138 1078.9" stroke="#555" stroke-width="0.5" shape-rendering="crispEdges"/>
<path d="M146 1078.9L152 1078.9" stroke="#555" stroke-width="0.5" shape-rendering="crispEdges"/>
<path d="M146 1112.9L166.7 1146.3L125.3 1146.3Z" stroke="#555" stroke-width="0.7"/>
<rect x="138.6" y="1130.8" width="15" height="5" fill="none" stroke="#555" stroke-width="0.6" shape-rendering="crispEdges"/>
<path d="M141 1133.3L151 1133.3" stroke="#555" stroke-width="0.5" shape-rendering="crispEdges"/>
<text x="141.5" y="1142.9" font-size="4.2" text-anchor="middle" fill="#555">A</text>
<text x="156" y="1142.9" font-size="4.2" text-anchor="middle" fill="#555">V</text>
<path d="M133 1143.7L138 1143.7" stroke="#555" stroke-width="0.5" shape-rendering="crispEdges"/>
<path d="M146 1143.7L152 1143.7" stroke="#555" stroke-width="0.5" shape-rendering="crispEdges"/>
<path d="M334 1036.4L380 1036.4" stroke="#666" stroke-width="0.6" shape-rendering="crispEdges"/>
<rect x="338" y="1030.9" width="8.7" height="11" fill="#231f20" stroke="none" stroke-width="0.7" shape-rendering="crispEdges"/>
<rect x="346.7" y="1031.6" width="30.1" height="9.6" fill="none" stroke="#666" stroke-width="0.6" shape-rendering="crispEdges"/>
<rect x="367.4" y="1031.6" width="9.4" height="9.6" fill="none" stroke="#666" stroke-width="0.6" shape-rendering="crispEdges"/>
<path d="M367.4 1031.6L376.8 1041.2" stroke="#666" stroke-width="0.6"/>
<path d="M367.4 1041.2L376.8 1031.6" stroke="#666" stroke-width="0.6"/>
<path d="M334 1109.2L380 1109.2" stroke="#666" stroke-width="0.6" shape-rendering="crispEdges"/>
<rect x="338" y="1103.7" width="8.7" height="11" fill="#231f20" stroke="none" stroke-width="0.7" shape-rendering="crispEdges"/>
<rect x="346.7" y="1104.4" width="30.1" height="9.6" fill="none" stroke="#666" stroke-width="0.6" shape-rendering="crispEdges"/>
<rect x="367.4" y="1104.4" width="9.4" height="9.6" fill="none" stroke="#666" stroke-width="0.6" shape-rendering="crispEdges"/>
<path d="M367.4 1104.4L376.8 1114" stroke="#666" stroke-width="0.6"/>
<path d="M367.4 1114L376.8 1104.4" stroke="#666" stroke-width="0.6"/>
<text x="338" y="1052.8" font-size="8.2" textLength="203.7" lengthAdjust="spacingAndGlyphs">THIS SYMBOL LOCATED NEAR THE FUSE INDICATES</text>
<text x="338" y="1062.1" font-size="8.2" textLength="193.7" lengthAdjust="spacingAndGlyphs">THAT THE FUSE USED IS SLOW OPERATING TYPE</text>
<text x="338" y="1071.5" font-size="8.2" textLength="178" lengthAdjust="spacingAndGlyphs">FOR CONTINUED PROTECTION AGAINST FIRE</text>
<text x="338" y="1081.1" font-size="8.2" textLength="209.8" lengthAdjust="spacingAndGlyphs">HAZARD,REPLACE WITH SAME TYPE FUSE. FOR FUSE</text>
<text x="338" y="1090.5" font-size="8.2" textLength="242.5" lengthAdjust="spacingAndGlyphs">RATING REFER TO THE MARKING ADJACENT TO THE SYMBOL.</text>
<text x="338" y="1125.6" font-size="8.2" textLength="201" lengthAdjust="spacingAndGlyphs">CE SYMBOLE INDIQUE QUE LE FUSIBLE UTLISE EST</text>
<text x="338" y="1135.6" font-size="8.2" textLength="228.8" lengthAdjust="spacingAndGlyphs">E LENT.POUR UNE PROTECTION PERMANENTE,N'UTILISER</text>
<text x="338" y="1145.6" font-size="8.2" textLength="209.8" lengthAdjust="spacingAndGlyphs">QUE DES FUSIBLES DE MEME TYPE. CE DARNIER EST</text>
<text x="338" y="1156" font-size="8.2" textLength="201" lengthAdjust="spacingAndGlyphs">INDIQUE LA QU LE PRESENT SYMBOL EST APPOSE.</text>
<rect x="600.2" y="1013.7" width="28.8" height="12.7" fill="none" stroke="#343132" stroke-width="0.8" shape-rendering="crispEdges"/>
<text x="604" y="1023.7" font-size="7.7" textLength="21.5" lengthAdjust="spacingAndGlyphs">NOTE</text>
<text x="598.3" y="1037" font-size="7.7">•</text>
<text x="598.3" y="1059.4" font-size="7.7">•</text>
<text x="598.3" y="1070.5" font-size="7.7">•</text>
<text x="598.3" y="1081.8" font-size="7.7">•</text>
<text x="598.3" y="1092.8" font-size="7.7">•</text>
<text x="598.3" y="1103.9" font-size="7.7">•</text>
<text x="598.3" y="1114.9" font-size="7.7">•</text>
<text x="598.3" y="1137.3" font-size="7.7">•</text>
<text x="598.3" y="1148.6" font-size="7.7">•</text>
<text x="598.3" y="1170.7" font-size="7.7">•</text>
<text x="604.5" y="1037" font-size="8.2" textLength="159.7" lengthAdjust="spacingAndGlyphs">THE COMPONENTS IDENTIFIED BY MARK</text>
<path d="M772.6 1026.9L778.5 1037.8L766.8 1037.8Z" stroke="#231f20" stroke-width="0.7" style="fill:#fff"/>
<text x="772.6" y="1036.2" font-size="7.0200000000000005" font-weight="bold" text-anchor="middle">!</text>
<text x="782" y="1037" font-size="8.2" textLength="106.1" lengthAdjust="spacingAndGlyphs">ARE CRITICAL FOR SAFETY</text>
<text x="604.5" y="1048.1" font-size="8.2" textLength="189.1" lengthAdjust="spacingAndGlyphs">REPLACE ONLY WITH PART NUMBER SPECIFIED.</text>
<text x="604.5" y="1059.4" font-size="8.2" textLength="163.1" lengthAdjust="spacingAndGlyphs">VOLTAGE (MEASURED WITH VOLTMETER)</text>
<rect x="772" y="1052.8" width="33.3" height="7.6" fill="none" stroke="#343132" stroke-width="0.8" shape-rendering="crispEdges"/>
<text x="808" y="1059.4" font-size="8.2" textLength="137.6" lengthAdjust="spacingAndGlyphs">IS DC VOLTAGE.(No INPUT SIGNAL).</text>
<text x="604.5" y="1070.5" font-size="8.2" textLength="339.5" lengthAdjust="spacingAndGlyphs">ALL PNP TRANSISTORS ARE EQUIVALENT TO 2SA1015-GR UNLESS OTHERWISE NoTED.</text>
<text x="604.5" y="1081.8" font-size="8.2" textLength="340.5" lengthAdjust="spacingAndGlyphs">ALL NPN TRANSISTORS ARE EQUIVALENT TO 2SC1815-GR UNLESS OTHERWISE NoTED.</text>
<text x="604.5" y="1092.8" font-size="8.2" textLength="276" lengthAdjust="spacingAndGlyphs">ALL DIODES ARE EQUIVALENT TO 1SS133 UNLESS OTHERWISE NoTED.</text>
<text x="604.5" y="1103.9" font-size="8.2" textLength="118.3" lengthAdjust="spacingAndGlyphs">ELECTROLYTIC CAPACITORS (</text>
<path d="M728 1101.3L741 1101.3" stroke="#343132" stroke-width="0.7" shape-rendering="crispEdges"/>
<rect x="733.2" y="1099.9" width="2.6" height="2.8" fill="#fff" stroke="none" stroke-width="0.7" shape-rendering="crispEdges"/>
<path d="M733.2 1098.8L733.2 1103.8" stroke="#343132" stroke-width="0.7" shape-rendering="crispEdges"/>
<path d="M735.8 1098.8L735.8 1103.8" stroke="#343132" stroke-width="0.7" shape-rendering="crispEdges"/>
<path d="M733.3 1103.8L736.7 1100.8" stroke="#343132" stroke-width="0.4"/>
<path d="M733.5 1098.5L733.5 1104.1" stroke="#343132" stroke-width="0.7" shape-rendering="crispEdges"/>
<path d="M735.5 1098.5L735.5 1104.1" stroke="#343132" stroke-width="0.7" shape-rendering="crispEdges"/>
<text x="749.5" y="1103.9" font-size="8.2" textLength="60.2" lengthAdjust="spacingAndGlyphs">) ARE IN uF/WV.</text>
<text x="604.5" y="1114.9" font-size="8.2" textLength="246.5" lengthAdjust="spacingAndGlyphs">ALL CAPACITORS ARE IN pF/50WV UNLESS OTHERWISE NoTED.</text>
<text x="604.5" y="1126.2" font-size="8.2" textLength="178.1" lengthAdjust="spacingAndGlyphs">EX) 030- 3pF 330- 33pF 331- 330pF 333- 0.033uF</text>
<text x="604.5" y="1137.3" font-size="8.2" textLength="272.5" lengthAdjust="spacingAndGlyphs">ALL RESISTORS ARE IN OHMS 1/4WATTS UNLESS OTHERWISE NoTED.</text>
<text x="604.5" y="1148.6" font-size="8.2" textLength="284.3" lengthAdjust="spacingAndGlyphs">THE THICK LINES ON PC BOARD ARE THE PRINTING SIDE OF THE PARTS.</text>
<text x="604.5" y="1159.6" font-size="7.7">EX)</text>
<rect x="620.2" y="1152.5" width="30.6" height="8" fill="none" stroke="#231f20" stroke-width="1.6"/>
<text x="626.5" y="1159.3" font-size="7" font-weight="bold" text-anchor="middle">o</text>
<text x="635.5" y="1159.3" font-size="7" font-weight="bold" text-anchor="middle">o</text>
<text x="644.5" y="1159.3" font-size="7" font-weight="bold" text-anchor="middle">o</text>
<path d="M652.5 1160L677.7 1156.5" stroke="#343132" stroke-width="0.6"/>
<path d="M652 1160.1L657.4 1158.5L656 1160.1L657.4 1161.7Z" stroke="#231f20" stroke-width="0.3" style="fill:#231f20"/>
<text x="680" y="1159.6" font-size="8.2" textLength="58.2" lengthAdjust="spacingAndGlyphs">PRINTING SIDE</text>
<text x="604.5" y="1170.7" font-size="8.2" textLength="211.8" lengthAdjust="spacingAndGlyphs">CIRCUIT IS SUBJECT TO CHANGE FOR IMPROVEMENT.</text>
</svg>
</body></html>
